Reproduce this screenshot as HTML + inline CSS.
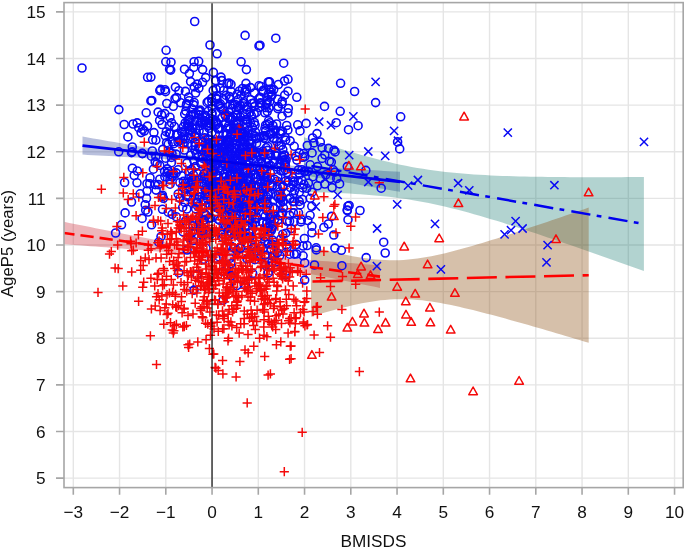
<!DOCTYPE html>
<html><head><meta charset="utf-8"><style>
html,body{margin:0;padding:0;background:#fff;width:685px;height:548px;overflow:hidden}
svg{display:block;will-change:transform;font-family:"Liberation Sans",sans-serif;font-size:17.2px;fill:#111}
</style></head><body>
<svg width="685" height="548" viewBox="0 0 685 548">
<defs><clipPath id="c"><rect x="64" y="2.6" width="619.2" height="485.0"/></clipPath></defs>
<g clip-path="url(#c)">
<path d="M73.30 2.6V487.6M119.55 2.6V487.6M165.80 2.6V487.6M212.05 2.6V487.6M258.30 2.6V487.6M304.55 2.6V487.6M350.80 2.6V487.6M397.05 2.6V487.6M443.30 2.6V487.6M489.55 2.6V487.6M535.80 2.6V487.6M582.05 2.6V487.6M628.30 2.6V487.6M674.55 2.6V487.6M64 478.10H683.2M64 431.48H683.2M64 384.86H683.2M64 338.24H683.2M64 291.62H683.2M64 245.00H683.2M64 198.38H683.2M64 151.76H683.2M64 105.14H683.2M64 58.52H683.2M64 11.90H683.2" stroke="#e5e5e5" stroke-width="1.4" fill="none"/>
<path d="M82.50 136.61 L87.79 137.52 L93.08 138.44 L98.38 139.35 L103.67 140.26 L108.96 141.17 L114.25 142.08 L119.54 142.99 L124.83 143.90 L130.12 144.81 L135.42 145.72 L140.71 146.63 L146.00 147.53 L151.29 148.44 L156.58 149.34 L161.88 150.24 L167.17 151.14 L172.46 152.04 L177.75 152.93 L183.04 153.82 L188.33 154.70 L193.62 155.57 L198.92 156.44 L204.21 157.29 L209.50 158.12 L214.79 158.93 L220.08 159.70 L225.38 160.42 L230.67 161.08 L235.96 161.67 L241.25 162.19 L246.54 162.66 L251.83 163.08 L257.12 163.47 L262.42 163.84 L267.71 164.19 L273.00 164.53 L278.29 164.86 L283.58 165.18 L288.88 165.50 L294.17 165.81 L299.46 166.12 L304.75 166.43 L310.04 166.73 L315.33 167.04 L320.62 167.34 L325.92 167.64 L331.21 167.94 L336.50 168.24 L341.79 168.53 L347.08 168.83 L352.38 169.13 L357.67 169.42 L362.96 169.72 L368.25 170.01 L373.54 170.31 L378.83 170.60 L384.12 170.90 L389.42 171.19 L394.71 171.48 L400.00 171.78 L400.00 191.82 L394.71 190.91 L389.42 190.00 L384.12 189.08 L378.83 188.17 L373.54 187.26 L368.25 186.35 L362.96 185.44 L357.67 184.52 L352.38 183.61 L347.08 182.70 L341.79 181.79 L336.50 180.88 L331.21 179.98 L325.92 179.07 L320.62 178.16 L315.33 177.26 L310.04 176.35 L304.75 175.45 L299.46 174.55 L294.17 173.65 L288.88 172.76 L283.58 171.87 L278.29 170.99 L273.00 170.11 L267.71 169.24 L262.42 168.38 L257.12 167.55 L251.83 166.73 L246.54 165.95 L241.25 165.21 L235.96 164.53 L230.67 163.91 L225.38 163.36 L220.08 162.88 L214.79 162.44 L209.50 162.04 L204.21 161.66 L198.92 161.31 L193.62 160.97 L188.33 160.63 L183.04 160.31 L177.75 159.99 L172.46 159.68 L167.17 159.37 L161.88 159.06 L156.58 158.75 L151.29 158.45 L146.00 158.15 L140.71 157.85 L135.42 157.55 L130.12 157.25 L124.83 156.95 L119.54 156.65 L114.25 156.36 L108.96 156.06 L103.67 155.77 L98.38 155.47 L93.08 155.18 L87.79 154.88 L82.50 154.59Z" fill="rgba(60,80,160,0.36)"/><path d="M64.00 221.81 L69.27 222.88 L74.53 223.94 L79.80 225.00 L85.07 226.06 L90.33 227.11 L95.60 228.17 L100.87 229.22 L106.13 230.27 L111.40 231.32 L116.67 232.37 L121.93 233.41 L127.20 234.45 L132.47 235.48 L137.73 236.51 L143.00 237.54 L148.27 238.56 L153.53 239.57 L158.80 240.57 L164.07 241.56 L169.33 242.54 L174.60 243.51 L179.87 244.47 L185.13 245.41 L190.40 246.32 L195.67 247.22 L200.93 248.09 L206.20 248.93 L211.47 249.74 L216.73 250.51 L222.00 251.25 L227.27 251.95 L232.53 252.62 L237.80 253.26 L243.07 253.87 L248.33 254.44 L253.60 255.00 L258.87 255.53 L264.13 256.04 L269.40 256.53 L274.67 257.01 L279.93 257.48 L285.20 257.94 L290.47 258.38 L295.73 258.83 L301.00 259.26 L306.27 259.69 L311.53 260.11 L316.80 260.53 L322.07 260.94 L327.33 261.35 L332.60 261.76 L337.87 262.16 L343.13 262.56 L348.40 262.96 L353.67 263.36 L358.93 263.76 L364.20 264.15 L369.47 264.54 L374.73 264.93 L380.00 265.32 L380.00 287.88 L374.73 286.81 L369.47 285.75 L364.20 284.69 L358.93 283.63 L353.67 282.57 L348.40 281.52 L343.13 280.46 L337.87 279.41 L332.60 278.36 L327.33 277.32 L322.07 276.27 L316.80 275.23 L311.53 274.20 L306.27 273.17 L301.00 272.14 L295.73 271.12 L290.47 270.11 L285.20 269.10 L279.93 268.11 L274.67 267.12 L269.40 266.15 L264.13 265.19 L258.87 264.25 L253.60 263.32 L248.33 262.42 L243.07 261.55 L237.80 260.70 L232.53 259.88 L227.27 259.10 L222.00 258.35 L216.73 257.64 L211.47 256.96 L206.20 256.31 L200.93 255.70 L195.67 255.11 L190.40 254.56 L185.13 254.02 L179.87 253.50 L174.60 253.01 L169.33 252.52 L164.07 252.05 L158.80 251.59 L153.53 251.14 L148.27 250.70 L143.00 250.26 L137.73 249.83 L132.47 249.41 L127.20 248.99 L121.93 248.58 L116.67 248.17 L111.40 247.76 L106.13 247.35 L100.87 246.95 L95.60 246.55 L90.33 246.15 L85.07 245.76 L79.80 245.36 L74.53 244.97 L69.27 244.58 L64.00 244.19Z" fill="rgba(200,30,45,0.33)"/><path d="M304.00 137.19 L309.67 139.05 L315.33 140.89 L321.00 142.71 L326.66 144.51 L332.32 146.29 L337.99 148.04 L343.65 149.76 L349.32 151.45 L354.99 153.11 L360.65 154.72 L366.31 156.30 L371.98 157.83 L377.64 159.30 L383.31 160.73 L388.98 162.09 L394.64 163.39 L400.31 164.63 L405.97 165.79 L411.63 166.89 L417.30 167.91 L422.96 168.86 L428.63 169.73 L434.29 170.54 L439.96 171.27 L445.62 171.95 L451.29 172.55 L456.95 173.10 L462.62 173.60 L468.28 174.05 L473.95 174.45 L479.62 174.80 L485.28 175.12 L490.94 175.41 L496.61 175.66 L502.27 175.89 L507.94 176.09 L513.61 176.27 L519.27 176.42 L524.93 176.56 L530.60 176.68 L536.26 176.78 L541.93 176.87 L547.60 176.94 L553.26 177.01 L558.92 177.06 L564.59 177.10 L570.25 177.14 L575.92 177.16 L581.59 177.18 L587.25 177.19 L592.91 177.20 L598.58 177.19 L604.24 177.19 L609.91 177.17 L615.58 177.16 L621.24 177.13 L626.90 177.11 L632.57 177.08 L638.23 177.05 L643.90 177.01 L643.90 270.99 L638.23 268.97 L632.57 266.96 L626.90 264.95 L621.24 262.95 L615.58 260.94 L609.91 258.95 L604.24 256.95 L598.58 254.97 L592.91 252.98 L587.25 251.01 L581.59 249.04 L575.92 247.08 L570.25 245.12 L564.59 243.18 L558.92 241.24 L553.26 239.31 L547.60 237.40 L541.93 235.49 L536.26 233.60 L530.60 231.72 L524.93 229.86 L519.27 228.02 L513.61 226.19 L507.94 224.39 L502.27 222.61 L496.61 220.86 L490.94 219.13 L485.28 217.44 L479.62 215.78 L473.95 214.15 L468.28 212.57 L462.62 211.04 L456.95 209.56 L451.29 208.13 L445.62 206.75 L439.96 205.45 L434.29 204.20 L428.63 203.03 L422.96 201.92 L417.30 200.89 L411.63 199.93 L405.97 199.05 L400.31 198.23 L394.64 197.49 L388.98 196.81 L383.31 196.19 L377.64 195.64 L371.98 195.13 L366.31 194.68 L360.65 194.28 L354.99 193.91 L349.32 193.59 L343.65 193.30 L337.99 193.04 L332.32 192.81 L326.66 192.61 L321.00 192.43 L315.33 192.27 L309.67 192.13 L304.00 192.01Z" fill="rgba(0,110,100,0.3)"/><path d="M311.00 246.71 L315.63 247.88 L320.26 249.04 L324.88 250.17 L329.51 251.26 L334.14 252.32 L338.77 253.35 L343.40 254.33 L348.03 255.26 L352.65 256.13 L357.28 256.94 L361.91 257.69 L366.54 258.35 L371.17 258.93 L375.80 259.41 L380.43 259.79 L385.05 260.06 L389.68 260.21 L394.31 260.23 L398.94 260.14 L403.57 259.92 L408.19 259.57 L412.82 259.11 L417.45 258.53 L422.08 257.85 L426.71 257.08 L431.34 256.21 L435.97 255.26 L440.59 254.25 L445.22 253.17 L449.85 252.03 L454.48 250.84 L459.11 249.61 L463.74 248.34 L468.36 247.03 L472.99 245.69 L477.62 244.33 L482.25 242.94 L486.88 241.52 L491.50 240.09 L496.13 238.64 L500.76 237.17 L505.39 235.69 L510.02 234.20 L514.65 232.69 L519.28 231.17 L523.90 229.65 L528.53 228.11 L533.16 226.57 L537.79 225.02 L542.42 223.46 L547.05 221.89 L551.67 220.32 L556.30 218.75 L560.93 217.17 L565.56 215.58 L570.19 213.99 L574.82 212.40 L579.44 210.80 L584.07 209.20 L588.70 207.60 L588.70 342.80 L584.07 341.41 L579.44 340.03 L574.82 338.65 L570.19 337.27 L565.56 335.90 L560.93 334.53 L556.30 333.17 L551.67 331.81 L547.05 330.46 L542.42 329.11 L537.79 327.77 L533.16 326.43 L528.53 325.11 L523.90 323.79 L519.28 322.48 L514.65 321.18 L510.02 319.89 L505.39 318.61 L500.76 317.34 L496.13 316.09 L491.50 314.86 L486.88 313.64 L482.25 312.45 L477.62 311.27 L472.99 310.12 L468.36 309.00 L463.74 307.91 L459.11 306.86 L454.48 305.84 L449.85 304.87 L445.22 303.95 L440.59 303.09 L435.97 302.29 L431.34 301.56 L426.71 300.91 L422.08 300.35 L417.45 299.88 L412.82 299.53 L408.19 299.28 L403.57 299.15 L398.94 299.15 L394.31 299.27 L389.68 299.51 L385.05 299.88 L380.43 300.36 L375.80 300.96 L371.17 301.66 L366.54 302.45 L361.91 303.33 L357.28 304.29 L352.65 305.32 L348.03 306.41 L343.40 307.56 L338.77 308.75 L334.14 309.99 L329.51 311.27 L324.88 312.58 L320.26 313.93 L315.63 315.30 L311.00 316.69Z" fill="rgba(140,80,20,0.36)"/>
<g fill="none" stroke="#0a0af5" stroke-width="1.6"><circle cx="300.9" cy="221.9" r="4"/><circle cx="229.7" cy="148.1" r="4"/><circle cx="213.3" cy="161.6" r="4"/><circle cx="245.5" cy="172.6" r="4"/><circle cx="175.0" cy="98.6" r="4"/><circle cx="233.7" cy="128.1" r="4"/><circle cx="200.5" cy="163.0" r="4"/><circle cx="244.2" cy="205.6" r="4"/><circle cx="265.8" cy="162.1" r="4"/><circle cx="213.9" cy="206.1" r="4"/><circle cx="228.5" cy="155.1" r="4"/><circle cx="197.4" cy="203.3" r="4"/><circle cx="198.8" cy="217.8" r="4"/><circle cx="286.9" cy="271.0" r="4"/><circle cx="208.4" cy="123.0" r="4"/><circle cx="245.9" cy="186.2" r="4"/><circle cx="281.2" cy="145.4" r="4"/><circle cx="199.2" cy="114.8" r="4"/><circle cx="239.9" cy="166.4" r="4"/><circle cx="82.0" cy="68.0" r="4"/><circle cx="304.5" cy="171.9" r="4"/><circle cx="228.4" cy="235.7" r="4"/><circle cx="229.7" cy="258.4" r="4"/><circle cx="254.4" cy="247.1" r="4"/><circle cx="235.2" cy="168.2" r="4"/><circle cx="297.7" cy="124.8" r="4"/><circle cx="246.6" cy="109.5" r="4"/><circle cx="267.7" cy="150.4" r="4"/><circle cx="212.2" cy="149.9" r="4"/><circle cx="211.9" cy="132.5" r="4"/><circle cx="239.7" cy="170.2" r="4"/><circle cx="245.1" cy="35.4" r="4"/><circle cx="209.4" cy="140.0" r="4"/><circle cx="226.1" cy="95.4" r="4"/><circle cx="187.9" cy="143.5" r="4"/><circle cx="124.2" cy="124.5" r="4"/><circle cx="254.2" cy="210.4" r="4"/><circle cx="234.4" cy="166.8" r="4"/><circle cx="164.8" cy="113.6" r="4"/><circle cx="228.5" cy="189.8" r="4"/><circle cx="229.9" cy="137.3" r="4"/><circle cx="213.0" cy="143.1" r="4"/><circle cx="261.5" cy="246.3" r="4"/><circle cx="400.7" cy="116.8" r="4"/><circle cx="397.6" cy="141.9" r="4"/><circle cx="243.1" cy="199.7" r="4"/><circle cx="268.1" cy="195.3" r="4"/><circle cx="255.5" cy="132.2" r="4"/><circle cx="161.0" cy="236.6" r="4"/><circle cx="265.4" cy="265.2" r="4"/><circle cx="131.5" cy="202.0" r="4"/><circle cx="276.0" cy="261.9" r="4"/><circle cx="221.3" cy="140.7" r="4"/><circle cx="229.4" cy="155.8" r="4"/><circle cx="216.7" cy="175.1" r="4"/><circle cx="251.3" cy="202.7" r="4"/><circle cx="269.3" cy="232.2" r="4"/><circle cx="213.3" cy="162.4" r="4"/><circle cx="268.3" cy="180.9" r="4"/><circle cx="259.0" cy="85.8" r="4"/><circle cx="159.8" cy="179.2" r="4"/><circle cx="198.5" cy="110.7" r="4"/><circle cx="212.1" cy="113.4" r="4"/><circle cx="153.4" cy="169.2" r="4"/><circle cx="155.9" cy="140.1" r="4"/><circle cx="210.8" cy="218.0" r="4"/><circle cx="227.0" cy="134.4" r="4"/><circle cx="259.5" cy="137.7" r="4"/><circle cx="172.0" cy="153.5" r="4"/><circle cx="250.2" cy="149.7" r="4"/><circle cx="238.5" cy="123.4" r="4"/><circle cx="245.4" cy="119.7" r="4"/><circle cx="204.6" cy="120.9" r="4"/><circle cx="214.0" cy="153.1" r="4"/><circle cx="187.9" cy="120.6" r="4"/><circle cx="244.2" cy="173.3" r="4"/><circle cx="215.4" cy="185.4" r="4"/><circle cx="233.0" cy="104.5" r="4"/><circle cx="275.0" cy="255.0" r="4"/><circle cx="206.0" cy="248.2" r="4"/><circle cx="292.7" cy="180.7" r="4"/><circle cx="248.1" cy="186.3" r="4"/><circle cx="286.7" cy="125.5" r="4"/><circle cx="216.1" cy="202.1" r="4"/><circle cx="320.3" cy="142.0" r="4"/><circle cx="316.2" cy="247.8" r="4"/><circle cx="204.2" cy="213.2" r="4"/><circle cx="221.8" cy="80.6" r="4"/><circle cx="230.3" cy="179.6" r="4"/><circle cx="252.7" cy="239.8" r="4"/><circle cx="179.6" cy="140.7" r="4"/><circle cx="239.3" cy="206.0" r="4"/><circle cx="150.9" cy="100.9" r="4"/><circle cx="225.1" cy="189.6" r="4"/><circle cx="150.0" cy="177.7" r="4"/><circle cx="269.7" cy="122.8" r="4"/><circle cx="202.9" cy="236.0" r="4"/><circle cx="271.7" cy="216.6" r="4"/><circle cx="243.5" cy="136.9" r="4"/><circle cx="289.7" cy="198.4" r="4"/><circle cx="294.2" cy="146.3" r="4"/><circle cx="284.1" cy="155.4" r="4"/><circle cx="256.0" cy="138.6" r="4"/><circle cx="282.1" cy="156.7" r="4"/><circle cx="328.5" cy="148.4" r="4"/><circle cx="262.8" cy="151.2" r="4"/><circle cx="274.6" cy="179.3" r="4"/><circle cx="229.4" cy="162.8" r="4"/><circle cx="225.8" cy="122.6" r="4"/><circle cx="236.3" cy="169.5" r="4"/><circle cx="212.9" cy="192.2" r="4"/><circle cx="162.2" cy="196.7" r="4"/><circle cx="229.8" cy="224.7" r="4"/><circle cx="246.4" cy="124.1" r="4"/><circle cx="285.4" cy="169.9" r="4"/><circle cx="347.3" cy="210.0" r="4"/><circle cx="137.3" cy="171.0" r="4"/><circle cx="224.5" cy="198.1" r="4"/><circle cx="223.9" cy="225.4" r="4"/><circle cx="213.0" cy="119.5" r="4"/><circle cx="208.3" cy="111.2" r="4"/><circle cx="199.1" cy="130.7" r="4"/><circle cx="293.1" cy="184.7" r="4"/><circle cx="260.8" cy="103.5" r="4"/><circle cx="247.7" cy="193.1" r="4"/><circle cx="252.5" cy="193.3" r="4"/><circle cx="220.4" cy="165.3" r="4"/><circle cx="285.5" cy="275.0" r="4"/><circle cx="241.7" cy="209.1" r="4"/><circle cx="261.1" cy="136.5" r="4"/><circle cx="285.4" cy="165.2" r="4"/><circle cx="276.7" cy="141.5" r="4"/><circle cx="241.8" cy="193.0" r="4"/><circle cx="259.8" cy="170.5" r="4"/><circle cx="218.6" cy="105.2" r="4"/><circle cx="150.9" cy="77.1" r="4"/><circle cx="225.4" cy="164.3" r="4"/><circle cx="271.9" cy="244.0" r="4"/><circle cx="216.9" cy="99.1" r="4"/><circle cx="224.4" cy="151.2" r="4"/><circle cx="208.8" cy="142.6" r="4"/><circle cx="210.4" cy="173.4" r="4"/><circle cx="205.7" cy="116.9" r="4"/><circle cx="320.3" cy="178.5" r="4"/><circle cx="115.6" cy="233.0" r="4"/><circle cx="298.4" cy="169.9" r="4"/><circle cx="221.1" cy="144.4" r="4"/><circle cx="253.9" cy="212.4" r="4"/><circle cx="206.1" cy="124.4" r="4"/><circle cx="227.2" cy="186.9" r="4"/><circle cx="243.1" cy="103.5" r="4"/><circle cx="231.7" cy="186.2" r="4"/><circle cx="205.1" cy="115.3" r="4"/><circle cx="237.0" cy="124.4" r="4"/><circle cx="188.6" cy="97.1" r="4"/><circle cx="187.7" cy="196.9" r="4"/><circle cx="329.4" cy="161.2" r="4"/><circle cx="226.7" cy="196.8" r="4"/><circle cx="170.0" cy="174.5" r="4"/><circle cx="162.0" cy="124.5" r="4"/><circle cx="158.1" cy="112.1" r="4"/><circle cx="158.7" cy="242.2" r="4"/><circle cx="188.8" cy="171.6" r="4"/><circle cx="219.9" cy="170.8" r="4"/><circle cx="304.4" cy="238.5" r="4"/><circle cx="234.4" cy="229.5" r="4"/><circle cx="299.3" cy="192.2" r="4"/><circle cx="224.0" cy="174.3" r="4"/><circle cx="255.7" cy="251.1" r="4"/><circle cx="312.1" cy="192.2" r="4"/><circle cx="273.0" cy="256.1" r="4"/><circle cx="283.6" cy="170.8" r="4"/><circle cx="216.1" cy="112.4" r="4"/><circle cx="133.1" cy="124.0" r="4"/><circle cx="269.3" cy="266.1" r="4"/><circle cx="229.0" cy="112.1" r="4"/><circle cx="273.1" cy="138.2" r="4"/><circle cx="217.9" cy="219.2" r="4"/><circle cx="254.4" cy="93.0" r="4"/><circle cx="244.2" cy="139.5" r="4"/><circle cx="232.6" cy="190.0" r="4"/><circle cx="203.0" cy="208.1" r="4"/><circle cx="233.5" cy="182.3" r="4"/><circle cx="244.0" cy="178.1" r="4"/><circle cx="245.6" cy="285.7" r="4"/><circle cx="155.8" cy="156.4" r="4"/><circle cx="232.0" cy="133.5" r="4"/><circle cx="270.5" cy="155.5" r="4"/><circle cx="275.2" cy="130.1" r="4"/><circle cx="247.7" cy="106.6" r="4"/><circle cx="173.6" cy="173.5" r="4"/><circle cx="142.2" cy="153.4" r="4"/><circle cx="218.1" cy="128.3" r="4"/><circle cx="252.0" cy="204.5" r="4"/><circle cx="251.5" cy="153.3" r="4"/><circle cx="248.8" cy="152.1" r="4"/><circle cx="203.7" cy="132.4" r="4"/><circle cx="233.1" cy="116.9" r="4"/><circle cx="227.1" cy="141.2" r="4"/><circle cx="301.4" cy="219.8" r="4"/><circle cx="172.1" cy="176.8" r="4"/><circle cx="210.8" cy="123.8" r="4"/><circle cx="280.3" cy="203.0" r="4"/><circle cx="127.9" cy="136.9" r="4"/><circle cx="229.4" cy="143.0" r="4"/><circle cx="207.6" cy="189.5" r="4"/><circle cx="245.9" cy="208.0" r="4"/><circle cx="197.6" cy="206.1" r="4"/><circle cx="215.3" cy="231.8" r="4"/><circle cx="281.0" cy="170.9" r="4"/><circle cx="298.2" cy="180.9" r="4"/><circle cx="256.9" cy="251.3" r="4"/><circle cx="257.5" cy="152.7" r="4"/><circle cx="265.7" cy="130.9" r="4"/><circle cx="231.0" cy="91.4" r="4"/><circle cx="220.8" cy="155.2" r="4"/><circle cx="258.9" cy="196.3" r="4"/><circle cx="212.7" cy="206.3" r="4"/><circle cx="235.2" cy="136.0" r="4"/><circle cx="208.7" cy="204.1" r="4"/><circle cx="347.3" cy="210.5" r="4"/><circle cx="205.7" cy="159.8" r="4"/><circle cx="302.0" cy="180.3" r="4"/><circle cx="291.1" cy="228.6" r="4"/><circle cx="173.3" cy="106.3" r="4"/><circle cx="176.6" cy="135.1" r="4"/><circle cx="218.8" cy="256.7" r="4"/><circle cx="252.8" cy="190.2" r="4"/><circle cx="260.6" cy="181.9" r="4"/><circle cx="239.4" cy="135.1" r="4"/><circle cx="263.5" cy="154.9" r="4"/><circle cx="217.7" cy="183.0" r="4"/><circle cx="238.5" cy="183.2" r="4"/><circle cx="151.4" cy="156.2" r="4"/><circle cx="261.1" cy="158.6" r="4"/><circle cx="197.0" cy="172.9" r="4"/><circle cx="294.5" cy="190.6" r="4"/><circle cx="183.1" cy="143.2" r="4"/><circle cx="142.4" cy="153.6" r="4"/><circle cx="166.8" cy="103.5" r="4"/><circle cx="224.9" cy="114.6" r="4"/><circle cx="255.1" cy="125.1" r="4"/><circle cx="168.3" cy="212.2" r="4"/><circle cx="258.7" cy="152.5" r="4"/><circle cx="223.1" cy="110.5" r="4"/><circle cx="294.0" cy="181.9" r="4"/><circle cx="216.2" cy="207.7" r="4"/><circle cx="250.2" cy="162.2" r="4"/><circle cx="172.4" cy="141.9" r="4"/><circle cx="248.0" cy="237.1" r="4"/><circle cx="242.7" cy="183.8" r="4"/><circle cx="234.7" cy="223.7" r="4"/><circle cx="365.8" cy="170.4" r="4"/><circle cx="216.2" cy="154.2" r="4"/><circle cx="220.5" cy="194.9" r="4"/><circle cx="348.5" cy="129.7" r="4"/><circle cx="260.4" cy="102.9" r="4"/><circle cx="251.2" cy="197.0" r="4"/><circle cx="236.4" cy="141.1" r="4"/><circle cx="227.9" cy="118.1" r="4"/><circle cx="165.2" cy="135.8" r="4"/><circle cx="336.7" cy="178.5" r="4"/><circle cx="146.5" cy="198.3" r="4"/><circle cx="268.3" cy="193.8" r="4"/><circle cx="235.9" cy="218.4" r="4"/><circle cx="247.6" cy="180.4" r="4"/><circle cx="296.3" cy="244.6" r="4"/><circle cx="167.3" cy="168.9" r="4"/><circle cx="266.8" cy="210.5" r="4"/><circle cx="209.1" cy="125.8" r="4"/><circle cx="303.6" cy="153.5" r="4"/><circle cx="170.2" cy="133.6" r="4"/><circle cx="311.9" cy="232.8" r="4"/><circle cx="184.4" cy="150.0" r="4"/><circle cx="226.8" cy="205.0" r="4"/><circle cx="280.3" cy="133.6" r="4"/><circle cx="229.2" cy="235.7" r="4"/><circle cx="219.8" cy="207.9" r="4"/><circle cx="220.5" cy="154.1" r="4"/><circle cx="254.2" cy="106.7" r="4"/><circle cx="239.2" cy="232.1" r="4"/><circle cx="190.6" cy="183.5" r="4"/><circle cx="248.4" cy="161.3" r="4"/><circle cx="261.1" cy="163.6" r="4"/><circle cx="270.0" cy="153.8" r="4"/><circle cx="165.7" cy="158.2" r="4"/><circle cx="203.8" cy="201.4" r="4"/><circle cx="223.1" cy="300.2" r="4"/><circle cx="137.0" cy="182.8" r="4"/><circle cx="300.1" cy="204.9" r="4"/><circle cx="259.4" cy="107.5" r="4"/><circle cx="220.2" cy="106.6" r="4"/><circle cx="230.5" cy="214.1" r="4"/><circle cx="230.2" cy="185.7" r="4"/><circle cx="184.8" cy="132.3" r="4"/><circle cx="206.8" cy="152.2" r="4"/><circle cx="226.5" cy="247.3" r="4"/><circle cx="270.9" cy="194.2" r="4"/><circle cx="285.1" cy="137.2" r="4"/><circle cx="242.6" cy="183.5" r="4"/><circle cx="231.1" cy="135.2" r="4"/><circle cx="171.4" cy="157.4" r="4"/><circle cx="212.2" cy="108.4" r="4"/><circle cx="266.9" cy="222.5" r="4"/><circle cx="273.2" cy="214.3" r="4"/><circle cx="231.8" cy="108.5" r="4"/><circle cx="220.5" cy="194.1" r="4"/><circle cx="225.5" cy="176.7" r="4"/><circle cx="228.5" cy="151.6" r="4"/><circle cx="272.6" cy="226.6" r="4"/><circle cx="288.0" cy="91.2" r="4"/><circle cx="252.8" cy="191.6" r="4"/><circle cx="145.7" cy="210.2" r="4"/><circle cx="265.2" cy="216.1" r="4"/><circle cx="240.0" cy="133.7" r="4"/><circle cx="259.8" cy="199.5" r="4"/><circle cx="248.5" cy="225.7" r="4"/><circle cx="261.0" cy="86.5" r="4"/><circle cx="287.9" cy="130.0" r="4"/><circle cx="228.1" cy="182.4" r="4"/><circle cx="212.0" cy="175.4" r="4"/><circle cx="251.8" cy="144.3" r="4"/><circle cx="204.3" cy="120.5" r="4"/><circle cx="230.6" cy="117.4" r="4"/><circle cx="271.2" cy="96.4" r="4"/><circle cx="277.3" cy="181.2" r="4"/><circle cx="269.9" cy="214.4" r="4"/><circle cx="205.7" cy="143.0" r="4"/><circle cx="280.9" cy="131.6" r="4"/><circle cx="225.3" cy="227.5" r="4"/><circle cx="252.4" cy="155.5" r="4"/><circle cx="284.5" cy="81.0" r="4"/><circle cx="266.9" cy="166.7" r="4"/><circle cx="267.7" cy="159.8" r="4"/><circle cx="263.4" cy="155.8" r="4"/><circle cx="239.2" cy="107.9" r="4"/><circle cx="339.6" cy="183.9" r="4"/><circle cx="183.0" cy="231.8" r="4"/><circle cx="195.2" cy="146.0" r="4"/><circle cx="262.9" cy="153.2" r="4"/><circle cx="289.8" cy="254.2" r="4"/><circle cx="267.0" cy="103.1" r="4"/><circle cx="192.2" cy="180.5" r="4"/><circle cx="292.9" cy="177.8" r="4"/><circle cx="226.7" cy="140.0" r="4"/><circle cx="282.5" cy="212.9" r="4"/><circle cx="226.6" cy="151.2" r="4"/></g>
<path fill="none" stroke="#f50a0a" stroke-width="1.5" d="M218.2 219.9h9.2M222.8 215.3v9.2M245.8 255.0h9.2M250.4 250.4v9.2M252.5 288.7h9.2M257.1 284.1v9.2"/>
<g fill="none" stroke="#0a0af5" stroke-width="1.6"><circle cx="358.1" cy="125.7" r="4"/></g>
<path fill="none" stroke="#f50a0a" stroke-width="1.5" d="M248.6 182.9h9.2M253.2 178.3v9.2M190.6 303.2h9.2M195.2 298.6v9.2M220.2 229.9h9.2M224.8 225.3v9.2"/>
<g fill="none" stroke="#0a0af5" stroke-width="1.6"><circle cx="287.2" cy="247.1" r="4"/></g>
<path fill="none" stroke="#f50a0a" stroke-width="1.5" d="M293.0 270.8h9.2M297.6 266.2v9.2"/>
<g fill="none" stroke="#0a0af5" stroke-width="1.6"><circle cx="210.0" cy="45.0" r="4"/></g>
<path fill="none" stroke="#f50a0a" stroke-width="1.5" d="M199.6 139.0h9.2M204.2 134.4v9.2M236.8 265.6h9.2M241.4 261.0v9.2"/>
<g fill="none" stroke="#0a0af5" stroke-width="1.6"><circle cx="200.2" cy="110.1" r="4"/></g>
<path fill="none" stroke="#f50a0a" stroke-width="1.5" d="M257.2 233.8h9.2M261.8 229.2v9.2"/>
<g fill="none" stroke="#0a0af5" stroke-width="1.6"><circle cx="250.5" cy="236.6" r="4"/></g>
<path fill="none" stroke="#f50a0a" stroke-width="1.5" d="M297.6 432.3h9.2M302.2 427.7v9.2M254.6 234.5h9.2M259.2 229.9v9.2M249.0 325.4h9.2M253.6 320.8v9.2"/>
<g fill="none" stroke="#0a0af5" stroke-width="1.6"><circle cx="175.4" cy="87.1" r="4"/></g>
<path fill="none" stroke="#f50a0a" stroke-width="1.5" d="M227.1 228.6h9.2M231.7 224.0v9.2"/>
<g fill="none" stroke="#0a0af5" stroke-width="1.6"><circle cx="198.1" cy="156.7" r="4"/><circle cx="239.8" cy="177.0" r="4"/><circle cx="205.9" cy="187.8" r="4"/><circle cx="304.8" cy="156.6" r="4"/></g>
<path fill="none" stroke="#f50a0a" stroke-width="1.5" d="M287.3 172.7h9.2M291.9 168.1v9.2M113.1 245.1h9.2M117.7 240.5v9.2M257.8 296.3h9.2M262.4 291.7v9.2M218.1 261.8h9.2M222.7 257.2v9.2"/>
<g fill="none" stroke="#0a0af5" stroke-width="1.6"><circle cx="249.4" cy="203.1" r="4"/></g>
<path fill="none" stroke="#f50a0a" stroke-width="1.5" d="M318.2 217.5h9.2M322.8 212.9v9.2"/>
<g fill="none" stroke="#0a0af5" stroke-width="1.6"><circle cx="242.2" cy="166.1" r="4"/></g>
<path fill="none" stroke="#f50a0a" stroke-width="1.5" d="M166.3 231.4h9.2M170.9 226.8v9.2"/>
<g fill="none" stroke="#0a0af5" stroke-width="1.6"><circle cx="248.3" cy="130.3" r="4"/></g>
<path fill="none" stroke="#f50a0a" stroke-width="1.5" d="M218.6 296.1h9.2M223.2 291.5v9.2"/>
<g fill="none" stroke="#0a0af5" stroke-width="1.6"><circle cx="228.9" cy="187.1" r="4"/></g>
<path fill="none" stroke="#f50a0a" stroke-width="1.5" d="M104.9 254.1h9.2M109.5 249.5v9.2M188.4 218.9h9.2M193.0 214.3v9.2"/>
<g fill="none" stroke="#0a0af5" stroke-width="1.6"><circle cx="262.5" cy="193.7" r="4"/><circle cx="270.3" cy="172.7" r="4"/></g>
<path fill="none" stroke="#f50a0a" stroke-width="1.5" d="M288.8 245.2h9.2M293.4 240.6v9.2"/>
<g fill="none" stroke="#0a0af5" stroke-width="1.6"><circle cx="178.9" cy="90.7" r="4"/><circle cx="244.7" cy="157.9" r="4"/></g>
<path fill="none" stroke="#f50a0a" stroke-width="1.5" d="M180.3 261.8h9.2M184.9 257.2v9.2M234.6 333.1h9.2M239.2 328.5v9.2M232.8 305.5h9.2M237.4 300.9v9.2"/>
<g fill="none" stroke="#0a0af5" stroke-width="1.6"><circle cx="221.0" cy="108.4" r="4"/><circle cx="240.0" cy="136.5" r="4"/><circle cx="277.8" cy="108.6" r="4"/><circle cx="231.8" cy="164.2" r="4"/></g>
<path fill="none" stroke="#f50a0a" stroke-width="1.5" d="M226.2 231.0h9.2M230.8 226.4v9.2M159.6 270.6h9.2M164.2 266.0v9.2"/>
<g fill="none" stroke="#0a0af5" stroke-width="1.6"><circle cx="216.6" cy="95.8" r="4"/><circle cx="147.5" cy="126.1" r="4"/></g>
<path fill="none" stroke="#f50a0a" stroke-width="1.5" d="M197.2 176.4h9.2M201.8 171.8v9.2"/>
<g fill="none" stroke="#0a0af5" stroke-width="1.6"><circle cx="125.1" cy="212.9" r="4"/></g>
<path fill="none" stroke="#f50a0a" stroke-width="1.5" d="M166.9 238.7h9.2M171.5 234.1v9.2M275.5 301.7h9.2M280.1 297.1v9.2M192.2 206.3h9.2M196.8 201.7v9.2M231.1 295.7h9.2M235.7 291.1v9.2M285.0 277.1h9.2M289.6 272.5v9.2M208.2 174.8h9.2M212.8 170.2v9.2M250.7 329.4h9.2M255.3 324.8v9.2"/>
<g fill="none" stroke="#0a0af5" stroke-width="1.6"><circle cx="275.8" cy="38.2" r="4"/><circle cx="252.4" cy="225.0" r="4"/></g>
<path fill="none" stroke="#f50a0a" stroke-width="1.5" d="M247.7 314.1h9.2M252.3 309.5v9.2M216.1 212.4h9.2M220.7 207.8v9.2M153.4 293.5h9.2M158.0 288.9v9.2M300.3 325.8h9.2M304.9 321.2v9.2"/>
<g fill="none" stroke="#0a0af5" stroke-width="1.6"><circle cx="162.4" cy="195.2" r="4"/></g>
<path fill="none" stroke="#f50a0a" stroke-width="1.5" d="M138.2 172.8h9.2M142.8 168.2v9.2"/>
<g fill="none" stroke="#0a0af5" stroke-width="1.6"><circle cx="283.7" cy="63.2" r="4"/></g>
<path fill="none" stroke="#f50a0a" stroke-width="1.5" d="M196.2 232.9h9.2M200.8 228.3v9.2"/>
<g fill="none" stroke="#0a0af5" stroke-width="1.6"><circle cx="231.7" cy="164.9" r="4"/><circle cx="137.1" cy="122.9" r="4"/><circle cx="221.5" cy="160.7" r="4"/><circle cx="203.7" cy="259.3" r="4"/></g>
<path fill="none" stroke="#f50a0a" stroke-width="1.5" d="M123.6 199.6h9.2M128.2 195.0v9.2M212.5 322.2h9.2M217.1 317.6v9.2M272.1 291.1h9.2M276.7 286.5v9.2"/>
<g fill="none" stroke="#0a0af5" stroke-width="1.6"><circle cx="227.1" cy="214.5" r="4"/></g>
<path fill="none" stroke="#f50a0a" stroke-width="1.5" d="M228.3 192.2h9.2M232.9 187.6v9.2"/>
<g fill="none" stroke="#0a0af5" stroke-width="1.6"><circle cx="200.0" cy="149.5" r="4"/></g>
<path fill="none" stroke="#f50a0a" stroke-width="1.5" d="M203.2 324.2h9.2M207.8 319.6v9.2M203.2 221.3h9.2M207.8 216.7v9.2M176.4 282.5h9.2M181.0 277.9v9.2"/>
<g fill="none" stroke="#0a0af5" stroke-width="1.6"><circle cx="208.1" cy="139.1" r="4"/><circle cx="242.6" cy="179.3" r="4"/></g>
<path fill="none" stroke="#f50a0a" stroke-width="1.5" d="M216.8 199.6h9.2M221.4 195.0v9.2M226.7 222.5h9.2M231.3 217.9v9.2"/>
<g fill="none" stroke="#0a0af5" stroke-width="1.6"><circle cx="161.6" cy="114.9" r="4"/></g>
<path fill="none" stroke="#f50a0a" stroke-width="1.5" d="M286.5 154.8h9.2M291.1 150.2v9.2"/>
<g fill="none" stroke="#0a0af5" stroke-width="1.6"><circle cx="229.5" cy="183.7" r="4"/></g>
<path fill="none" stroke="#f50a0a" stroke-width="1.5" d="M187.8 203.6h9.2M192.4 199.0v9.2"/>
<g fill="none" stroke="#0a0af5" stroke-width="1.6"><circle cx="263.1" cy="90.4" r="4"/><circle cx="250.6" cy="205.6" r="4"/><circle cx="263.4" cy="214.3" r="4"/><circle cx="215.4" cy="148.9" r="4"/></g>
<path fill="none" stroke="#f50a0a" stroke-width="1.5" d="M146.5 248.7h9.2M151.1 244.1v9.2"/>
<g fill="none" stroke="#0a0af5" stroke-width="1.6"><circle cx="283.4" cy="201.3" r="4"/></g>
<path fill="none" stroke="#f50a0a" stroke-width="1.5" d="M197.0 218.4h9.2M201.6 213.8v9.2M291.3 301.0h9.2M295.9 296.4v9.2M186.5 218.0h9.2M191.1 213.4v9.2M128.8 250.2h9.2M133.4 245.6v9.2M149.0 222.3h9.2M153.6 217.7v9.2M183.4 315.5h9.2M188.0 310.9v9.2"/>
<g fill="none" stroke="#0a0af5" stroke-width="1.6"><circle cx="244.7" cy="185.5" r="4"/><circle cx="232.7" cy="142.8" r="4"/></g>
<path fill="none" stroke="#f50a0a" stroke-width="1.5" d="M281.7 299.2h9.2M286.3 294.6v9.2"/>
<g fill="none" stroke="#0a0af5" stroke-width="1.6"><circle cx="220.1" cy="88.0" r="4"/><circle cx="278.6" cy="198.1" r="4"/><circle cx="223.0" cy="271.8" r="4"/><circle cx="220.1" cy="209.7" r="4"/><circle cx="195.6" cy="136.3" r="4"/><circle cx="247.4" cy="193.1" r="4"/><circle cx="202.6" cy="183.9" r="4"/><circle cx="242.2" cy="133.4" r="4"/><circle cx="278.4" cy="84.5" r="4"/></g>
<path fill="none" stroke="#f50a0a" stroke-width="1.5" d="M187.8 230.6h9.2M192.4 226.0v9.2M244.8 250.0h9.2M249.4 245.4v9.2M188.7 287.4h9.2M193.3 282.8v9.2M277.9 210.5h9.2M282.5 205.9v9.2"/>
<g fill="none" stroke="#0a0af5" stroke-width="1.6"><circle cx="310.2" cy="164.8" r="4"/><circle cx="213.5" cy="200.9" r="4"/><circle cx="270.6" cy="133.7" r="4"/></g>
<path fill="none" stroke="#f50a0a" stroke-width="1.5" d="M211.3 368.1h9.2M215.9 363.5v9.2M205.1 186.4h9.2M209.7 181.8v9.2"/>
<g fill="none" stroke="#0a0af5" stroke-width="1.6"><circle cx="142.7" cy="129.3" r="4"/></g>
<path fill="none" stroke="#f50a0a" stroke-width="1.5" d="M302.5 325.0h9.2M307.1 320.4v9.2"/>
<g fill="none" stroke="#0a0af5" stroke-width="1.6"><circle cx="349.1" cy="205.5" r="4"/></g>
<path fill="none" stroke="#f50a0a" stroke-width="1.5" d="M256.6 228.5h9.2M261.2 223.9v9.2M262.2 265.7h9.2M266.8 261.1v9.2M225.3 264.4h9.2M229.9 259.8v9.2"/>
<g fill="none" stroke="#0a0af5" stroke-width="1.6"><circle cx="207.7" cy="180.5" r="4"/></g>
<path fill="none" stroke="#f50a0a" stroke-width="1.5" d="M193.2 341.9h9.2M197.8 337.3v9.2"/>
<g fill="none" stroke="#0a0af5" stroke-width="1.6"><circle cx="324.8" cy="154.8" r="4"/></g>
<path fill="none" stroke="#f50a0a" stroke-width="1.5" d="M268.5 278.2h9.2M273.1 273.6v9.2"/>
<g fill="none" stroke="#0a0af5" stroke-width="1.6"><circle cx="220.3" cy="103.8" r="4"/><circle cx="160.5" cy="89.3" r="4"/><circle cx="204.6" cy="137.9" r="4"/><circle cx="211.9" cy="101.9" r="4"/><circle cx="252.5" cy="159.0" r="4"/><circle cx="182.7" cy="186.6" r="4"/><circle cx="267.1" cy="176.5" r="4"/></g>
<path fill="none" stroke="#f50a0a" stroke-width="1.5" d="M168.8 284.9h9.2M173.4 280.3v9.2M301.6 274.2h9.2M306.2 269.6v9.2M237.2 269.6h9.2M241.8 265.0v9.2"/>
<g fill="none" stroke="#0a0af5" stroke-width="1.6"><circle cx="153.9" cy="132.6" r="4"/><circle cx="310.1" cy="215.3" r="4"/><circle cx="189.9" cy="187.0" r="4"/><circle cx="246.4" cy="69.6" r="4"/></g>
<path fill="none" stroke="#f50a0a" stroke-width="1.5" d="M226.8 284.2h9.2M231.4 279.6v9.2M192.2 267.3h9.2M196.8 262.7v9.2M205.2 241.3h9.2M209.8 236.7v9.2"/>
<g fill="none" stroke="#0a0af5" stroke-width="1.6"><circle cx="243.6" cy="147.0" r="4"/><circle cx="257.2" cy="166.6" r="4"/><circle cx="230.7" cy="154.0" r="4"/><circle cx="209.9" cy="118.3" r="4"/></g>
<path fill="none" stroke="#f50a0a" stroke-width="1.5" d="M290.1 331.6h9.2M294.7 327.0v9.2"/>
<g fill="none" stroke="#0a0af5" stroke-width="1.6"><circle cx="206.2" cy="230.6" r="4"/></g>
<path fill="none" stroke="#f50a0a" stroke-width="1.5" d="M243.2 290.1h9.2M247.8 285.5v9.2"/>
<g fill="none" stroke="#0a0af5" stroke-width="1.6"><circle cx="245.9" cy="238.0" r="4"/><circle cx="280.0" cy="191.8" r="4"/></g>
<path fill="none" stroke="#f50a0a" stroke-width="1.5" d="M242.2 277.2h9.2M246.8 272.6v9.2"/>
<g fill="none" stroke="#0a0af5" stroke-width="1.6"><circle cx="216.1" cy="175.1" r="4"/></g>
<path fill="none" stroke="#f50a0a" stroke-width="1.5" d="M220.1 252.2h9.2M224.7 247.6v9.2M209.0 277.3h9.2M213.6 272.7v9.2"/>
<g fill="none" stroke="#0a0af5" stroke-width="1.6"><circle cx="252.7" cy="152.1" r="4"/><circle cx="176.1" cy="172.9" r="4"/><circle cx="263.0" cy="222.8" r="4"/></g>
<path fill="none" stroke="#f50a0a" stroke-width="1.5" d="M138.1 287.3h9.2M142.7 282.7v9.2M144.2 207.5h9.2M148.8 202.9v9.2"/>
<g fill="none" stroke="#0a0af5" stroke-width="1.6"><circle cx="234.8" cy="104.2" r="4"/><circle cx="169.6" cy="69.2" r="4"/><circle cx="149.7" cy="183.7" r="4"/></g>
<path fill="none" stroke="#f50a0a" stroke-width="1.5" d="M195.0 259.4h9.2M199.6 254.8v9.2"/>
<g fill="none" stroke="#0a0af5" stroke-width="1.6"><circle cx="252.4" cy="133.8" r="4"/><circle cx="166.1" cy="50.3" r="4"/><circle cx="221.5" cy="157.5" r="4"/><circle cx="313.9" cy="142.9" r="4"/></g>
<path fill="none" stroke="#f50a0a" stroke-width="1.5" d="M131.5 243.0h9.2M136.1 238.4v9.2M168.7 333.1h9.2M173.3 328.5v9.2"/>
<g fill="none" stroke="#0a0af5" stroke-width="1.6"><circle cx="276.8" cy="153.3" r="4"/><circle cx="273.7" cy="89.6" r="4"/></g>
<path fill="none" stroke="#f50a0a" stroke-width="1.5" d="M223.4 293.9h9.2M228.0 289.3v9.2"/>
<g fill="none" stroke="#0a0af5" stroke-width="1.6"><circle cx="141.1" cy="132.6" r="4"/><circle cx="219.1" cy="127.7" r="4"/></g>
<path fill="none" stroke="#f50a0a" stroke-width="1.5" d="M227.8 216.3h9.2M232.4 211.7v9.2M260.1 303.7h9.2M264.7 299.1v9.2M207.3 208.2h9.2M211.9 203.6v9.2M231.2 254.2h9.2M235.8 249.6v9.2"/>
<g fill="none" stroke="#0a0af5" stroke-width="1.6"><circle cx="276.4" cy="195.8" r="4"/><circle cx="290.5" cy="187.5" r="4"/><circle cx="240.5" cy="117.1" r="4"/><circle cx="270.8" cy="92.1" r="4"/></g>
<path fill="none" stroke="#f50a0a" stroke-width="1.5" d="M210.5 195.3h9.2M215.1 190.7v9.2"/>
<g fill="none" stroke="#0a0af5" stroke-width="1.6"><circle cx="284.4" cy="163.5" r="4"/><circle cx="241.4" cy="202.2" r="4"/><circle cx="186.7" cy="103.7" r="4"/><circle cx="324.5" cy="106.4" r="4"/><circle cx="304.0" cy="184.3" r="4"/></g>
<path fill="none" stroke="#f50a0a" stroke-width="1.5" d="M249.6 181.6h9.2M254.2 177.0v9.2M257.8 296.2h9.2M262.4 291.6v9.2"/>
<g fill="none" stroke="#0a0af5" stroke-width="1.6"><circle cx="172.1" cy="214.3" r="4"/><circle cx="251.4" cy="115.9" r="4"/></g>
<path fill="none" stroke="#f50a0a" stroke-width="1.5" d="M266.9 230.1h9.2M271.5 225.5v9.2"/>
<g fill="none" stroke="#0a0af5" stroke-width="1.6"><circle cx="294.2" cy="254.1" r="4"/><circle cx="282.5" cy="131.2" r="4"/><circle cx="276.6" cy="124.0" r="4"/></g>
<path fill="none" stroke="#f50a0a" stroke-width="1.5" d="M245.7 212.8h9.2M250.3 208.2v9.2"/>
<g fill="none" stroke="#0a0af5" stroke-width="1.6"><circle cx="271.2" cy="89.4" r="4"/></g>
<path fill="none" stroke="#f50a0a" stroke-width="1.5" d="M224.4 291.9h9.2M229.0 287.3v9.2M168.1 304.8h9.2M172.7 300.2v9.2"/>
<g fill="none" stroke="#0a0af5" stroke-width="1.6"><circle cx="317.5" cy="166.6" r="4"/></g>
<path fill="none" stroke="#f50a0a" stroke-width="1.5" d="M290.9 318.6h9.2M295.5 314.0v9.2"/>
<g fill="none" stroke="#0a0af5" stroke-width="1.6"><circle cx="246.2" cy="164.3" r="4"/><circle cx="190.6" cy="81.6" r="4"/></g>
<path fill="none" stroke="#f50a0a" stroke-width="1.5" d="M248.2 221.4h9.2M252.8 216.8v9.2M150.1 286.0h9.2M154.7 281.4v9.2M230.3 258.1h9.2M234.9 253.5v9.2"/>
<g fill="none" stroke="#0a0af5" stroke-width="1.6"><circle cx="214.3" cy="141.6" r="4"/><circle cx="231.3" cy="205.7" r="4"/><circle cx="195.8" cy="113.3" r="4"/><circle cx="247.3" cy="127.0" r="4"/></g>
<path fill="none" stroke="#f50a0a" stroke-width="1.5" d="M167.4 233.6h9.2M172.0 229.0v9.2"/>
<g fill="none" stroke="#0a0af5" stroke-width="1.6"><circle cx="265.6" cy="125.2" r="4"/></g>
<path fill="none" stroke="#f50a0a" stroke-width="1.5" d="M219.4 301.9h9.2M224.0 297.3v9.2"/>
<g fill="none" stroke="#0a0af5" stroke-width="1.6"><circle cx="216.6" cy="202.0" r="4"/></g>
<path fill="none" stroke="#f50a0a" stroke-width="1.5" d="M220.8 229.2h9.2M225.4 224.6v9.2"/>
<g fill="none" stroke="#0a0af5" stroke-width="1.6"><circle cx="243.8" cy="152.4" r="4"/><circle cx="131.5" cy="152.7" r="4"/></g>
<path fill="none" stroke="#f50a0a" stroke-width="1.5" d="M206.4 235.1h9.2M211.0 230.5v9.2"/>
<g fill="none" stroke="#0a0af5" stroke-width="1.6"><circle cx="296.6" cy="254.0" r="4"/><circle cx="230.0" cy="99.1" r="4"/></g>
<path fill="none" stroke="#f50a0a" stroke-width="1.5" d="M260.0 277.2h9.2M264.6 272.6v9.2M206.1 234.4h9.2M210.7 229.8v9.2"/>
<g fill="none" stroke="#0a0af5" stroke-width="1.6"><circle cx="204.5" cy="178.8" r="4"/><circle cx="255.5" cy="136.4" r="4"/><circle cx="238.7" cy="180.3" r="4"/><circle cx="196.4" cy="184.0" r="4"/><circle cx="240.7" cy="153.5" r="4"/><circle cx="142.1" cy="218.4" r="4"/><circle cx="164.8" cy="176.8" r="4"/><circle cx="334.9" cy="248.1" r="4"/></g>
<path fill="none" stroke="#f50a0a" stroke-width="1.5" d="M220.0 301.7h9.2M224.6 297.1v9.2"/>
<g fill="none" stroke="#0a0af5" stroke-width="1.6"><circle cx="399.7" cy="148.9" r="4"/><circle cx="234.3" cy="125.0" r="4"/><circle cx="248.0" cy="216.7" r="4"/></g>
<path fill="none" stroke="#f50a0a" stroke-width="1.5" d="M224.6 274.5h9.2M229.2 269.9v9.2"/>
<g fill="none" stroke="#0a0af5" stroke-width="1.6"><circle cx="250.5" cy="176.7" r="4"/><circle cx="250.3" cy="194.5" r="4"/><circle cx="201.5" cy="163.9" r="4"/><circle cx="253.3" cy="152.1" r="4"/></g>
<path fill="none" stroke="#f50a0a" stroke-width="1.5" d="M269.8 148.3h9.2M274.4 143.7v9.2"/>
<g fill="none" stroke="#0a0af5" stroke-width="1.6"><circle cx="221.5" cy="201.8" r="4"/><circle cx="186.4" cy="105.4" r="4"/><circle cx="256.5" cy="112.4" r="4"/></g>
<path fill="none" stroke="#f50a0a" stroke-width="1.5" d="M280.8 255.2h9.2M285.4 250.6v9.2M172.7 270.5h9.2M177.3 265.9v9.2M158.0 285.8h9.2M162.6 281.2v9.2M302.2 298.6h9.2M306.8 294.0v9.2M219.7 114.2h9.2M224.3 109.6v9.2M143.7 245.1h9.2M148.3 240.5v9.2"/>
<g fill="none" stroke="#0a0af5" stroke-width="1.6"><circle cx="168.1" cy="144.3" r="4"/><circle cx="183.4" cy="181.3" r="4"/><circle cx="269.1" cy="165.8" r="4"/></g>
<path fill="none" stroke="#f50a0a" stroke-width="1.5" d="M186.5 203.3h9.2M191.1 198.7v9.2"/>
<g fill="none" stroke="#0a0af5" stroke-width="1.6"><circle cx="308.4" cy="171.2" r="4"/><circle cx="225.0" cy="144.5" r="4"/><circle cx="231.4" cy="246.3" r="4"/><circle cx="233.8" cy="248.1" r="4"/></g>
<path fill="none" stroke="#f50a0a" stroke-width="1.5" d="M204.2 260.5h9.2M208.8 255.9v9.2"/>
<g fill="none" stroke="#0a0af5" stroke-width="1.6"><circle cx="192.9" cy="183.2" r="4"/><circle cx="230.1" cy="176.0" r="4"/><circle cx="205.8" cy="148.9" r="4"/><circle cx="207.5" cy="156.4" r="4"/><circle cx="246.9" cy="135.8" r="4"/><circle cx="264.4" cy="180.0" r="4"/><circle cx="169.2" cy="125.8" r="4"/></g>
<path fill="none" stroke="#f50a0a" stroke-width="1.5" d="M274.9 263.7h9.2M279.5 259.1v9.2M286.3 208.7h9.2M290.9 204.1v9.2"/>
<g fill="none" stroke="#0a0af5" stroke-width="1.6"><circle cx="224.2" cy="99.8" r="4"/></g>
<path fill="none" stroke="#f50a0a" stroke-width="1.5" d="M244.0 286.4h9.2M248.6 281.8v9.2"/>
<g fill="none" stroke="#0a0af5" stroke-width="1.6"><circle cx="217.1" cy="53.8" r="4"/></g>
<path fill="none" stroke="#f50a0a" stroke-width="1.5" d="M217.4 268.4h9.2M222.0 263.8v9.2M193.2 263.9h9.2M197.8 259.3v9.2M218.1 243.9h9.2M222.7 239.3v9.2"/>
<g fill="none" stroke="#0a0af5" stroke-width="1.6"><circle cx="183.0" cy="139.4" r="4"/><circle cx="300.0" cy="130.9" r="4"/></g>
<path fill="none" stroke="#f50a0a" stroke-width="1.5" d="M199.5 227.5h9.2M204.1 222.9v9.2"/>
<g fill="none" stroke="#0a0af5" stroke-width="1.6"><circle cx="236.9" cy="120.7" r="4"/></g>
<path fill="none" stroke="#f50a0a" stroke-width="1.5" d="M240.1 288.2h9.2M244.7 283.6v9.2"/>
<g fill="none" stroke="#0a0af5" stroke-width="1.6"><circle cx="267.3" cy="111.5" r="4"/><circle cx="236.8" cy="232.3" r="4"/><circle cx="220.4" cy="140.0" r="4"/></g>
<path fill="none" stroke="#f50a0a" stroke-width="1.5" d="M159.9 198.8h9.2M164.5 194.2v9.2M209.4 328.9h9.2M214.0 324.3v9.2"/>
<g fill="none" stroke="#0a0af5" stroke-width="1.6"><circle cx="267.7" cy="228.8" r="4"/><circle cx="239.6" cy="151.6" r="4"/></g>
<path fill="none" stroke="#f50a0a" stroke-width="1.5" d="M233.3 249.1h9.2M237.9 244.5v9.2"/>
<g fill="none" stroke="#0a0af5" stroke-width="1.6"><circle cx="210.7" cy="199.1" r="4"/></g>
<path fill="none" stroke="#f50a0a" stroke-width="1.5" d="M262.0 206.9h9.2M266.6 202.3v9.2M206.1 323.6h9.2M210.7 319.0v9.2M162.4 294.7h9.2M167.0 290.1v9.2M203.3 171.9h9.2M207.9 167.3v9.2M234.9 221.7h9.2M239.5 217.1v9.2"/>
<g fill="none" stroke="#0a0af5" stroke-width="1.6"><circle cx="158.3" cy="184.6" r="4"/><circle cx="213.2" cy="184.0" r="4"/><circle cx="205.7" cy="77.6" r="4"/><circle cx="228.9" cy="215.9" r="4"/><circle cx="333.2" cy="169.8" r="4"/></g>
<path fill="none" stroke="#f50a0a" stroke-width="1.5" d="M211.5 268.9h9.2M216.1 264.3v9.2M302.9 324.5h9.2M307.5 319.9v9.2M213.7 331.3h9.2M218.3 326.7v9.2"/>
<g fill="none" stroke="#0a0af5" stroke-width="1.6"><circle cx="266.2" cy="177.3" r="4"/><circle cx="265.6" cy="138.9" r="4"/><circle cx="235.5" cy="175.2" r="4"/></g>
<path fill="none" stroke="#f50a0a" stroke-width="1.5" d="M285.3 323.0h9.2M289.9 318.4v9.2M271.1 298.5h9.2M275.7 293.9v9.2"/>
<g fill="none" stroke="#0a0af5" stroke-width="1.6"><circle cx="273.9" cy="162.1" r="4"/></g>
<path fill="none" stroke="#f50a0a" stroke-width="1.5" d="M204.4 304.1h9.2M209.0 299.5v9.2"/>
<g fill="none" stroke="#0a0af5" stroke-width="1.6"><circle cx="242.4" cy="176.8" r="4"/></g>
<path fill="none" stroke="#f50a0a" stroke-width="1.5" d="M179.9 289.4h9.2M184.5 284.8v9.2"/>
<g fill="none" stroke="#0a0af5" stroke-width="1.6"><circle cx="250.1" cy="219.6" r="4"/></g>
<path fill="none" stroke="#f50a0a" stroke-width="1.5" d="M200.2 208.7h9.2M204.8 204.1v9.2"/>
<g fill="none" stroke="#0a0af5" stroke-width="1.6"><circle cx="242.5" cy="88.5" r="4"/></g>
<path fill="none" stroke="#f50a0a" stroke-width="1.5" d="M187.0 129.0h9.2M191.6 124.4v9.2"/>
<g fill="none" stroke="#0a0af5" stroke-width="1.6"><circle cx="312.6" cy="138.0" r="4"/><circle cx="252.1" cy="200.4" r="4"/></g>
<path fill="none" stroke="#f50a0a" stroke-width="1.5" d="M219.3 328.7h9.2M223.9 324.1v9.2"/>
<g fill="none" stroke="#0a0af5" stroke-width="1.6"><circle cx="304.7" cy="262.8" r="4"/><circle cx="264.9" cy="128.7" r="4"/><circle cx="194.1" cy="102.5" r="4"/></g>
<path fill="none" stroke="#f50a0a" stroke-width="1.5" d="M235.3 361.5h9.2M239.9 356.9v9.2"/>
<g fill="none" stroke="#0a0af5" stroke-width="1.6"><circle cx="173.7" cy="143.7" r="4"/><circle cx="287.9" cy="112.8" r="4"/></g>
<path fill="none" stroke="#f50a0a" stroke-width="1.5" d="M209.2 354.0h9.2M213.8 349.4v9.2"/>
<g fill="none" stroke="#0a0af5" stroke-width="1.6"><circle cx="254.5" cy="253.3" r="4"/><circle cx="238.6" cy="176.0" r="4"/><circle cx="239.8" cy="201.8" r="4"/><circle cx="236.0" cy="157.9" r="4"/></g>
<path fill="none" stroke="#f50a0a" stroke-width="1.5" d="M189.2 199.0h9.2M193.8 194.4v9.2M232.7 205.1h9.2M237.3 200.5v9.2M227.3 325.8h9.2M231.9 321.2v9.2"/>
<g fill="none" stroke="#0a0af5" stroke-width="1.6"><circle cx="178.7" cy="272.7" r="4"/></g>
<path fill="none" stroke="#f50a0a" stroke-width="1.5" d="M208.3 354.2h9.2M212.9 349.6v9.2"/>
<g fill="none" stroke="#0a0af5" stroke-width="1.6"><circle cx="322.1" cy="147.8" r="4"/></g>
<path fill="none" stroke="#f50a0a" stroke-width="1.5" d="M281.2 245.3h9.2M285.8 240.7v9.2M158.9 268.5h9.2M163.5 263.9v9.2"/>
<g fill="none" stroke="#0a0af5" stroke-width="1.6"><circle cx="264.4" cy="183.8" r="4"/><circle cx="275.4" cy="155.1" r="4"/><circle cx="185.9" cy="111.0" r="4"/><circle cx="331.6" cy="216.4" r="4"/><circle cx="301.9" cy="169.7" r="4"/></g>
<path fill="none" stroke="#f50a0a" stroke-width="1.5" d="M155.5 248.0h9.2M160.1 243.4v9.2"/>
<g fill="none" stroke="#0a0af5" stroke-width="1.6"><circle cx="238.0" cy="99.8" r="4"/></g>
<path fill="none" stroke="#f50a0a" stroke-width="1.5" d="M231.5 223.8h9.2M236.1 219.2v9.2"/>
<g fill="none" stroke="#0a0af5" stroke-width="1.6"><circle cx="240.2" cy="129.7" r="4"/></g>
<path fill="none" stroke="#f50a0a" stroke-width="1.5" d="M260.1 356.4h9.2M264.7 351.8v9.2"/>
<g fill="none" stroke="#0a0af5" stroke-width="1.6"><circle cx="245.5" cy="92.3" r="4"/><circle cx="229.4" cy="96.6" r="4"/><circle cx="261.1" cy="172.2" r="4"/><circle cx="223.7" cy="162.9" r="4"/></g>
<path fill="none" stroke="#f50a0a" stroke-width="1.5" d="M218.3 373.9h9.2M222.9 369.3v9.2M225.2 192.6h9.2M229.8 188.0v9.2"/>
<g fill="none" stroke="#0a0af5" stroke-width="1.6"><circle cx="237.0" cy="94.4" r="4"/><circle cx="250.1" cy="208.1" r="4"/></g>
<path fill="none" stroke="#f50a0a" stroke-width="1.5" d="M298.8 323.6h9.2M303.4 319.0v9.2"/>
<g fill="none" stroke="#0a0af5" stroke-width="1.6"><circle cx="248.7" cy="178.7" r="4"/></g>
<path fill="none" stroke="#f50a0a" stroke-width="1.5" d="M221.3 244.6h9.2M225.9 240.0v9.2M175.3 225.2h9.2M179.9 220.6v9.2"/>
<g fill="none" stroke="#0a0af5" stroke-width="1.6"><circle cx="277.7" cy="99.3" r="4"/><circle cx="334.0" cy="150.2" r="4"/></g>
<path fill="none" stroke="#f50a0a" stroke-width="1.5" d="M173.3 242.0h9.2M177.9 237.4v9.2M240.0 283.4h9.2M244.6 278.8v9.2M226.5 208.4h9.2M231.1 203.8v9.2"/>
<g fill="none" stroke="#0a0af5" stroke-width="1.6"><circle cx="262.0" cy="188.6" r="4"/></g>
<path fill="none" stroke="#f50a0a" stroke-width="1.5" d="M241.6 270.3h9.2M246.2 265.7v9.2M247.4 258.3h9.2M252.0 253.7v9.2"/>
<g fill="none" stroke="#0a0af5" stroke-width="1.6"><circle cx="159.6" cy="120.5" r="4"/><circle cx="272.1" cy="186.4" r="4"/><circle cx="236.4" cy="182.7" r="4"/></g>
<path fill="none" stroke="#f50a0a" stroke-width="1.5" d="M273.2 226.2h9.2M277.8 221.6v9.2"/>
<g fill="none" stroke="#0a0af5" stroke-width="1.6"><circle cx="216.9" cy="147.7" r="4"/><circle cx="164.6" cy="171.4" r="4"/></g>
<path fill="none" stroke="#f50a0a" stroke-width="1.5" d="M288.5 241.5h9.2M293.1 236.9v9.2"/>
<g fill="none" stroke="#0a0af5" stroke-width="1.6"><circle cx="236.7" cy="285.5" r="4"/><circle cx="220.2" cy="156.2" r="4"/><circle cx="204.6" cy="184.1" r="4"/><circle cx="236.3" cy="123.0" r="4"/></g>
<path fill="none" stroke="#f50a0a" stroke-width="1.5" d="M138.6 265.6h9.2M143.2 261.0v9.2M260.4 298.1h9.2M265.0 293.5v9.2M246.2 241.4h9.2M250.8 236.8v9.2M183.7 275.4h9.2M188.3 270.8v9.2"/>
<g fill="none" stroke="#0a0af5" stroke-width="1.6"><circle cx="216.9" cy="123.1" r="4"/><circle cx="228.6" cy="195.4" r="4"/></g>
<path fill="none" stroke="#f50a0a" stroke-width="1.5" d="M197.9 256.1h9.2M202.5 251.5v9.2M193.3 223.2h9.2M197.9 218.6v9.2M245.7 300.5h9.2M250.3 295.9v9.2"/>
<g fill="none" stroke="#0a0af5" stroke-width="1.6"><circle cx="173.0" cy="175.6" r="4"/></g>
<path fill="none" stroke="#f50a0a" stroke-width="1.5" d="M252.1 321.4h9.2M256.7 316.8v9.2M279.6 188.4h9.2M284.2 183.8v9.2M223.0 287.9h9.2M227.6 283.3v9.2"/>
<g fill="none" stroke="#0a0af5" stroke-width="1.6"><circle cx="279.4" cy="248.0" r="4"/><circle cx="241.0" cy="95.4" r="4"/></g>
<path fill="none" stroke="#f50a0a" stroke-width="1.5" d="M271.1 245.1h9.2M275.7 240.5v9.2"/>
<g fill="none" stroke="#0a0af5" stroke-width="1.6"><circle cx="269.9" cy="218.9" r="4"/><circle cx="236.4" cy="110.1" r="4"/><circle cx="209.7" cy="189.0" r="4"/><circle cx="194.0" cy="290.1" r="4"/><circle cx="383.7" cy="242.2" r="4"/></g>
<path fill="none" stroke="#f50a0a" stroke-width="1.5" d="M202.8 285.4h9.2M207.4 280.8v9.2"/>
<g fill="none" stroke="#0a0af5" stroke-width="1.6"><circle cx="214.0" cy="172.4" r="4"/></g>
<path fill="none" stroke="#f50a0a" stroke-width="1.5" d="M173.1 274.2h9.2M177.7 269.6v9.2"/>
<g fill="none" stroke="#0a0af5" stroke-width="1.6"><circle cx="262.1" cy="221.8" r="4"/></g>
<path fill="none" stroke="#f50a0a" stroke-width="1.5" d="M298.0 283.1h9.2M302.6 278.5v9.2"/>
<g fill="none" stroke="#0a0af5" stroke-width="1.6"><circle cx="187.7" cy="195.8" r="4"/><circle cx="266.2" cy="104.5" r="4"/><circle cx="186.1" cy="195.4" r="4"/><circle cx="279.7" cy="255.5" r="4"/></g>
<path fill="none" stroke="#f50a0a" stroke-width="1.5" d="M198.3 152.2h9.2M202.9 147.6v9.2M204.5 225.5h9.2M209.1 220.9v9.2"/>
<g fill="none" stroke="#0a0af5" stroke-width="1.6"><circle cx="202.5" cy="235.2" r="4"/><circle cx="211.5" cy="98.6" r="4"/><circle cx="243.4" cy="183.7" r="4"/><circle cx="215.2" cy="196.9" r="4"/><circle cx="259.8" cy="168.3" r="4"/><circle cx="207.9" cy="192.6" r="4"/><circle cx="298.5" cy="212.8" r="4"/></g>
<path fill="none" stroke="#f50a0a" stroke-width="1.5" d="M144.4 259.6h9.2M149.0 255.0v9.2M154.0 273.2h9.2M158.6 268.6v9.2"/>
<g fill="none" stroke="#0a0af5" stroke-width="1.6"><circle cx="204.8" cy="195.3" r="4"/></g>
<path fill="none" stroke="#f50a0a" stroke-width="1.5" d="M262.9 269.6h9.2M267.5 265.0v9.2M214.7 293.0h9.2M219.3 288.4v9.2"/>
<g fill="none" stroke="#0a0af5" stroke-width="1.6"><circle cx="209.6" cy="193.6" r="4"/><circle cx="307.1" cy="245.5" r="4"/><circle cx="260.0" cy="45.2" r="4"/></g>
<path fill="none" stroke="#f50a0a" stroke-width="1.5" d="M190.1 260.9h9.2M194.7 256.3v9.2"/>
<g fill="none" stroke="#0a0af5" stroke-width="1.6"><circle cx="193.6" cy="104.9" r="4"/><circle cx="244.8" cy="189.8" r="4"/><circle cx="269.6" cy="81.9" r="4"/><circle cx="254.8" cy="197.0" r="4"/><circle cx="233.6" cy="156.6" r="4"/></g>
<path fill="none" stroke="#f50a0a" stroke-width="1.5" d="M258.9 235.7h9.2M263.5 231.1v9.2"/>
<g fill="none" stroke="#0a0af5" stroke-width="1.6"><circle cx="236.9" cy="250.3" r="4"/><circle cx="219.3" cy="128.5" r="4"/></g>
<path fill="none" stroke="#f50a0a" stroke-width="1.5" d="M291.5 317.7h9.2M296.1 313.1v9.2M220.6 254.3h9.2M225.2 249.7v9.2"/>
<g fill="none" stroke="#0a0af5" stroke-width="1.6"><circle cx="222.4" cy="147.6" r="4"/></g>
<path fill="none" stroke="#f50a0a" stroke-width="1.5" d="M204.8 281.9h9.2M209.4 277.3v9.2"/>
<g fill="none" stroke="#0a0af5" stroke-width="1.6"><circle cx="222.9" cy="196.5" r="4"/></g>
<path fill="none" stroke="#f50a0a" stroke-width="1.5" d="M243.9 249.3h9.2M248.5 244.7v9.2"/>
<g fill="none" stroke="#0a0af5" stroke-width="1.6"><circle cx="249.1" cy="238.3" r="4"/><circle cx="171.0" cy="62.2" r="4"/></g>
<path fill="none" stroke="#f50a0a" stroke-width="1.5" d="M203.7 215.3h9.2M208.3 210.7v9.2M243.4 280.2h9.2M248.0 275.6v9.2M255.6 291.1h9.2M260.2 286.5v9.2"/>
<g fill="none" stroke="#0a0af5" stroke-width="1.6"><circle cx="282.1" cy="116.2" r="4"/><circle cx="261.4" cy="161.7" r="4"/><circle cx="145.2" cy="204.7" r="4"/></g>
<path fill="none" stroke="#f50a0a" stroke-width="1.5" d="M207.1 228.5h9.2M211.7 223.9v9.2M311.7 307.2h9.2M316.3 302.6v9.2M187.6 293.6h9.2M192.2 289.0v9.2M215.4 184.0h9.2M220.0 179.4v9.2"/>
<g fill="none" stroke="#0a0af5" stroke-width="1.6"><circle cx="253.9" cy="187.0" r="4"/></g>
<path fill="none" stroke="#f50a0a" stroke-width="1.5" d="M201.4 273.1h9.2M206.0 268.5v9.2"/>
<g fill="none" stroke="#0a0af5" stroke-width="1.6"><circle cx="248.3" cy="220.8" r="4"/><circle cx="311.8" cy="206.3" r="4"/><circle cx="266.7" cy="203.1" r="4"/></g>
<path fill="none" stroke="#f50a0a" stroke-width="1.5" d="M259.5 252.1h9.2M264.1 247.5v9.2"/>
<g fill="none" stroke="#0a0af5" stroke-width="1.6"><circle cx="341.9" cy="265.7" r="4"/></g>
<path fill="none" stroke="#f50a0a" stroke-width="1.5" d="M292.0 202.2h9.2M296.6 197.6v9.2M240.0 200.8h9.2M244.6 196.2v9.2"/>
<g fill="none" stroke="#0a0af5" stroke-width="1.6"><circle cx="225.3" cy="143.7" r="4"/></g>
<path fill="none" stroke="#f50a0a" stroke-width="1.5" d="M216.0 219.5h9.2M220.6 214.9v9.2M197.5 237.2h9.2M202.1 232.6v9.2"/>
<g fill="none" stroke="#0a0af5" stroke-width="1.6"><circle cx="231.0" cy="134.0" r="4"/></g>
<path fill="none" stroke="#f50a0a" stroke-width="1.5" d="M193.8 193.3h9.2M198.4 188.7v9.2"/>
<g fill="none" stroke="#0a0af5" stroke-width="1.6"><circle cx="225.5" cy="185.2" r="4"/><circle cx="236.6" cy="234.9" r="4"/></g>
<path fill="none" stroke="#f50a0a" stroke-width="1.5" d="M151.9 364.5h9.2M156.5 359.9v9.2M145.8 335.8h9.2M150.4 331.2v9.2"/>
<g fill="none" stroke="#0a0af5" stroke-width="1.6"><circle cx="198.7" cy="61.3" r="4"/><circle cx="226.7" cy="228.1" r="4"/><circle cx="252.6" cy="229.2" r="4"/></g>
<path fill="none" stroke="#f50a0a" stroke-width="1.5" d="M290.2 331.7h9.2M294.8 327.1v9.2M220.9 269.3h9.2M225.5 264.7v9.2"/>
<g fill="none" stroke="#0a0af5" stroke-width="1.6"><circle cx="228.5" cy="139.8" r="4"/><circle cx="221.1" cy="147.8" r="4"/><circle cx="196.3" cy="133.3" r="4"/><circle cx="229.7" cy="180.9" r="4"/><circle cx="294.1" cy="221.8" r="4"/></g>
<path fill="none" stroke="#f50a0a" stroke-width="1.5" d="M259.2 326.9h9.2M263.8 322.3v9.2"/>
<g fill="none" stroke="#0a0af5" stroke-width="1.6"><circle cx="335.1" cy="151.9" r="4"/></g>
<path fill="none" stroke="#f50a0a" stroke-width="1.5" d="M286.6 228.6h9.2M291.2 224.0v9.2"/>
<g fill="none" stroke="#0a0af5" stroke-width="1.6"><circle cx="192.6" cy="132.1" r="4"/></g>
<path fill="none" stroke="#f50a0a" stroke-width="1.5" d="M277.5 223.3h9.2M282.1 218.7v9.2M253.8 278.5h9.2M258.4 273.9v9.2"/>
<g fill="none" stroke="#0a0af5" stroke-width="1.6"><circle cx="218.6" cy="141.7" r="4"/><circle cx="209.1" cy="179.4" r="4"/><circle cx="164.9" cy="89.7" r="4"/><circle cx="245.1" cy="218.7" r="4"/><circle cx="152.6" cy="139.8" r="4"/></g>
<path fill="none" stroke="#f50a0a" stroke-width="1.5" d="M264.8 299.7h9.2M269.4 295.1v9.2M211.6 229.9h9.2M216.2 225.3v9.2"/>
<g fill="none" stroke="#0a0af5" stroke-width="1.6"><circle cx="246.4" cy="89.0" r="4"/></g>
<path fill="none" stroke="#f50a0a" stroke-width="1.5" d="M181.6 227.7h9.2M186.2 223.1v9.2"/>
<g fill="none" stroke="#0a0af5" stroke-width="1.6"><circle cx="206.3" cy="215.5" r="4"/></g>
<path fill="none" stroke="#f50a0a" stroke-width="1.5" d="M170.9 159.1h9.2M175.5 154.5v9.2"/>
<g fill="none" stroke="#0a0af5" stroke-width="1.6"><circle cx="247.3" cy="181.3" r="4"/><circle cx="222.3" cy="117.3" r="4"/><circle cx="375.6" cy="102.6" r="4"/></g>
<path fill="none" stroke="#f50a0a" stroke-width="1.5" d="M351.1 284.3h9.2M355.7 279.7v9.2"/>
<g fill="none" stroke="#0a0af5" stroke-width="1.6"><circle cx="256.6" cy="143.3" r="4"/></g>
<path fill="none" stroke="#f50a0a" stroke-width="1.5" d="M217.3 249.7h9.2M221.9 245.1v9.2M171.7 231.9h9.2M176.3 227.3v9.2M309.5 335.0h9.2M314.1 330.4v9.2"/>
<g fill="none" stroke="#0a0af5" stroke-width="1.6"><circle cx="229.7" cy="146.3" r="4"/></g>
<path fill="none" stroke="#f50a0a" stroke-width="1.5" d="M164.1 250.6h9.2M168.7 246.0v9.2M189.4 194.5h9.2M194.0 189.9v9.2M278.9 236.5h9.2M283.5 231.9v9.2M274.0 243.4h9.2M278.6 238.8v9.2"/>
<g fill="none" stroke="#0a0af5" stroke-width="1.6"><circle cx="193.4" cy="175.0" r="4"/><circle cx="202.8" cy="158.4" r="4"/><circle cx="200.3" cy="111.5" r="4"/><circle cx="218.7" cy="104.1" r="4"/><circle cx="236.4" cy="187.3" r="4"/></g>
<path fill="none" stroke="#f50a0a" stroke-width="1.5" d="M226.5 243.8h9.2M231.1 239.2v9.2"/>
<g fill="none" stroke="#0a0af5" stroke-width="1.6"><circle cx="185.2" cy="123.0" r="4"/></g>
<path fill="none" stroke="#f50a0a" stroke-width="1.5" d="M179.5 231.3h9.2M184.1 226.7v9.2"/>
<g fill="none" stroke="#0a0af5" stroke-width="1.6"><circle cx="169.7" cy="151.6" r="4"/></g>
<path fill="none" stroke="#f50a0a" stroke-width="1.5" d="M173.9 305.7h9.2M178.5 301.1v9.2"/>
<g fill="none" stroke="#0a0af5" stroke-width="1.6"><circle cx="176.1" cy="154.1" r="4"/><circle cx="253.5" cy="254.5" r="4"/><circle cx="354.6" cy="91.5" r="4"/></g>
<path fill="none" stroke="#f50a0a" stroke-width="1.5" d="M252.9 206.6h9.2M257.5 202.0v9.2M210.3 251.2h9.2M214.9 246.6v9.2"/>
<g fill="none" stroke="#0a0af5" stroke-width="1.6"><circle cx="290.0" cy="198.7" r="4"/></g>
<path fill="none" stroke="#f50a0a" stroke-width="1.5" d="M191.7 225.1h9.2M196.3 220.5v9.2M169.8 325.5h9.2M174.4 320.9v9.2"/>
<g fill="none" stroke="#0a0af5" stroke-width="1.6"><circle cx="293.5" cy="193.7" r="4"/><circle cx="234.8" cy="147.5" r="4"/><circle cx="247.3" cy="200.5" r="4"/><circle cx="268.2" cy="94.4" r="4"/><circle cx="213.2" cy="90.4" r="4"/><circle cx="265.2" cy="201.6" r="4"/><circle cx="366.2" cy="257.6" r="4"/></g>
<path fill="none" stroke="#f50a0a" stroke-width="1.5" d="M292.0 305.8h9.2M296.6 301.2v9.2M238.4 222.8h9.2M243.0 218.2v9.2M280.1 181.2h9.2M284.7 176.6v9.2"/>
<g fill="none" stroke="#0a0af5" stroke-width="1.6"><circle cx="221.1" cy="185.1" r="4"/></g>
<path fill="none" stroke="#f50a0a" stroke-width="1.5" d="M198.3 235.1h9.2M202.9 230.5v9.2"/>
<g fill="none" stroke="#0a0af5" stroke-width="1.6"><circle cx="231.7" cy="232.8" r="4"/><circle cx="232.1" cy="213.8" r="4"/></g>
<path fill="none" stroke="#f50a0a" stroke-width="1.5" d="M246.7 317.3h9.2M251.3 312.7v9.2"/>
<g fill="none" stroke="#0a0af5" stroke-width="1.6"><circle cx="227.1" cy="83.7" r="4"/><circle cx="262.7" cy="186.6" r="4"/></g>
<path fill="none" stroke="#f50a0a" stroke-width="1.5" d="M254.7 282.9h9.2M259.3 278.3v9.2M217.2 155.8h9.2M221.8 151.2v9.2"/>
<g fill="none" stroke="#0a0af5" stroke-width="1.6"><circle cx="182.0" cy="132.5" r="4"/></g>
<path fill="none" stroke="#f50a0a" stroke-width="1.5" d="M260.3 200.3h9.2M264.9 195.7v9.2M270.1 218.8h9.2M274.7 214.2v9.2M165.3 239.6h9.2M169.9 235.0v9.2"/>
<g fill="none" stroke="#0a0af5" stroke-width="1.6"><circle cx="219.2" cy="152.9" r="4"/><circle cx="216.2" cy="89.1" r="4"/><circle cx="385.2" cy="253.0" r="4"/><circle cx="210.5" cy="234.4" r="4"/></g>
<path fill="none" stroke="#f50a0a" stroke-width="1.5" d="M270.9 245.5h9.2M275.5 240.9v9.2"/>
<g fill="none" stroke="#0a0af5" stroke-width="1.6"><circle cx="157.1" cy="163.7" r="4"/></g>
<path fill="none" stroke="#f50a0a" stroke-width="1.5" d="M240.5 191.8h9.2M245.1 187.2v9.2M259.5 312.0h9.2M264.1 307.4v9.2"/>
<g fill="none" stroke="#0a0af5" stroke-width="1.6"><circle cx="328.3" cy="224.0" r="4"/><circle cx="213.8" cy="122.3" r="4"/><circle cx="267.2" cy="100.3" r="4"/><circle cx="169.2" cy="133.4" r="4"/><circle cx="199.5" cy="220.4" r="4"/><circle cx="272.9" cy="125.5" r="4"/><circle cx="240.0" cy="105.4" r="4"/></g>
<path fill="none" stroke="#f50a0a" stroke-width="1.5" d="M289.3 299.2h9.2M293.9 294.6v9.2M160.3 307.7h9.2M164.9 303.1v9.2"/>
<g fill="none" stroke="#0a0af5" stroke-width="1.6"><circle cx="236.3" cy="144.8" r="4"/><circle cx="274.6" cy="208.7" r="4"/><circle cx="213.4" cy="72.4" r="4"/></g>
<path fill="none" stroke="#f50a0a" stroke-width="1.5" d="M248.3 321.3h9.2M252.9 316.7v9.2"/>
<g fill="none" stroke="#0a0af5" stroke-width="1.6"><circle cx="247.6" cy="147.4" r="4"/><circle cx="228.8" cy="167.0" r="4"/><circle cx="267.9" cy="146.5" r="4"/></g>
<path fill="none" stroke="#f50a0a" stroke-width="1.5" d="M325.9 337.2h9.2M330.5 332.6v9.2"/>
<g fill="none" stroke="#0a0af5" stroke-width="1.6"><circle cx="195.3" cy="180.0" r="4"/></g>
<path fill="none" stroke="#f50a0a" stroke-width="1.5" d="M238.1 226.0h9.2M242.7 221.4v9.2"/>
<g fill="none" stroke="#0a0af5" stroke-width="1.6"><circle cx="223.0" cy="234.2" r="4"/></g>
<path fill="none" stroke="#f50a0a" stroke-width="1.5" d="M288.6 286.1h9.2M293.2 281.5v9.2"/>
<g fill="none" stroke="#0a0af5" stroke-width="1.6"><circle cx="202.4" cy="176.9" r="4"/></g>
<path fill="none" stroke="#f50a0a" stroke-width="1.5" d="M194.2 270.3h9.2M198.8 265.7v9.2M213.6 215.8h9.2M218.2 211.2v9.2M231.9 222.6h9.2M236.5 218.0v9.2M208.1 209.6h9.2M212.7 205.0v9.2"/>
<g fill="none" stroke="#0a0af5" stroke-width="1.6"><circle cx="199.0" cy="192.0" r="4"/></g>
<path fill="none" stroke="#f50a0a" stroke-width="1.5" d="M256.1 237.9h9.2M260.7 233.3v9.2M126.4 243.8h9.2M131.0 239.2v9.2"/>
<g fill="none" stroke="#0a0af5" stroke-width="1.6"><circle cx="282.8" cy="186.1" r="4"/><circle cx="237.3" cy="114.0" r="4"/><circle cx="151.6" cy="224.8" r="4"/></g>
<path fill="none" stroke="#f50a0a" stroke-width="1.5" d="M289.5 312.7h9.2M294.1 308.1v9.2"/>
<g fill="none" stroke="#0a0af5" stroke-width="1.6"><circle cx="239.3" cy="202.6" r="4"/></g>
<path fill="none" stroke="#f50a0a" stroke-width="1.5" d="M225.0 220.4h9.2M229.6 215.8v9.2"/>
<g fill="none" stroke="#0a0af5" stroke-width="1.6"><circle cx="295.9" cy="156.3" r="4"/><circle cx="256.3" cy="193.6" r="4"/></g>
<path fill="none" stroke="#f50a0a" stroke-width="1.5" d="M283.8 263.6h9.2M288.4 259.0v9.2M270.4 218.6h9.2M275.0 214.0v9.2"/>
<g fill="none" stroke="#0a0af5" stroke-width="1.6"><circle cx="264.9" cy="112.8" r="4"/><circle cx="237.9" cy="199.8" r="4"/><circle cx="210.3" cy="159.8" r="4"/><circle cx="189.7" cy="130.5" r="4"/><circle cx="312.1" cy="152.9" r="4"/></g>
<path fill="none" stroke="#f50a0a" stroke-width="1.5" d="M202.3 250.6h9.2M206.9 246.0v9.2"/>
<g fill="none" stroke="#0a0af5" stroke-width="1.6"><circle cx="212.2" cy="179.6" r="4"/></g>
<path fill="none" stroke="#f50a0a" stroke-width="1.5" d="M177.5 312.8h9.2M182.1 308.2v9.2M136.1 270.2h9.2M140.7 265.6v9.2"/>
<g fill="none" stroke="#0a0af5" stroke-width="1.6"><circle cx="193.7" cy="192.5" r="4"/></g>
<path fill="none" stroke="#f50a0a" stroke-width="1.5" d="M235.1 221.4h9.2M239.7 216.8v9.2M236.8 227.2h9.2M241.4 222.6v9.2"/>
<g fill="none" stroke="#0a0af5" stroke-width="1.6"><circle cx="168.4" cy="171.5" r="4"/></g>
<path fill="none" stroke="#f50a0a" stroke-width="1.5" d="M245.9 171.2h9.2M250.5 166.6v9.2M222.2 254.9h9.2M226.8 250.3v9.2M205.3 312.1h9.2M209.9 307.5v9.2"/>
<g fill="none" stroke="#0a0af5" stroke-width="1.6"><circle cx="243.3" cy="168.5" r="4"/></g>
<path fill="none" stroke="#f50a0a" stroke-width="1.5" d="M247.1 279.0h9.2M251.7 274.4v9.2"/>
<g fill="none" stroke="#0a0af5" stroke-width="1.6"><circle cx="266.7" cy="178.2" r="4"/><circle cx="253.1" cy="170.7" r="4"/><circle cx="259.8" cy="196.1" r="4"/><circle cx="268.8" cy="227.1" r="4"/></g>
<path fill="none" stroke="#f50a0a" stroke-width="1.5" d="M216.5 205.5h9.2M221.1 200.9v9.2"/>
<g fill="none" stroke="#0a0af5" stroke-width="1.6"><circle cx="183.1" cy="137.7" r="4"/></g>
<path fill="none" stroke="#f50a0a" stroke-width="1.5" d="M197.6 316.7h9.2M202.2 312.1v9.2M173.6 228.1h9.2M178.2 223.5v9.2"/>
<g fill="none" stroke="#0a0af5" stroke-width="1.6"><circle cx="188.6" cy="237.5" r="4"/></g>
<path fill="none" stroke="#f50a0a" stroke-width="1.5" d="M118.7 192.9h9.2M123.3 188.3v9.2"/>
<g fill="none" stroke="#0a0af5" stroke-width="1.6"><circle cx="304.7" cy="280.1" r="4"/><circle cx="196.8" cy="121.1" r="4"/><circle cx="219.7" cy="220.4" r="4"/></g>
<path fill="none" stroke="#f50a0a" stroke-width="1.5" d="M202.5 164.9h9.2M207.1 160.3v9.2"/>
<g fill="none" stroke="#0a0af5" stroke-width="1.6"><circle cx="252.8" cy="248.2" r="4"/></g>
<path fill="none" stroke="#f50a0a" stroke-width="1.5" d="M239.7 209.3h9.2M244.3 204.7v9.2"/>
<g fill="none" stroke="#0a0af5" stroke-width="1.6"><circle cx="216.0" cy="258.2" r="4"/></g>
<path fill="none" stroke="#f50a0a" stroke-width="1.5" d="M261.3 265.8h9.2M265.9 261.2v9.2"/>
<g fill="none" stroke="#0a0af5" stroke-width="1.6"><circle cx="244.2" cy="106.0" r="4"/></g>
<path fill="none" stroke="#f50a0a" stroke-width="1.5" d="M106.7 251.5h9.2M111.3 246.9v9.2"/>
<g fill="none" stroke="#0a0af5" stroke-width="1.6"><circle cx="262.8" cy="91.8" r="4"/><circle cx="202.6" cy="141.9" r="4"/></g>
<path fill="none" stroke="#f50a0a" stroke-width="1.5" d="M255.5 285.5h9.2M260.1 280.9v9.2"/>
<g fill="none" stroke="#0a0af5" stroke-width="1.6"><circle cx="207.1" cy="102.4" r="4"/><circle cx="132.3" cy="151.8" r="4"/><circle cx="233.4" cy="186.1" r="4"/><circle cx="316.3" cy="249.9" r="4"/></g>
<path fill="none" stroke="#f50a0a" stroke-width="1.5" d="M268.7 247.9h9.2M273.3 243.3v9.2"/>
<g fill="none" stroke="#0a0af5" stroke-width="1.6"><circle cx="218.1" cy="129.0" r="4"/><circle cx="290.1" cy="140.9" r="4"/><circle cx="347.9" cy="206.2" r="4"/><circle cx="254.2" cy="113.9" r="4"/></g>
<path fill="none" stroke="#f50a0a" stroke-width="1.5" d="M227.8 269.9h9.2M232.4 265.3v9.2M166.9 253.6h9.2M171.5 249.0v9.2M241.1 266.2h9.2M245.7 261.6v9.2M232.2 250.5h9.2M236.8 245.9v9.2"/>
<g fill="none" stroke="#0a0af5" stroke-width="1.6"><circle cx="118.7" cy="151.8" r="4"/><circle cx="184.9" cy="202.4" r="4"/><circle cx="292.9" cy="201.6" r="4"/><circle cx="296.8" cy="97.3" r="4"/></g>
<path fill="none" stroke="#f50a0a" stroke-width="1.5" d="M226.1 272.1h9.2M230.7 267.5v9.2M179.6 252.8h9.2M184.2 248.2v9.2M218.0 296.0h9.2M222.6 291.4v9.2"/>
<g fill="none" stroke="#0a0af5" stroke-width="1.6"><circle cx="220.3" cy="161.0" r="4"/><circle cx="271.1" cy="230.9" r="4"/><circle cx="189.1" cy="100.7" r="4"/><circle cx="282.6" cy="160.5" r="4"/></g>
<path fill="none" stroke="#f50a0a" stroke-width="1.5" d="M217.9 310.9h9.2M222.5 306.3v9.2"/>
<g fill="none" stroke="#0a0af5" stroke-width="1.6"><circle cx="277.9" cy="220.2" r="4"/></g>
<path fill="none" stroke="#f50a0a" stroke-width="1.5" d="M285.0 359.3h9.2M289.6 354.7v9.2"/>
<g fill="none" stroke="#0a0af5" stroke-width="1.6"><circle cx="255.9" cy="177.5" r="4"/><circle cx="228.6" cy="126.0" r="4"/></g>
<path fill="none" stroke="#f50a0a" stroke-width="1.5" d="M225.5 201.5h9.2M230.1 196.9v9.2M196.6 276.8h9.2M201.2 272.2v9.2"/>
<g fill="none" stroke="#0a0af5" stroke-width="1.6"><circle cx="253.3" cy="150.5" r="4"/></g>
<path fill="none" stroke="#f50a0a" stroke-width="1.5" d="M224.9 277.6h9.2M229.5 273.0v9.2M279.7 471.7h9.2M284.3 467.1v9.2"/>
<g fill="none" stroke="#0a0af5" stroke-width="1.6"><circle cx="152.3" cy="151.0" r="4"/></g>
<path fill="none" stroke="#f50a0a" stroke-width="1.5" d="M146.3 278.3h9.2M150.9 273.7v9.2M178.2 326.9h9.2M182.8 322.3v9.2M224.2 240.2h9.2M228.8 235.6v9.2M155.5 310.6h9.2M160.1 306.0v9.2M161.6 303.9h9.2M166.2 299.3v9.2"/>
<g fill="none" stroke="#0a0af5" stroke-width="1.6"><circle cx="180.9" cy="139.8" r="4"/><circle cx="254.7" cy="259.7" r="4"/></g>
<path fill="none" stroke="#f50a0a" stroke-width="1.5" d="M199.7 165.4h9.2M204.3 160.8v9.2"/>
<g fill="none" stroke="#0a0af5" stroke-width="1.6"><circle cx="299.7" cy="174.7" r="4"/><circle cx="224.2" cy="148.7" r="4"/><circle cx="189.7" cy="119.3" r="4"/></g>
<path fill="none" stroke="#f50a0a" stroke-width="1.5" d="M267.8 271.0h9.2M272.4 266.4v9.2M175.4 224.6h9.2M180.0 220.0v9.2M202.5 284.1h9.2M207.1 279.5v9.2"/>
<g fill="none" stroke="#0a0af5" stroke-width="1.6"><circle cx="197.1" cy="274.9" r="4"/><circle cx="231.0" cy="160.7" r="4"/></g>
<path fill="none" stroke="#f50a0a" stroke-width="1.5" d="M178.2 147.7h9.2M182.8 143.1v9.2"/>
<g fill="none" stroke="#0a0af5" stroke-width="1.6"><circle cx="247.5" cy="153.7" r="4"/><circle cx="190.8" cy="192.2" r="4"/><circle cx="239.5" cy="154.0" r="4"/><circle cx="268.6" cy="120.8" r="4"/></g>
<path fill="none" stroke="#f50a0a" stroke-width="1.5" d="M269.0 308.4h9.2M273.6 303.8v9.2"/>
<g fill="none" stroke="#0a0af5" stroke-width="1.6"><circle cx="288.1" cy="182.2" r="4"/><circle cx="234.9" cy="161.7" r="4"/><circle cx="237.8" cy="106.9" r="4"/><circle cx="348.0" cy="219.7" r="4"/></g>
<path fill="none" stroke="#f50a0a" stroke-width="1.5" d="M159.6 284.7h9.2M164.2 280.1v9.2"/>
<g fill="none" stroke="#0a0af5" stroke-width="1.6"><circle cx="187.0" cy="163.0" r="4"/></g>
<path fill="none" stroke="#f50a0a" stroke-width="1.5" d="M238.4 269.1h9.2M243.0 264.5v9.2M206.4 281.2h9.2M211.0 276.6v9.2"/>
<g fill="none" stroke="#0a0af5" stroke-width="1.6"><circle cx="322.1" cy="158.4" r="4"/><circle cx="162.5" cy="209.3" r="4"/><circle cx="244.1" cy="192.5" r="4"/><circle cx="282.7" cy="201.7" r="4"/><circle cx="248.4" cy="164.7" r="4"/><circle cx="230.7" cy="119.9" r="4"/></g>
<path fill="none" stroke="#f50a0a" stroke-width="1.5" d="M200.9 230.3h9.2M205.5 225.7v9.2M203.9 255.8h9.2M208.5 251.2v9.2M266.6 258.6h9.2M271.2 254.0v9.2M222.1 287.2h9.2M226.7 282.6v9.2M234.6 226.7h9.2M239.2 222.1v9.2"/>
<g fill="none" stroke="#0a0af5" stroke-width="1.6"><circle cx="162.8" cy="149.4" r="4"/><circle cx="217.2" cy="174.5" r="4"/></g>
<path fill="none" stroke="#f50a0a" stroke-width="1.5" d="M201.5 339.7h9.2M206.1 335.1v9.2M232.5 305.2h9.2M237.1 300.6v9.2"/>
<g fill="none" stroke="#0a0af5" stroke-width="1.6"><circle cx="268.3" cy="82.0" r="4"/></g>
<path fill="none" stroke="#f50a0a" stroke-width="1.5" d="M211.2 285.5h9.2M215.8 280.9v9.2"/>
<g fill="none" stroke="#0a0af5" stroke-width="1.6"><circle cx="170.7" cy="70.1" r="4"/></g>
<path fill="none" stroke="#f50a0a" stroke-width="1.5" d="M276.7 273.1h9.2M281.3 268.5v9.2M284.2 294.4h9.2M288.8 289.8v9.2M232.0 302.0h9.2M236.6 297.4v9.2"/>
<g fill="none" stroke="#0a0af5" stroke-width="1.6"><circle cx="159.8" cy="90.6" r="4"/><circle cx="254.3" cy="122.5" r="4"/><circle cx="311.9" cy="226.3" r="4"/><circle cx="269.0" cy="108.1" r="4"/></g>
<path fill="none" stroke="#f50a0a" stroke-width="1.5" d="M259.4 335.3h9.2M264.0 330.7v9.2"/>
<g fill="none" stroke="#0a0af5" stroke-width="1.6"><circle cx="294.4" cy="201.5" r="4"/></g>
<path fill="none" stroke="#f50a0a" stroke-width="1.5" d="M176.2 226.8h9.2M180.8 222.2v9.2M255.9 267.4h9.2M260.5 262.8v9.2M229.4 163.7h9.2M234.0 159.1v9.2"/>
<g fill="none" stroke="#0a0af5" stroke-width="1.6"><circle cx="293.4" cy="212.9" r="4"/></g>
<path fill="none" stroke="#f50a0a" stroke-width="1.5" d="M93.4 292.4h9.2M98.0 287.8v9.2M176.6 228.8h9.2M181.2 224.2v9.2"/>
<g fill="none" stroke="#0a0af5" stroke-width="1.6"><circle cx="190.6" cy="115.1" r="4"/></g>
<path fill="none" stroke="#f50a0a" stroke-width="1.5" d="M285.7 346.2h9.2M290.3 341.6v9.2M278.4 313.9h9.2M283.0 309.3v9.2"/>
<g fill="none" stroke="#0a0af5" stroke-width="1.6"><circle cx="224.4" cy="153.4" r="4"/><circle cx="242.6" cy="164.6" r="4"/><circle cx="287.3" cy="221.3" r="4"/></g>
<path fill="none" stroke="#f50a0a" stroke-width="1.5" d="M238.4 242.4h9.2M243.0 237.8v9.2"/>
<g fill="none" stroke="#0a0af5" stroke-width="1.6"><circle cx="264.6" cy="241.3" r="4"/></g>
<path fill="none" stroke="#f50a0a" stroke-width="1.5" d="M150.6 306.1h9.2M155.2 301.5v9.2"/>
<g fill="none" stroke="#0a0af5" stroke-width="1.6"><circle cx="249.2" cy="188.6" r="4"/></g>
<path fill="none" stroke="#f50a0a" stroke-width="1.5" d="M239.6 187.2h9.2M244.2 182.6v9.2"/>
<g fill="none" stroke="#0a0af5" stroke-width="1.6"><circle cx="215.5" cy="166.2" r="4"/></g>
<path fill="none" stroke="#f50a0a" stroke-width="1.5" d="M278.0 279.0h9.2M282.6 274.4v9.2"/>
<g fill="none" stroke="#0a0af5" stroke-width="1.6"><circle cx="260.6" cy="176.7" r="4"/><circle cx="261.9" cy="163.1" r="4"/></g>
<path fill="none" stroke="#f50a0a" stroke-width="1.5" d="M170.8 207.9h9.2M175.4 203.3v9.2"/>
<g fill="none" stroke="#0a0af5" stroke-width="1.6"><circle cx="282.8" cy="234.2" r="4"/><circle cx="282.7" cy="157.3" r="4"/></g>
<path fill="none" stroke="#f50a0a" stroke-width="1.5" d="M150.4 205.6h9.2M155.0 201.0v9.2"/>
<g fill="none" stroke="#0a0af5" stroke-width="1.6"><circle cx="170.1" cy="184.2" r="4"/><circle cx="187.9" cy="126.1" r="4"/><circle cx="205.6" cy="181.1" r="4"/></g>
<path fill="none" stroke="#f50a0a" stroke-width="1.5" d="M223.0 273.3h9.2M227.6 268.7v9.2"/>
<g fill="none" stroke="#0a0af5" stroke-width="1.6"><circle cx="198.8" cy="120.7" r="4"/><circle cx="274.5" cy="219.2" r="4"/><circle cx="240.2" cy="203.8" r="4"/><circle cx="192.3" cy="127.8" r="4"/><circle cx="231.5" cy="166.1" r="4"/></g>
<path fill="none" stroke="#f50a0a" stroke-width="1.5" d="M238.4 229.4h9.2M243.0 224.8v9.2"/>
<g fill="none" stroke="#0a0af5" stroke-width="1.6"><circle cx="229.7" cy="200.0" r="4"/></g>
<path fill="none" stroke="#f50a0a" stroke-width="1.5" d="M252.5 310.2h9.2M257.1 305.6v9.2"/>
<g fill="none" stroke="#0a0af5" stroke-width="1.6"><circle cx="252.7" cy="273.4" r="4"/><circle cx="219.1" cy="184.4" r="4"/><circle cx="218.5" cy="205.9" r="4"/><circle cx="271.8" cy="262.3" r="4"/></g>
<path fill="none" stroke="#f50a0a" stroke-width="1.5" d="M235.2 219.5h9.2M239.8 214.9v9.2M275.7 191.0h9.2M280.3 186.4v9.2M218.0 328.8h9.2M222.6 324.2v9.2M243.4 296.9h9.2M248.0 292.3v9.2M181.9 218.8h9.2M186.5 214.2v9.2"/>
<g fill="none" stroke="#0a0af5" stroke-width="1.6"><circle cx="265.3" cy="188.1" r="4"/><circle cx="248.1" cy="244.9" r="4"/></g>
<path fill="none" stroke="#f50a0a" stroke-width="1.5" d="M234.9 225.2h9.2M239.5 220.6v9.2M198.6 250.8h9.2M203.2 246.2v9.2"/>
<g fill="none" stroke="#0a0af5" stroke-width="1.6"><circle cx="231.2" cy="162.8" r="4"/></g>
<path fill="none" stroke="#f50a0a" stroke-width="1.5" d="M212.8 277.7h9.2M217.4 273.1v9.2"/>
<g fill="none" stroke="#0a0af5" stroke-width="1.6"><circle cx="299.3" cy="152.9" r="4"/></g>
<path fill="none" stroke="#f50a0a" stroke-width="1.5" d="M156.5 245.1h9.2M161.1 240.5v9.2"/>
<g fill="none" stroke="#0a0af5" stroke-width="1.6"><circle cx="256.1" cy="200.8" r="4"/><circle cx="190.7" cy="155.1" r="4"/><circle cx="226.4" cy="169.2" r="4"/><circle cx="242.4" cy="204.0" r="4"/></g>
<path fill="none" stroke="#f50a0a" stroke-width="1.5" d="M260.1 238.6h9.2M264.7 234.0v9.2"/>
<g fill="none" stroke="#0a0af5" stroke-width="1.6"><circle cx="250.7" cy="172.9" r="4"/></g>
<path fill="none" stroke="#f50a0a" stroke-width="1.5" d="M240.4 349.9h9.2M245.0 345.3v9.2M271.2 299.5h9.2M275.8 294.9v9.2"/>
<g fill="none" stroke="#0a0af5" stroke-width="1.6"><circle cx="211.0" cy="177.9" r="4"/></g>
<path fill="none" stroke="#f50a0a" stroke-width="1.5" d="M198.3 317.7h9.2M202.9 313.1v9.2"/>
<g fill="none" stroke="#0a0af5" stroke-width="1.6"><circle cx="202.6" cy="69.6" r="4"/></g>
<path fill="none" stroke="#f50a0a" stroke-width="1.5" d="M146.8 309.0h9.2M151.4 304.4v9.2M260.1 258.0h9.2M264.7 253.4v9.2M152.7 279.6h9.2M157.3 275.0v9.2M198.5 282.6h9.2M203.1 278.0v9.2M233.6 297.0h9.2M238.2 292.4v9.2"/>
<g fill="none" stroke="#0a0af5" stroke-width="1.6"><circle cx="241.3" cy="238.0" r="4"/><circle cx="193.4" cy="114.6" r="4"/></g>
<path fill="none" stroke="#f50a0a" stroke-width="1.5" d="M188.9 252.9h9.2M193.5 248.3v9.2"/>
<g fill="none" stroke="#0a0af5" stroke-width="1.6"><circle cx="215.3" cy="184.9" r="4"/><circle cx="234.2" cy="210.8" r="4"/></g>
<path fill="none" stroke="#f50a0a" stroke-width="1.5" d="M286.5 346.0h9.2M291.1 341.4v9.2M275.4 270.2h9.2M280.0 265.6v9.2M202.0 269.0h9.2M206.6 264.4v9.2"/>
<g fill="none" stroke="#0a0af5" stroke-width="1.6"><circle cx="191.6" cy="169.6" r="4"/></g>
<path fill="none" stroke="#f50a0a" stroke-width="1.5" d="M213.2 303.9h9.2M217.8 299.3v9.2"/>
<g fill="none" stroke="#0a0af5" stroke-width="1.6"><circle cx="237.5" cy="166.4" r="4"/><circle cx="331.3" cy="162.1" r="4"/></g>
<path fill="none" stroke="#f50a0a" stroke-width="1.5" d="M270.0 269.1h9.2M274.6 264.5v9.2M185.2 239.6h9.2M189.8 235.0v9.2M270.9 148.4h9.2M275.5 143.8v9.2M267.5 238.4h9.2M272.1 233.8v9.2M217.0 249.1h9.2M221.6 244.5v9.2M259.3 230.4h9.2M263.9 225.8v9.2"/>
<g fill="none" stroke="#0a0af5" stroke-width="1.6"><circle cx="207.9" cy="147.2" r="4"/></g>
<path fill="none" stroke="#f50a0a" stroke-width="1.5" d="M244.8 278.8h9.2M249.4 274.2v9.2"/>
<g fill="none" stroke="#0a0af5" stroke-width="1.6"><circle cx="273.0" cy="245.0" r="4"/><circle cx="229.9" cy="104.8" r="4"/></g>
<path fill="none" stroke="#f50a0a" stroke-width="1.5" d="M229.3 276.8h9.2M233.9 272.2v9.2"/>
<g fill="none" stroke="#0a0af5" stroke-width="1.6"><circle cx="239.2" cy="148.7" r="4"/><circle cx="252.5" cy="127.6" r="4"/><circle cx="171.4" cy="162.7" r="4"/><circle cx="235.0" cy="195.2" r="4"/></g>
<path fill="none" stroke="#f50a0a" stroke-width="1.5" d="M255.9 290.3h9.2M260.5 285.7v9.2M250.4 228.9h9.2M255.0 224.3v9.2M176.8 301.4h9.2M181.4 296.8v9.2"/>
<g fill="none" stroke="#0a0af5" stroke-width="1.6"><circle cx="242.1" cy="148.5" r="4"/><circle cx="302.5" cy="199.5" r="4"/></g>
<path fill="none" stroke="#f50a0a" stroke-width="1.5" d="M232.2 248.7h9.2M236.8 244.1v9.2"/>
<g fill="none" stroke="#0a0af5" stroke-width="1.6"><circle cx="253.4" cy="174.8" r="4"/><circle cx="234.0" cy="147.8" r="4"/></g>
<path fill="none" stroke="#f50a0a" stroke-width="1.5" d="M179.3 239.9h9.2M183.9 235.3v9.2"/>
<g fill="none" stroke="#0a0af5" stroke-width="1.6"><circle cx="138.7" cy="127.7" r="4"/><circle cx="266.5" cy="196.8" r="4"/><circle cx="238.3" cy="138.6" r="4"/><circle cx="240.0" cy="159.4" r="4"/></g>
<path fill="none" stroke="#f50a0a" stroke-width="1.5" d="M239.7 318.5h9.2M244.3 313.9v9.2M239.9 201.9h9.2M244.5 197.3v9.2M247.5 293.2h9.2M252.1 288.6v9.2M228.6 231.9h9.2M233.2 227.3v9.2M299.5 312.0h9.2M304.1 307.4v9.2M298.3 309.6h9.2M302.9 305.0v9.2"/>
<g fill="none" stroke="#0a0af5" stroke-width="1.6"><circle cx="200.9" cy="229.9" r="4"/><circle cx="184.5" cy="69.2" r="4"/></g>
<path fill="none" stroke="#f50a0a" stroke-width="1.5" d="M192.1 248.3h9.2M196.7 243.7v9.2M232.1 221.8h9.2M236.7 217.2v9.2"/>
<g fill="none" stroke="#0a0af5" stroke-width="1.6"><circle cx="254.9" cy="198.0" r="4"/></g>
<path fill="none" stroke="#f50a0a" stroke-width="1.5" d="M237.4 281.4h9.2M242.0 276.8v9.2"/>
<g fill="none" stroke="#0a0af5" stroke-width="1.6"><circle cx="239.6" cy="216.2" r="4"/><circle cx="147.9" cy="212.0" r="4"/><circle cx="228.3" cy="149.0" r="4"/><circle cx="177.5" cy="134.2" r="4"/></g>
<path fill="none" stroke="#f50a0a" stroke-width="1.5" d="M217.1 209.7h9.2M221.7 205.1v9.2"/>
<g fill="none" stroke="#0a0af5" stroke-width="1.6"><circle cx="278.2" cy="106.5" r="4"/></g>
<path fill="none" stroke="#f50a0a" stroke-width="1.5" d="M198.7 221.5h9.2M203.3 216.9v9.2M201.9 301.8h9.2M206.5 297.2v9.2M174.4 265.6h9.2M179.0 261.0v9.2"/>
<g fill="none" stroke="#0a0af5" stroke-width="1.6"><circle cx="209.0" cy="128.2" r="4"/></g>
<path fill="none" stroke="#f50a0a" stroke-width="1.5" d="M269.5 282.3h9.2M274.1 277.7v9.2"/>
<g fill="none" stroke="#0a0af5" stroke-width="1.6"><circle cx="167.1" cy="173.2" r="4"/></g>
<path fill="none" stroke="#f50a0a" stroke-width="1.5" d="M201.1 236.3h9.2M205.7 231.7v9.2"/>
<g fill="none" stroke="#0a0af5" stroke-width="1.6"><circle cx="194.7" cy="21.5" r="4"/></g>
<path fill="none" stroke="#f50a0a" stroke-width="1.5" d="M276.6 267.0h9.2M281.2 262.4v9.2"/>
<g fill="none" stroke="#0a0af5" stroke-width="1.6"><circle cx="198.9" cy="88.1" r="4"/><circle cx="232.9" cy="180.3" r="4"/></g>
<path fill="none" stroke="#f50a0a" stroke-width="1.5" d="M200.9 323.3h9.2M205.5 318.7v9.2"/>
<g fill="none" stroke="#0a0af5" stroke-width="1.6"><circle cx="195.0" cy="136.7" r="4"/><circle cx="243.9" cy="137.1" r="4"/></g>
<path fill="none" stroke="#f50a0a" stroke-width="1.5" d="M205.9 335.3h9.2M210.5 330.7v9.2"/>
<g fill="none" stroke="#0a0af5" stroke-width="1.6"><circle cx="176.6" cy="97.6" r="4"/></g>
<path fill="none" stroke="#f50a0a" stroke-width="1.5" d="M240.0 284.6h9.2M244.6 280.0v9.2"/>
<g fill="none" stroke="#0a0af5" stroke-width="1.6"><circle cx="255.1" cy="153.7" r="4"/></g>
<path fill="none" stroke="#f50a0a" stroke-width="1.5" d="M243.6 352.8h9.2M248.2 348.2v9.2"/>
<g fill="none" stroke="#0a0af5" stroke-width="1.6"><circle cx="215.2" cy="147.7" r="4"/></g>
<path fill="none" stroke="#f50a0a" stroke-width="1.5" d="M258.2 309.4h9.2M262.8 304.8v9.2"/>
<g fill="none" stroke="#0a0af5" stroke-width="1.6"><circle cx="146.2" cy="112.8" r="4"/></g>
<path fill="none" stroke="#f50a0a" stroke-width="1.5" d="M276.2 274.9h9.2M280.8 270.3v9.2M263.0 302.5h9.2M267.6 297.9v9.2M264.9 211.8h9.2M269.5 207.2v9.2M197.9 245.2h9.2M202.5 240.6v9.2"/>
<g fill="none" stroke="#0a0af5" stroke-width="1.6"><circle cx="228.0" cy="204.5" r="4"/></g>
<path fill="none" stroke="#f50a0a" stroke-width="1.5" d="M165.0 261.4h9.2M169.6 256.8v9.2"/>
<g fill="none" stroke="#0a0af5" stroke-width="1.6"><circle cx="281.4" cy="213.2" r="4"/><circle cx="236.5" cy="192.1" r="4"/><circle cx="250.6" cy="99.7" r="4"/><circle cx="250.8" cy="200.7" r="4"/></g>
<path fill="none" stroke="#f50a0a" stroke-width="1.5" d="M259.6 228.0h9.2M264.2 223.4v9.2"/>
<g fill="none" stroke="#0a0af5" stroke-width="1.6"><circle cx="250.3" cy="188.7" r="4"/></g>
<path fill="none" stroke="#f50a0a" stroke-width="1.5" d="M238.0 251.4h9.2M242.6 246.8v9.2"/>
<g fill="none" stroke="#0a0af5" stroke-width="1.6"><circle cx="269.5" cy="134.0" r="4"/><circle cx="121.5" cy="224.8" r="4"/><circle cx="207.8" cy="199.8" r="4"/></g>
<path fill="none" stroke="#f50a0a" stroke-width="1.5" d="M185.9 257.5h9.2M190.5 252.9v9.2M268.1 327.0h9.2M272.7 322.4v9.2M207.2 267.0h9.2M211.8 262.4v9.2"/>
<g fill="none" stroke="#0a0af5" stroke-width="1.6"><circle cx="282.8" cy="149.6" r="4"/></g>
<path fill="none" stroke="#f50a0a" stroke-width="1.5" d="M259.4 304.6h9.2M264.0 300.0v9.2M232.4 222.7h9.2M237.0 218.1v9.2"/>
<g fill="none" stroke="#0a0af5" stroke-width="1.6"><circle cx="273.8" cy="132.4" r="4"/><circle cx="266.8" cy="223.5" r="4"/></g>
<path fill="none" stroke="#f50a0a" stroke-width="1.5" d="M179.8 187.8h9.2M184.4 183.2v9.2M227.5 274.1h9.2M232.1 269.5v9.2"/>
<g fill="none" stroke="#0a0af5" stroke-width="1.6"><circle cx="196.4" cy="153.8" r="4"/></g>
<path fill="none" stroke="#f50a0a" stroke-width="1.5" d="M143.7 250.2h9.2M148.3 245.6v9.2"/>
<g fill="none" stroke="#0a0af5" stroke-width="1.6"><circle cx="243.6" cy="148.9" r="4"/><circle cx="245.2" cy="114.8" r="4"/><circle cx="184.7" cy="114.1" r="4"/><circle cx="304.5" cy="171.0" r="4"/></g>
<path fill="none" stroke="#f50a0a" stroke-width="1.5" d="M202.1 191.0h9.2M206.7 186.4v9.2"/>
<g fill="none" stroke="#0a0af5" stroke-width="1.6"><circle cx="195.6" cy="208.7" r="4"/></g>
<path fill="none" stroke="#f50a0a" stroke-width="1.5" d="M153.9 197.4h9.2M158.5 192.8v9.2"/>
<g fill="none" stroke="#0a0af5" stroke-width="1.6"><circle cx="264.6" cy="135.6" r="4"/></g>
<path fill="none" stroke="#f50a0a" stroke-width="1.5" d="M190.0 193.8h9.2M194.6 189.2v9.2"/>
<g fill="none" stroke="#0a0af5" stroke-width="1.6"><circle cx="228.3" cy="179.5" r="4"/><circle cx="249.0" cy="232.8" r="4"/><circle cx="260.1" cy="97.3" r="4"/></g>
<path fill="none" stroke="#f50a0a" stroke-width="1.5" d="M229.1 287.3h9.2M233.7 282.7v9.2M233.8 253.0h9.2M238.4 248.4v9.2M269.0 256.4h9.2M273.6 251.8v9.2M189.0 271.0h9.2M193.6 266.4v9.2"/>
<g fill="none" stroke="#0a0af5" stroke-width="1.6"><circle cx="286.1" cy="159.8" r="4"/></g>
<path fill="none" stroke="#f50a0a" stroke-width="1.5" d="M191.8 227.5h9.2M196.4 222.9v9.2"/>
<path fill="none" stroke="#0a0af5" stroke-width="1.5" d="M639.9 137.8l8.2 8.2M639.9 146.0l8.2 -8.2"/>
<g fill="none" stroke="#0a0af5" stroke-width="1.6"><circle cx="249.4" cy="155.8" r="4"/><circle cx="226.0" cy="134.2" r="4"/></g>
<path fill="none" stroke="#f50a0a" stroke-width="1.5" d="M220.7 270.5h9.2M225.3 265.9v9.2"/>
<g fill="none" stroke="#0a0af5" stroke-width="1.6"><circle cx="270.2" cy="185.3" r="4"/></g>
<path fill="none" stroke="#f50a0a" stroke-width="1.5" d="M127.1 250.7h9.2M131.7 246.1v9.2M166.7 233.2h9.2M171.3 228.6v9.2M197.4 240.0h9.2M202.0 235.4v9.2M184.8 185.2h9.2M189.4 180.6v9.2"/>
<g fill="none" stroke="#0a0af5" stroke-width="1.6"><circle cx="284.6" cy="155.0" r="4"/></g>
<path fill="none" stroke="#f50a0a" stroke-width="1.5" d="M216.0 210.4h9.2M220.6 205.8v9.2M325.9 286.5h9.2M330.5 281.9v9.2"/>
<g fill="none" stroke="#0a0af5" stroke-width="1.6"><circle cx="310.2" cy="198.3" r="4"/></g>
<path fill="none" stroke="#f50a0a" stroke-width="1.5" d="M243.7 169.3h9.2M248.3 164.7v9.2M230.3 233.0h9.2M234.9 228.4v9.2M261.5 289.0h9.2M266.1 284.4v9.2M195.0 244.3h9.2M199.6 239.7v9.2"/>
<g fill="none" stroke="#0a0af5" stroke-width="1.6"><circle cx="235.8" cy="223.2" r="4"/></g>
<path fill="none" stroke="#f50a0a" stroke-width="1.5" d="M172.2 307.3h9.2M176.8 302.7v9.2"/>
<g fill="none" stroke="#0a0af5" stroke-width="1.6"><circle cx="216.7" cy="192.3" r="4"/><circle cx="285.8" cy="180.9" r="4"/><circle cx="247.3" cy="226.4" r="4"/></g>
<path fill="none" stroke="#f50a0a" stroke-width="1.5" d="M196.3 310.5h9.2M200.9 305.9v9.2M210.5 271.9h9.2M215.1 267.3v9.2"/>
<g fill="none" stroke="#0a0af5" stroke-width="1.6"><circle cx="208.4" cy="150.4" r="4"/></g>
<path fill="none" stroke="#f50a0a" stroke-width="1.5" d="M200.1 289.6h9.2M204.7 285.0v9.2"/>
<g fill="none" stroke="#0a0af5" stroke-width="1.6"><circle cx="134.2" cy="175.5" r="4"/></g>
<path fill="none" stroke="#f50a0a" stroke-width="1.5" d="M189.6 137.7h9.2M194.2 133.1v9.2"/>
<g fill="none" stroke="#0a0af5" stroke-width="1.6"><circle cx="296.9" cy="160.1" r="4"/></g>
<path fill="none" stroke="#f50a0a" stroke-width="1.5" d="M223.4 340.8h9.2M228.0 336.2v9.2M242.9 251.7h9.2M247.5 247.1v9.2"/>
<g fill="none" stroke="#0a0af5" stroke-width="1.6"><circle cx="188.8" cy="126.6" r="4"/><circle cx="247.4" cy="121.2" r="4"/></g>
<path fill="none" stroke="#f50a0a" stroke-width="1.5" d="M259.3 275.1h9.2M263.9 270.5v9.2"/>
<g fill="none" stroke="#0a0af5" stroke-width="1.6"><circle cx="264.5" cy="177.1" r="4"/><circle cx="276.0" cy="155.9" r="4"/><circle cx="255.8" cy="138.2" r="4"/></g>
<path fill="none" stroke="#f50a0a" stroke-width="1.5" d="M207.6 265.8h9.2M212.2 261.2v9.2M219.4 316.1h9.2M224.0 311.5v9.2M182.1 291.1h9.2M186.7 286.5v9.2"/>
<g fill="none" stroke="#0a0af5" stroke-width="1.6"><circle cx="235.6" cy="133.2" r="4"/><circle cx="185.4" cy="91.4" r="4"/><circle cx="252.2" cy="205.5" r="4"/><circle cx="224.2" cy="164.7" r="4"/><circle cx="229.0" cy="191.5" r="4"/><circle cx="241.1" cy="61.8" r="4"/><circle cx="307.3" cy="145.5" r="4"/></g>
<path fill="none" stroke="#f50a0a" stroke-width="1.5" d="M158.1 234.1h9.2M162.7 229.5v9.2M285.6 267.7h9.2M290.2 263.1v9.2M252.0 240.4h9.2M256.6 235.8v9.2M230.3 212.1h9.2M234.9 207.5v9.2"/>
<g fill="none" stroke="#0a0af5" stroke-width="1.6"><circle cx="189.4" cy="73.6" r="4"/><circle cx="156.1" cy="190.1" r="4"/></g>
<path fill="none" stroke="#f50a0a" stroke-width="1.5" d="M351.0 217.1h9.2M355.6 212.5v9.2"/>
<g fill="none" stroke="#0a0af5" stroke-width="1.6"><circle cx="147.6" cy="77.3" r="4"/><circle cx="214.0" cy="189.9" r="4"/></g>
<path fill="none" stroke="#f50a0a" stroke-width="1.5" d="M237.7 270.9h9.2M242.3 266.3v9.2"/>
<g fill="none" stroke="#0a0af5" stroke-width="1.6"><circle cx="284.7" cy="95.1" r="4"/></g>
<path fill="none" stroke="#f50a0a" stroke-width="1.5" d="M300.6 109.1h9.2M305.2 104.5v9.2M218.3 316.1h9.2M222.9 311.5v9.2M223.2 264.3h9.2M227.8 259.7v9.2M197.4 274.4h9.2M202.0 269.8v9.2"/>
<g fill="none" stroke="#0a0af5" stroke-width="1.6"><circle cx="262.2" cy="202.1" r="4"/></g>
<path fill="none" stroke="#f50a0a" stroke-width="1.5" d="M243.1 287.1h9.2M247.7 282.5v9.2"/>
<g fill="none" stroke="#0a0af5" stroke-width="1.6"><circle cx="189.0" cy="181.9" r="4"/></g>
<path fill="none" stroke="#f50a0a" stroke-width="1.5" d="M170.0 268.5h9.2M174.6 263.9v9.2"/>
<g fill="none" stroke="#0a0af5" stroke-width="1.6"><circle cx="213.2" cy="188.9" r="4"/></g>
<path fill="none" stroke="#f50a0a" stroke-width="1.5" d="M192.3 292.9h9.2M196.9 288.3v9.2"/>
<path fill="none" stroke="#0a0af5" stroke-width="1.5" d="M503.7 128.5l8.2 8.2M503.7 136.7l8.2 -8.2"/>
<path fill="none" stroke="#f50a0a" stroke-width="1.5" d="M243.2 242.4h9.2M247.8 237.8v9.2M216.7 272.3h9.2M221.3 267.7v9.2"/>
<g fill="none" stroke="#0a0af5" stroke-width="1.6"><circle cx="255.0" cy="219.0" r="4"/><circle cx="272.6" cy="240.1" r="4"/></g>
<path fill="none" stroke="#f50a0a" stroke-width="1.5" d="M209.1 288.7h9.2M213.7 284.1v9.2M195.9 286.5h9.2M200.5 281.9v9.2"/>
<g fill="none" stroke="#0a0af5" stroke-width="1.6"><circle cx="186.8" cy="209.0" r="4"/></g>
<path fill="none" stroke="#f50a0a" stroke-width="1.5" d="M271.7 315.8h9.2M276.3 311.2v9.2"/>
<g fill="none" stroke="#0a0af5" stroke-width="1.6"><circle cx="270.1" cy="217.5" r="4"/><circle cx="230.9" cy="263.8" r="4"/></g>
<path fill="none" stroke="#f50a0a" stroke-width="1.5" d="M245.6 291.5h9.2M250.2 286.9v9.2"/>
<g fill="none" stroke="#0a0af5" stroke-width="1.6"><circle cx="228.0" cy="128.4" r="4"/></g>
<path fill="none" stroke="#f50a0a" stroke-width="1.5" d="M203.8 284.0h9.2M208.4 279.4v9.2M151.4 257.9h9.2M156.0 253.3v9.2"/>
<g fill="none" stroke="#0a0af5" stroke-width="1.6"><circle cx="208.5" cy="101.4" r="4"/></g>
<path fill="none" stroke="#0a0af5" stroke-width="1.5" d="M430.9 219.8l8.2 8.2M430.9 228.0l8.2 -8.2"/>
<path fill="none" stroke="#f50a0a" stroke-width="1.5" d="M270.6 224.5h9.2M275.2 219.9v9.2"/>
<g fill="none" stroke="#0a0af5" stroke-width="1.6"><circle cx="245.7" cy="216.9" r="4"/></g>
<path fill="none" stroke="#f50a0a" stroke-width="1.5" d="M259.5 289.1h9.2M264.1 284.5v9.2M210.5 367.4h9.2M215.1 362.8v9.2"/>
<g fill="none" stroke="#0a0af5" stroke-width="1.6"><circle cx="180.8" cy="102.8" r="4"/><circle cx="236.1" cy="155.7" r="4"/></g>
<path fill="none" stroke="#f50a0a" stroke-width="1.5" d="M222.7 251.1h9.2M227.3 246.5v9.2M274.7 263.6h9.2M279.3 259.0v9.2M236.6 202.7h9.2M241.2 198.1v9.2M194.7 256.7h9.2M199.3 252.1v9.2"/>
<g fill="none" stroke="#0a0af5" stroke-width="1.6"><circle cx="183.5" cy="126.6" r="4"/><circle cx="265.1" cy="237.0" r="4"/><circle cx="202.2" cy="122.3" r="4"/></g>
<path fill="none" stroke="#f50a0a" stroke-width="1.5" d="M162.1 245.2h9.2M166.7 240.6v9.2M184.0 347.4h9.2M188.6 342.8v9.2"/>
<g fill="none" stroke="#0a0af5" stroke-width="1.6"><circle cx="224.0" cy="198.6" r="4"/></g>
<path fill="none" stroke="#f50a0a" stroke-width="1.5" d="M189.0 198.9h9.2M193.6 194.3v9.2M209.6 167.6h9.2M214.2 163.0v9.2"/>
<g fill="none" stroke="#0a0af5" stroke-width="1.6"><circle cx="247.1" cy="258.9" r="4"/><circle cx="206.6" cy="151.7" r="4"/></g>
<path fill="none" stroke="#f50a0a" stroke-width="1.5" d="M212.0 270.0h9.2M216.6 265.4v9.2"/>
<g fill="none" stroke="#0a0af5" stroke-width="1.6"><circle cx="250.9" cy="211.9" r="4"/><circle cx="195.6" cy="128.9" r="4"/><circle cx="263.2" cy="248.2" r="4"/><circle cx="256.9" cy="217.6" r="4"/></g>
<path fill="none" stroke="#f50a0a" stroke-width="1.5" d="M216.5 248.5h9.2M221.1 243.9v9.2"/>
<g fill="none" stroke="#0a0af5" stroke-width="1.6"><circle cx="207.1" cy="172.5" r="4"/><circle cx="289.6" cy="221.3" r="4"/><circle cx="325.8" cy="174.8" r="4"/></g>
<path fill="none" stroke="#f50a0a" stroke-width="1.5" d="M177.7 188.6h9.2M182.3 184.0v9.2M225.6 289.7h9.2M230.2 285.1v9.2M192.5 242.1h9.2M197.1 237.5v9.2M330.3 204.4h9.2M334.9 199.8v9.2"/>
<g fill="none" stroke="#0a0af5" stroke-width="1.6"><circle cx="165.8" cy="61.8" r="4"/></g>
<path fill="none" stroke="#f50a0a" stroke-width="1.5" d="M220.7 184.4h9.2M225.3 179.8v9.2"/>
<g fill="none" stroke="#0a0af5" stroke-width="1.6"><circle cx="347.3" cy="166.6" r="4"/></g>
<path fill="none" stroke="#f50a0a" stroke-width="1.5" d="M271.8 344.7h9.2M276.4 340.1v9.2"/>
<g fill="none" stroke="#0a0af5" stroke-width="1.6"><circle cx="185.7" cy="220.7" r="4"/></g>
<path fill="none" stroke="#f50a0a" stroke-width="1.5" d="M180.3 195.4h9.2M184.9 190.8v9.2M265.9 254.1h9.2M270.5 249.5v9.2"/>
<g fill="none" stroke="#0a0af5" stroke-width="1.6"><circle cx="199.8" cy="125.7" r="4"/><circle cx="210.8" cy="160.6" r="4"/><circle cx="206.9" cy="192.3" r="4"/><circle cx="231.2" cy="155.5" r="4"/><circle cx="218.1" cy="181.7" r="4"/></g>
<path fill="none" stroke="#f50a0a" stroke-width="1.5" d="M238.5 241.1h9.2M243.1 236.5v9.2M228.1 223.5h9.2M232.7 218.9v9.2M256.9 266.2h9.2M261.5 261.6v9.2"/>
<g fill="none" stroke="#0a0af5" stroke-width="1.6"><circle cx="221.6" cy="197.3" r="4"/></g>
<path fill="none" stroke="#f50a0a" stroke-width="1.5" d="M175.6 141.3h9.2M180.2 136.7v9.2"/>
<g fill="none" stroke="#0a0af5" stroke-width="1.6"><circle cx="225.5" cy="116.1" r="4"/></g>
<path fill="none" stroke="#f50a0a" stroke-width="1.5" d="M179.5 270.7h9.2M184.1 266.1v9.2"/>
<g fill="none" stroke="#0a0af5" stroke-width="1.6"><circle cx="236.9" cy="232.9" r="4"/><circle cx="169.5" cy="152.6" r="4"/></g>
<path fill="none" stroke="#f50a0a" stroke-width="1.5" d="M244.4 202.8h9.2M249.0 198.2v9.2M269.6 306.1h9.2M274.2 301.5v9.2"/>
<g fill="none" stroke="#0a0af5" stroke-width="1.6"><circle cx="228.9" cy="83.1" r="4"/><circle cx="273.0" cy="207.4" r="4"/><circle cx="240.1" cy="155.1" r="4"/><circle cx="281.8" cy="196.6" r="4"/></g>
<path fill="none" stroke="#f50a0a" stroke-width="1.5" d="M170.0 244.9h9.2M174.6 240.3v9.2"/>
<g fill="none" stroke="#0a0af5" stroke-width="1.6"><circle cx="246.6" cy="179.5" r="4"/></g>
<path fill="none" stroke="#f50a0a" stroke-width="1.5" d="M157.8 279.6h9.2M162.4 275.0v9.2"/>
<g fill="none" stroke="#0a0af5" stroke-width="1.6"><circle cx="216.6" cy="124.5" r="4"/></g>
<path fill="none" stroke="#f50a0a" stroke-width="1.5" d="M289.5 234.6h9.2M294.1 230.0v9.2M206.9 322.8h9.2M211.5 318.2v9.2"/>
<g fill="none" stroke="#0a0af5" stroke-width="1.6"><circle cx="242.4" cy="232.5" r="4"/></g>
<path fill="none" stroke="#f50a0a" stroke-width="1.5" d="M157.3 296.1h9.2M161.9 291.5v9.2"/>
<g fill="none" stroke="#0a0af5" stroke-width="1.6"><circle cx="277.8" cy="176.8" r="4"/></g>
<path fill="none" stroke="#f50a0a" stroke-width="1.5" d="M251.0 216.5h9.2M255.6 211.9v9.2"/>
<g fill="none" stroke="#0a0af5" stroke-width="1.6"><circle cx="269.1" cy="89.4" r="4"/><circle cx="210.4" cy="199.5" r="4"/></g>
<path fill="none" stroke="#f50a0a" stroke-width="1.5" d="M214.8 229.2h9.2M219.4 224.6v9.2M262.9 279.5h9.2M267.5 274.9v9.2"/>
<g fill="none" stroke="#0a0af5" stroke-width="1.6"><circle cx="306.1" cy="123.4" r="4"/><circle cx="286.5" cy="244.8" r="4"/><circle cx="225.9" cy="181.3" r="4"/><circle cx="215.7" cy="80.6" r="4"/><circle cx="250.1" cy="193.9" r="4"/><circle cx="231.0" cy="275.9" r="4"/><circle cx="199.0" cy="148.1" r="4"/><circle cx="214.4" cy="193.7" r="4"/><circle cx="210.9" cy="163.2" r="4"/></g>
<path fill="none" stroke="#f50a0a" stroke-width="1.5" d="M234.4 127.3h9.2M239.0 122.7v9.2"/>
<g fill="none" stroke="#0a0af5" stroke-width="1.6"><circle cx="226.8" cy="209.8" r="4"/></g>
<path fill="none" stroke="#f50a0a" stroke-width="1.5" d="M162.8 234.2h9.2M167.4 229.6v9.2M329.2 206.2h9.2M333.8 201.6v9.2M242.7 314.3h9.2M247.3 309.7v9.2"/>
<g fill="none" stroke="#0a0af5" stroke-width="1.6"><circle cx="272.0" cy="94.9" r="4"/><circle cx="155.2" cy="184.7" r="4"/><circle cx="218.8" cy="203.9" r="4"/></g>
<path fill="none" stroke="#f50a0a" stroke-width="1.5" d="M247.6 269.1h9.2M252.2 264.5v9.2M203.4 277.6h9.2M208.0 273.0v9.2"/>
<g fill="none" stroke="#0a0af5" stroke-width="1.6"><circle cx="313.0" cy="176.7" r="4"/><circle cx="341.4" cy="250.3" r="4"/><circle cx="235.5" cy="221.0" r="4"/></g>
<path fill="none" stroke="#f50a0a" stroke-width="1.5" d="M273.1 258.7h9.2M277.7 254.1v9.2M232.9 272.3h9.2M237.5 267.7v9.2M161.9 276.2h9.2M166.5 271.6v9.2M218.3 250.2h9.2M222.9 245.6v9.2M218.2 192.9h9.2M222.8 188.3v9.2"/>
<g fill="none" stroke="#0a0af5" stroke-width="1.6"><circle cx="244.8" cy="186.2" r="4"/></g>
<path fill="none" stroke="#0a0af5" stroke-width="1.5" d="M381.1 151.8l8.2 8.2M381.1 160.0l8.2 -8.2"/>
<path fill="none" stroke="#f50a0a" stroke-width="1.5" d="M229.6 236.0h9.2M234.2 231.4v9.2"/>
<g fill="none" stroke="#0a0af5" stroke-width="1.6"><circle cx="185.5" cy="183.2" r="4"/></g>
<path fill="none" stroke="#f50a0a" stroke-width="1.5" d="M300.3 301.7h9.2M304.9 297.1v9.2M211.9 273.8h9.2M216.5 269.2v9.2"/>
<g fill="none" stroke="#0a0af5" stroke-width="1.6"><circle cx="221.0" cy="77.1" r="4"/><circle cx="207.6" cy="144.4" r="4"/><circle cx="215.3" cy="182.8" r="4"/></g>
<path fill="none" stroke="#f50a0a" stroke-width="1.5" d="M202.6 307.9h9.2M207.2 303.3v9.2"/>
<g fill="none" stroke="#0a0af5" stroke-width="1.6"><circle cx="250.5" cy="123.0" r="4"/><circle cx="288.3" cy="108.5" r="4"/></g>
<path fill="none" stroke="#f50a0a" stroke-width="1.5" d="M229.9 258.4h9.2M234.5 253.8v9.2M256.5 229.8h9.2M261.1 225.2v9.2"/>
<g fill="none" stroke="#0a0af5" stroke-width="1.6"><circle cx="203.7" cy="219.9" r="4"/><circle cx="166.3" cy="131.8" r="4"/><circle cx="232.8" cy="159.2" r="4"/><circle cx="169.9" cy="179.9" r="4"/></g>
<path fill="none" stroke="#f50a0a" stroke-width="1.5" d="M227.2 305.8h9.2M231.8 301.2v9.2"/>
<g fill="none" stroke="#0a0af5" stroke-width="1.6"><circle cx="256.4" cy="207.4" r="4"/></g>
<path fill="none" stroke="#f50a0a" stroke-width="1.5" d="M238.8 190.7h9.2M243.4 186.1v9.2"/>
<g fill="none" stroke="#0a0af5" stroke-width="1.6"><circle cx="259.1" cy="98.4" r="4"/><circle cx="268.2" cy="272.9" r="4"/></g>
<path fill="none" stroke="#f50a0a" stroke-width="1.5" d="M240.7 220.4h9.2M245.3 215.8v9.2"/>
<g fill="none" stroke="#0a0af5" stroke-width="1.6"><circle cx="240.7" cy="197.9" r="4"/></g>
<path fill="none" stroke="#f50a0a" stroke-width="1.5" d="M128.7 193.8h9.2M133.3 189.2v9.2"/>
<g fill="none" stroke="#0a0af5" stroke-width="1.6"><circle cx="242.9" cy="215.5" r="4"/></g>
<path fill="none" stroke="#f50a0a" stroke-width="1.5" d="M255.3 277.3h9.2M259.9 272.7v9.2"/>
<g fill="none" stroke="#0a0af5" stroke-width="1.6"><circle cx="224.6" cy="200.4" r="4"/><circle cx="181.5" cy="175.8" r="4"/><circle cx="270.7" cy="165.6" r="4"/><circle cx="234.1" cy="199.0" r="4"/><circle cx="194.9" cy="142.6" r="4"/></g>
<path fill="none" stroke="#f50a0a" stroke-width="1.5" d="M188.4 314.0h9.2M193.0 309.4v9.2M157.9 185.6h9.2M162.5 181.0v9.2M206.5 215.2h9.2M211.1 210.6v9.2"/>
<g fill="none" stroke="#0a0af5" stroke-width="1.6"><circle cx="195.4" cy="166.6" r="4"/><circle cx="223.6" cy="90.5" r="4"/><circle cx="243.7" cy="209.2" r="4"/><circle cx="178.2" cy="169.7" r="4"/><circle cx="199.6" cy="115.0" r="4"/></g>
<path fill="none" stroke="#f50a0a" stroke-width="1.5" d="M168.9 215.0h9.2M173.5 210.4v9.2"/>
<g fill="none" stroke="#0a0af5" stroke-width="1.6"><circle cx="241.8" cy="156.3" r="4"/></g>
<path fill="none" stroke="#f50a0a" stroke-width="1.5" d="M246.4 255.0h9.2M251.0 250.4v9.2"/>
<g fill="none" stroke="#0a0af5" stroke-width="1.6"><circle cx="277.4" cy="167.1" r="4"/><circle cx="191.6" cy="182.5" r="4"/><circle cx="268.0" cy="204.6" r="4"/><circle cx="144.3" cy="131.0" r="4"/></g>
<path fill="none" stroke="#f50a0a" stroke-width="1.5" d="M212.6 248.0h9.2M217.2 243.4v9.2"/>
<g fill="none" stroke="#0a0af5" stroke-width="1.6"><circle cx="193.1" cy="231.6" r="4"/></g>
<path fill="none" stroke="#f50a0a" stroke-width="1.5" d="M245.0 251.9h9.2M249.6 247.3v9.2"/>
<g fill="none" stroke="#0a0af5" stroke-width="1.6"><circle cx="223.0" cy="193.9" r="4"/><circle cx="180.0" cy="198.3" r="4"/></g>
<path fill="none" stroke="#0a0af5" stroke-width="1.5" d="M345.1 151.0l8.2 8.2M345.1 159.2l8.2 -8.2"/>
<path fill="none" stroke="#f50a0a" stroke-width="1.5" d="M236.8 220.8h9.2M241.4 216.2v9.2M326.6 171.2h9.2M331.2 166.6v9.2"/>
<g fill="none" stroke="#0a0af5" stroke-width="1.6"><circle cx="151.8" cy="100.5" r="4"/><circle cx="241.1" cy="149.7" r="4"/></g>
<path fill="none" stroke="#f50a0a" stroke-width="1.5" d="M151.9 296.7h9.2M156.5 292.1v9.2"/>
<g fill="none" stroke="#0a0af5" stroke-width="1.6"><circle cx="210.0" cy="147.2" r="4"/><circle cx="237.3" cy="172.6" r="4"/></g>
<path fill="none" stroke="#f50a0a" stroke-width="1.5" d="M374.7 182.8h9.2M379.3 178.2v9.2"/>
<g fill="none" stroke="#0a0af5" stroke-width="1.6"><circle cx="250.5" cy="87.6" r="4"/><circle cx="170.0" cy="117.3" r="4"/><circle cx="147.0" cy="191.0" r="4"/><circle cx="230.8" cy="180.6" r="4"/></g>
<path fill="none" stroke="#f50a0a" stroke-width="1.5" d="M312.8 306.6h9.2M317.4 302.0v9.2"/>
<g fill="none" stroke="#0a0af5" stroke-width="1.6"><circle cx="324.8" cy="184.0" r="4"/><circle cx="250.0" cy="112.3" r="4"/><circle cx="283.4" cy="207.8" r="4"/><circle cx="202.1" cy="155.0" r="4"/><circle cx="194.9" cy="150.3" r="4"/></g>
<path fill="none" stroke="#f50a0a" stroke-width="1.5" d="M241.7 257.6h9.2M246.3 253.0v9.2"/>
<g fill="none" stroke="#0a0af5" stroke-width="1.6"><circle cx="281.1" cy="197.8" r="4"/><circle cx="190.0" cy="129.5" r="4"/></g>
<path fill="none" stroke="#f50a0a" stroke-width="1.5" d="M201.0 264.1h9.2M205.6 259.5v9.2"/>
<g fill="none" stroke="#0a0af5" stroke-width="1.6"><circle cx="189.1" cy="126.5" r="4"/></g>
<path fill="none" stroke="#f50a0a" stroke-width="1.5" d="M337.3 309.4h9.2M341.9 304.8v9.2"/>
<g fill="none" stroke="#0a0af5" stroke-width="1.6"><circle cx="280.0" cy="163.1" r="4"/></g>
<path fill="none" stroke="#f50a0a" stroke-width="1.5" d="M260.6 231.1h9.2M265.2 226.5v9.2M186.7 228.4h9.2M191.3 223.8v9.2"/>
<g fill="none" stroke="#0a0af5" stroke-width="1.6"><circle cx="235.9" cy="185.8" r="4"/></g>
<path fill="none" stroke="#f50a0a" stroke-width="1.5" d="M196.7 260.1h9.2M201.3 255.5v9.2"/>
<g fill="none" stroke="#0a0af5" stroke-width="1.6"><circle cx="271.9" cy="228.9" r="4"/><circle cx="218.5" cy="175.5" r="4"/></g>
<path fill="none" stroke="#f50a0a" stroke-width="1.5" d="M249.2 346.2h9.2M253.8 341.6v9.2M213.3 304.4h9.2M217.9 299.8v9.2"/>
<g fill="none" stroke="#0a0af5" stroke-width="1.6"><circle cx="203.8" cy="200.0" r="4"/></g>
<path fill="none" stroke="#f50a0a" stroke-width="1.5" d="M96.8 189.2h9.2M101.4 184.6v9.2"/>
<g fill="none" stroke="#0a0af5" stroke-width="1.6"><circle cx="240.2" cy="233.4" r="4"/></g>
<path fill="none" stroke="#f50a0a" stroke-width="1.5" d="M313.9 233.9h9.2M318.5 229.3v9.2"/>
<g fill="none" stroke="#0a0af5" stroke-width="1.6"><circle cx="159.8" cy="165.4" r="4"/><circle cx="224.8" cy="177.1" r="4"/></g>
<path fill="none" stroke="#f50a0a" stroke-width="1.5" d="M262.1 265.3h9.2M266.7 260.7v9.2M206.5 266.2h9.2M211.1 261.6v9.2"/>
<g fill="none" stroke="#0a0af5" stroke-width="1.6"><circle cx="264.5" cy="169.5" r="4"/></g>
<path fill="none" stroke="#f50a0a" stroke-width="1.5" d="M255.0 338.2h9.2M259.6 333.6v9.2M223.0 193.3h9.2M227.6 188.7v9.2"/>
<g fill="none" stroke="#0a0af5" stroke-width="1.6"><circle cx="285.7" cy="233.2" r="4"/><circle cx="176.2" cy="216.7" r="4"/></g>
<path fill="none" stroke="#f50a0a" stroke-width="1.5" d="M257.1 170.7h9.2M261.7 166.1v9.2"/>
<g fill="none" stroke="#0a0af5" stroke-width="1.6"><circle cx="199.5" cy="196.8" r="4"/><circle cx="182.7" cy="207.3" r="4"/><circle cx="198.9" cy="146.7" r="4"/><circle cx="209.2" cy="217.9" r="4"/></g>
<path fill="none" stroke="#f50a0a" stroke-width="1.5" d="M265.8 303.7h9.2M270.4 299.1v9.2"/>
<g fill="none" stroke="#0a0af5" stroke-width="1.6"><circle cx="302.8" cy="157.3" r="4"/></g>
<path fill="none" stroke="#f50a0a" stroke-width="1.5" d="M112.3 226.6h9.2M116.9 222.0v9.2"/>
<g fill="none" stroke="#0a0af5" stroke-width="1.6"><circle cx="216.4" cy="163.5" r="4"/><circle cx="274.3" cy="138.6" r="4"/><circle cx="194.1" cy="61.7" r="4"/><circle cx="236.4" cy="215.1" r="4"/><circle cx="222.8" cy="141.6" r="4"/></g>
<path fill="none" stroke="#f50a0a" stroke-width="1.5" d="M344.5 248.1h9.2M349.1 243.5v9.2M286.5 318.6h9.2M291.1 314.0v9.2M210.9 232.2h9.2M215.5 227.6v9.2M219.0 209.7h9.2M223.6 205.1v9.2"/>
<g fill="none" stroke="#0a0af5" stroke-width="1.6"><circle cx="259.2" cy="206.4" r="4"/></g>
<path fill="none" stroke="#f50a0a" stroke-width="1.5" d="M209.5 231.5h9.2M214.1 226.9v9.2M230.0 233.5h9.2M234.6 228.9v9.2M295.7 272.4h9.2M300.3 267.8v9.2"/>
<g fill="none" stroke="#0a0af5" stroke-width="1.6"><circle cx="255.5" cy="222.4" r="4"/><circle cx="302.8" cy="187.9" r="4"/></g>
<path fill="none" stroke="#f50a0a" stroke-width="1.5" d="M192.4 247.2h9.2M197.0 242.6v9.2"/>
<g fill="none" stroke="#0a0af5" stroke-width="1.6"><circle cx="245.2" cy="132.7" r="4"/></g>
<path fill="none" stroke="#f50a0a" stroke-width="1.5" d="M271.5 320.2h9.2M276.1 315.6v9.2"/>
<g fill="none" stroke="#0a0af5" stroke-width="1.6"><circle cx="281.9" cy="104.0" r="4"/></g>
<path fill="none" stroke="#f50a0a" stroke-width="1.5" d="M194.0 281.2h9.2M198.6 276.6v9.2M221.9 211.7h9.2M226.5 207.1v9.2"/>
<g fill="none" stroke="#0a0af5" stroke-width="1.6"><circle cx="213.0" cy="185.9" r="4"/><circle cx="243.1" cy="153.4" r="4"/><circle cx="193.9" cy="160.6" r="4"/></g>
<path fill="none" stroke="#f50a0a" stroke-width="1.5" d="M245.9 237.5h9.2M250.5 232.9v9.2M253.7 190.7h9.2M258.3 186.1v9.2"/>
<g fill="none" stroke="#0a0af5" stroke-width="1.6"><circle cx="163.4" cy="198.3" r="4"/></g>
<path fill="none" stroke="#f50a0a" stroke-width="1.5" d="M264.5 321.5h9.2M269.1 316.9v9.2"/>
<g fill="none" stroke="#0a0af5" stroke-width="1.6"><circle cx="211.8" cy="113.8" r="4"/></g>
<path fill="none" stroke="#f50a0a" stroke-width="1.5" d="M250.2 283.1h9.2M254.8 278.5v9.2M262.3 336.7h9.2M266.9 332.1v9.2"/>
<g fill="none" stroke="#0a0af5" stroke-width="1.6"><circle cx="303.1" cy="246.0" r="4"/><circle cx="213.3" cy="171.0" r="4"/></g>
<path fill="none" stroke="#f50a0a" stroke-width="1.5" d="M190.9 280.3h9.2M195.5 275.7v9.2M220.4 260.2h9.2M225.0 255.6v9.2"/>
<g fill="none" stroke="#0a0af5" stroke-width="1.6"><circle cx="211.0" cy="166.3" r="4"/></g>
<path fill="none" stroke="#f50a0a" stroke-width="1.5" d="M171.8 263.0h9.2M176.4 258.4v9.2M188.1 216.3h9.2M192.7 211.7v9.2M255.4 260.0h9.2M260.0 255.4v9.2"/>
<g fill="none" stroke="#0a0af5" stroke-width="1.6"><circle cx="238.5" cy="127.5" r="4"/><circle cx="323.9" cy="227.4" r="4"/></g>
<path fill="none" stroke="#f50a0a" stroke-width="1.5" d="M200.3 190.2h9.2M204.9 185.6v9.2M228.0 311.9h9.2M232.6 307.3v9.2M193.9 216.5h9.2M198.5 211.9v9.2"/>
<g fill="none" stroke="#0a0af5" stroke-width="1.6"><circle cx="237.3" cy="114.7" r="4"/><circle cx="273.9" cy="162.1" r="4"/></g>
<path fill="none" stroke="#f50a0a" stroke-width="1.5" d="M220.7 298.1h9.2M225.3 293.5v9.2M295.9 312.5h9.2M300.5 307.9v9.2M179.5 309.0h9.2M184.1 304.4v9.2"/>
<g fill="none" stroke="#0a0af5" stroke-width="1.6"><circle cx="256.5" cy="193.5" r="4"/></g>
<path fill="none" stroke="#f50a0a" stroke-width="1.5" d="M271.6 258.5h9.2M276.2 253.9v9.2M186.3 219.5h9.2M190.9 214.9v9.2M219.0 260.8h9.2M223.6 256.2v9.2M164.6 151.8h9.2M169.2 147.2v9.2M269.0 268.6h9.2M273.6 264.0v9.2"/>
<g fill="none" stroke="#0a0af5" stroke-width="1.6"><circle cx="187.0" cy="250.0" r="4"/><circle cx="237.3" cy="193.3" r="4"/><circle cx="314.5" cy="265.0" r="4"/></g>
<path fill="none" stroke="#0a0af5" stroke-width="1.5" d="M393.9 136.6l8.2 8.2M393.9 144.8l8.2 -8.2"/>
<g fill="none" stroke="#0a0af5" stroke-width="1.6"><circle cx="251.4" cy="185.1" r="4"/></g>
<path fill="none" stroke="#f50a0a" stroke-width="1.5" d="M184.0 235.4h9.2M188.6 230.8v9.2"/>
<g fill="none" stroke="#0a0af5" stroke-width="1.6"><circle cx="229.7" cy="164.7" r="4"/></g>
<path fill="none" stroke="#f50a0a" stroke-width="1.5" d="M273.1 249.9h9.2M277.7 245.3v9.2"/>
<g fill="none" stroke="#0a0af5" stroke-width="1.6"><circle cx="208.4" cy="148.6" r="4"/><circle cx="202.2" cy="230.6" r="4"/></g>
<path fill="none" stroke="#f50a0a" stroke-width="1.5" d="M173.8 265.7h9.2M178.4 261.1v9.2M257.0 263.0h9.2M261.6 258.4v9.2"/>
<g fill="none" stroke="#0a0af5" stroke-width="1.6"><circle cx="200.7" cy="121.9" r="4"/><circle cx="243.5" cy="134.2" r="4"/><circle cx="216.3" cy="98.4" r="4"/><circle cx="234.6" cy="179.7" r="4"/><circle cx="221.5" cy="184.9" r="4"/><circle cx="265.0" cy="255.2" r="4"/><circle cx="285.5" cy="161.9" r="4"/><circle cx="252.0" cy="211.9" r="4"/><circle cx="220.3" cy="183.5" r="4"/></g>
<path fill="none" stroke="#f50a0a" stroke-width="1.5" d="M139.7 142.2h9.2M144.3 137.6v9.2M260.2 298.8h9.2M264.8 294.2v9.2M290.7 323.8h9.2M295.3 319.2v9.2M280.9 290.1h9.2M285.5 285.5v9.2M205.1 277.3h9.2M209.7 272.7v9.2"/>
<g fill="none" stroke="#0a0af5" stroke-width="1.6"><circle cx="330.3" cy="178.5" r="4"/></g>
<path fill="none" stroke="#f50a0a" stroke-width="1.5" d="M240.7 213.6h9.2M245.3 209.0v9.2M181.3 169.4h9.2M185.9 164.8v9.2"/>
<g fill="none" stroke="#0a0af5" stroke-width="1.6"><circle cx="246.8" cy="170.1" r="4"/><circle cx="259.0" cy="45.9" r="4"/><circle cx="183.9" cy="136.0" r="4"/><circle cx="233.6" cy="196.5" r="4"/></g>
<path fill="none" stroke="#f50a0a" stroke-width="1.5" d="M182.5 272.8h9.2M187.1 268.2v9.2"/>
<g fill="none" stroke="#0a0af5" stroke-width="1.6"><circle cx="265.8" cy="188.9" r="4"/><circle cx="289.6" cy="215.2" r="4"/><circle cx="258.0" cy="186.7" r="4"/></g>
<path fill="none" stroke="#f50a0a" stroke-width="1.5" d="M195.6 244.8h9.2M200.2 240.2v9.2"/>
<g fill="none" stroke="#0a0af5" stroke-width="1.6"><circle cx="195.6" cy="93.0" r="4"/></g>
<path fill="none" stroke="#f50a0a" stroke-width="1.5" d="M181.9 261.4h9.2M186.5 256.8v9.2M185.8 271.7h9.2M190.4 267.1v9.2"/>
<g fill="none" stroke="#0a0af5" stroke-width="1.6"><circle cx="239.4" cy="91.0" r="4"/><circle cx="334.9" cy="172.1" r="4"/><circle cx="228.0" cy="231.5" r="4"/><circle cx="280.8" cy="239.0" r="4"/></g>
<path fill="none" stroke="#f50a0a" stroke-width="1.5" d="M209.9 299.8h9.2M214.5 295.2v9.2"/>
<g fill="none" stroke="#0a0af5" stroke-width="1.6"><circle cx="255.7" cy="186.2" r="4"/><circle cx="263.8" cy="138.1" r="4"/><circle cx="192.9" cy="240.6" r="4"/><circle cx="269.7" cy="101.5" r="4"/><circle cx="191.8" cy="145.6" r="4"/></g>
<path fill="none" stroke="#f50a0a" stroke-width="1.5" d="M236.2 194.4h9.2M240.8 189.8v9.2M245.3 260.8h9.2M249.9 256.2v9.2M287.6 272.5h9.2M292.2 267.9v9.2"/>
<g fill="none" stroke="#0a0af5" stroke-width="1.6"><circle cx="215.4" cy="133.3" r="4"/><circle cx="241.2" cy="139.6" r="4"/></g>
<path fill="none" stroke="#f50a0a" stroke-width="1.5" d="M259.4 319.8h9.2M264.0 315.2v9.2"/>
<g fill="none" stroke="#0a0af5" stroke-width="1.6"><circle cx="317.0" cy="133.6" r="4"/><circle cx="233.7" cy="188.7" r="4"/></g>
<path fill="none" stroke="#f50a0a" stroke-width="1.5" d="M199.6 296.8h9.2M204.2 292.2v9.2"/>
<g fill="none" stroke="#0a0af5" stroke-width="1.6"><circle cx="229.3" cy="167.9" r="4"/></g>
<path fill="none" stroke="#f50a0a" stroke-width="1.5" d="M183.4 344.8h9.2M188.0 340.2v9.2"/>
<g fill="none" stroke="#0a0af5" stroke-width="1.6"><circle cx="242.5" cy="132.2" r="4"/><circle cx="250.0" cy="143.5" r="4"/><circle cx="212.1" cy="142.5" r="4"/></g>
<path fill="none" stroke="#f50a0a" stroke-width="1.5" d="M211.0 196.9h9.2M215.6 192.3v9.2M159.2 324.2h9.2M163.8 319.6v9.2M232.8 282.5h9.2M237.4 277.9v9.2"/>
<g fill="none" stroke="#0a0af5" stroke-width="1.6"><circle cx="181.8" cy="131.8" r="4"/></g>
<path fill="none" stroke="#f50a0a" stroke-width="1.5" d="M223.9 338.3h9.2M228.5 333.7v9.2"/>
<g fill="none" stroke="#0a0af5" stroke-width="1.6"><circle cx="266.2" cy="147.8" r="4"/><circle cx="205.2" cy="190.0" r="4"/></g>
<path fill="none" stroke="#f50a0a" stroke-width="1.5" d="M272.3 181.7h9.2M276.9 177.1v9.2"/>
<g fill="none" stroke="#0a0af5" stroke-width="1.6"><circle cx="197.4" cy="202.1" r="4"/></g>
<path fill="none" stroke="#f50a0a" stroke-width="1.5" d="M164.8 293.0h9.2M169.4 288.4v9.2"/>
<g fill="none" stroke="#0a0af5" stroke-width="1.6"><circle cx="185.3" cy="138.8" r="4"/><circle cx="333.8" cy="235.0" r="4"/></g>
<path fill="none" stroke="#f50a0a" stroke-width="1.5" d="M244.2 272.7h9.2M248.8 268.1v9.2M202.9 216.4h9.2M207.5 211.8v9.2"/>
<g fill="none" stroke="#0a0af5" stroke-width="1.6"><circle cx="229.5" cy="221.7" r="4"/><circle cx="179.9" cy="182.5" r="4"/><circle cx="230.0" cy="129.1" r="4"/><circle cx="237.6" cy="159.8" r="4"/></g>
<path fill="none" stroke="#f50a0a" stroke-width="1.5" d="M258.6 247.3h9.2M263.2 242.7v9.2M257.9 253.3h9.2M262.5 248.7v9.2"/>
<g fill="none" stroke="#0a0af5" stroke-width="1.6"><circle cx="197.3" cy="84.1" r="4"/></g>
<path fill="none" stroke="#f50a0a" stroke-width="1.5" d="M241.9 280.2h9.2M246.5 275.6v9.2M173.5 257.5h9.2M178.1 252.9v9.2"/>
<g fill="none" stroke="#0a0af5" stroke-width="1.6"><circle cx="132.4" cy="168.2" r="4"/><circle cx="236.0" cy="144.2" r="4"/><circle cx="277.3" cy="252.8" r="4"/></g>
<path fill="none" stroke="#f50a0a" stroke-width="1.5" d="M134.2 197.1h9.2M138.8 192.5v9.2"/>
<g fill="none" stroke="#0a0af5" stroke-width="1.6"><circle cx="360.0" cy="210.5" r="4"/><circle cx="272.6" cy="185.2" r="4"/><circle cx="187.7" cy="124.1" r="4"/><circle cx="147.0" cy="183.7" r="4"/><circle cx="216.1" cy="121.6" r="4"/><circle cx="306.8" cy="188.3" r="4"/><circle cx="174.3" cy="126.5" r="4"/></g>
<path fill="none" stroke="#f50a0a" stroke-width="1.5" d="M190.9 187.5h9.2M195.5 182.9v9.2"/>
<path fill="none" stroke="#f50a0a" stroke-width="1.5" stroke-linejoin="round" d="M404.2 242.2L408.5 249.9H399.9Z"/>
<path fill="none" stroke="#f50a0a" stroke-width="1.5" d="M217.3 236.1h9.2M221.9 231.5v9.2M223.3 292.7h9.2M227.9 288.1v9.2"/>
<g fill="none" stroke="#0a0af5" stroke-width="1.6"><circle cx="229.7" cy="174.7" r="4"/><circle cx="178.0" cy="142.0" r="4"/></g>
<path fill="none" stroke="#f50a0a" stroke-width="1.5" d="M278.6 244.7h9.2M283.2 240.1v9.2"/>
<g fill="none" stroke="#0a0af5" stroke-width="1.6"><circle cx="245.1" cy="90.4" r="4"/><circle cx="267.4" cy="124.2" r="4"/></g>
<path fill="none" stroke="#f50a0a" stroke-width="1.5" d="M198.4 170.3h9.2M203.0 165.7v9.2M214.3 280.8h9.2M218.9 276.2v9.2M219.8 278.7h9.2M224.4 274.1v9.2"/>
<g fill="none" stroke="#0a0af5" stroke-width="1.6"><circle cx="246.0" cy="83.4" r="4"/><circle cx="194.2" cy="86.9" r="4"/></g>
<path fill="none" stroke="#f50a0a" stroke-width="1.5" d="M221.1 290.1h9.2M225.7 285.5v9.2"/>
<g fill="none" stroke="#0a0af5" stroke-width="1.6"><circle cx="231.0" cy="84.4" r="4"/></g>
<path fill="none" stroke="#f50a0a" stroke-width="1.5" d="M191.6 253.1h9.2M196.2 248.5v9.2"/>
<g fill="none" stroke="#0a0af5" stroke-width="1.6"><circle cx="252.1" cy="103.5" r="4"/><circle cx="226.1" cy="158.9" r="4"/><circle cx="204.0" cy="173.8" r="4"/></g>
<path fill="none" stroke="#f50a0a" stroke-width="1.5" d="M192.6 181.6h9.2M197.2 177.0v9.2M246.0 208.3h9.2M250.6 203.7v9.2"/>
<path fill="none" stroke="#f50a0a" stroke-width="1.5" stroke-linejoin="round" d="M556.0 234.9L560.3 242.6H551.7Z"/>
<g fill="none" stroke="#0a0af5" stroke-width="1.6"><circle cx="245.8" cy="191.2" r="4"/><circle cx="242.8" cy="155.2" r="4"/></g>
<path fill="none" stroke="#f50a0a" stroke-width="1.5" d="M189.7 192.2h9.2M194.3 187.6v9.2M191.2 251.9h9.2M195.8 247.3v9.2"/>
<g fill="none" stroke="#0a0af5" stroke-width="1.6"><circle cx="268.2" cy="243.9" r="4"/><circle cx="217.7" cy="207.7" r="4"/><circle cx="240.7" cy="136.5" r="4"/><circle cx="381.2" cy="188.2" r="4"/><circle cx="236.5" cy="132.0" r="4"/></g>
<path fill="none" stroke="#f50a0a" stroke-width="1.5" d="M226.8 228.4h9.2M231.4 223.8v9.2"/>
<g fill="none" stroke="#0a0af5" stroke-width="1.6"><circle cx="224.6" cy="177.4" r="4"/><circle cx="279.2" cy="146.1" r="4"/><circle cx="254.0" cy="103.0" r="4"/></g>
<path fill="none" stroke="#f50a0a" stroke-width="1.5" d="M165.9 322.7h9.2M170.5 318.1v9.2"/>
<g fill="none" stroke="#0a0af5" stroke-width="1.6"><circle cx="271.2" cy="248.9" r="4"/></g>
<path fill="none" stroke="#f50a0a" stroke-width="1.5" d="M275.7 306.7h9.2M280.3 302.1v9.2M223.6 321.4h9.2M228.2 316.8v9.2"/>
<g fill="none" stroke="#0a0af5" stroke-width="1.6"><circle cx="280.7" cy="131.0" r="4"/></g>
<path fill="none" stroke="#f50a0a" stroke-width="1.5" d="M227.0 244.9h9.2M231.6 240.3v9.2M267.0 324.5h9.2M271.6 319.9v9.2"/>
<g fill="none" stroke="#0a0af5" stroke-width="1.6"><circle cx="124.6" cy="182.5" r="4"/><circle cx="246.3" cy="163.2" r="4"/><circle cx="308.4" cy="183.1" r="4"/></g>
<path fill="none" stroke="#f50a0a" stroke-width="1.5" d="M253.6 249.7h9.2M258.2 245.1v9.2"/>
<g fill="none" stroke="#0a0af5" stroke-width="1.6"><circle cx="171.6" cy="122.9" r="4"/><circle cx="225.0" cy="173.4" r="4"/></g>
<path fill="none" stroke="#f50a0a" stroke-width="1.5" d="M265.8 373.9h9.2M270.4 369.3v9.2M178.3 245.4h9.2M182.9 240.8v9.2M153.5 220.6h9.2M158.1 216.0v9.2"/>
<g fill="none" stroke="#0a0af5" stroke-width="1.6"><circle cx="202.6" cy="82.3" r="4"/></g>
<path fill="none" stroke="#f50a0a" stroke-width="1.5" d="M233.8 249.5h9.2M238.4 244.9v9.2M167.5 183.1h9.2M172.1 178.5v9.2M299.6 302.2h9.2M304.2 297.6v9.2M293.2 271.5h9.2M297.8 266.9v9.2"/>
<g fill="none" stroke="#0a0af5" stroke-width="1.6"><circle cx="280.3" cy="199.1" r="4"/></g>
<path fill="none" stroke="#f50a0a" stroke-width="1.5" d="M178.4 184.7h9.2M183.0 180.1v9.2M264.2 235.1h9.2M268.8 230.5v9.2"/>
<g fill="none" stroke="#0a0af5" stroke-width="1.6"><circle cx="250.2" cy="148.2" r="4"/></g>
<path fill="none" stroke="#f50a0a" stroke-width="1.5" d="M205.7 235.8h9.2M210.3 231.2v9.2"/>
<g fill="none" stroke="#0a0af5" stroke-width="1.6"><circle cx="288.0" cy="79.3" r="4"/></g>
<path fill="none" stroke="#f50a0a" stroke-width="1.5" d="M213.8 273.0h9.2M218.4 268.4v9.2"/>
<g fill="none" stroke="#0a0af5" stroke-width="1.6"><circle cx="140.2" cy="193.8" r="4"/></g>
<path fill="none" stroke="#f50a0a" stroke-width="1.5" d="M267.8 244.5h9.2M272.4 239.9v9.2M133.8 234.8h9.2M138.4 230.2v9.2M201.3 166.7h9.2M205.9 162.1v9.2"/>
<g fill="none" stroke="#0a0af5" stroke-width="1.6"><circle cx="340.6" cy="83.3" r="4"/><circle cx="222.8" cy="237.6" r="4"/><circle cx="246.7" cy="119.6" r="4"/><circle cx="332.1" cy="187.6" r="4"/><circle cx="237.4" cy="207.8" r="4"/></g>
<path fill="none" stroke="#f50a0a" stroke-width="1.5" d="M156.1 221.1h9.2M160.7 216.5v9.2M235.7 263.0h9.2M240.3 258.4v9.2M179.5 308.3h9.2M184.1 303.7v9.2M226.4 282.4h9.2M231.0 277.8v9.2"/>
<g fill="none" stroke="#0a0af5" stroke-width="1.6"><circle cx="229.4" cy="209.1" r="4"/><circle cx="215.3" cy="150.1" r="4"/><circle cx="178.2" cy="194.0" r="4"/><circle cx="249.9" cy="141.3" r="4"/><circle cx="232.1" cy="168.5" r="4"/><circle cx="165.6" cy="91.6" r="4"/><circle cx="213.6" cy="187.6" r="4"/></g>
<path fill="none" stroke="#f50a0a" stroke-width="1.5" d="M197.0 285.7h9.2M201.6 281.1v9.2"/>
<g fill="none" stroke="#0a0af5" stroke-width="1.6"><circle cx="285.7" cy="140.1" r="4"/><circle cx="255.2" cy="174.4" r="4"/><circle cx="243.1" cy="207.6" r="4"/><circle cx="221.2" cy="189.7" r="4"/><circle cx="234.3" cy="147.4" r="4"/><circle cx="299.2" cy="201.4" r="4"/></g>
<path fill="none" stroke="#f50a0a" stroke-width="1.5" d="M222.2 242.6h9.2M226.8 238.0v9.2"/>
<g fill="none" stroke="#0a0af5" stroke-width="1.6"><circle cx="193.0" cy="225.8" r="4"/></g>
<path fill="none" stroke="#f50a0a" stroke-width="1.5" d="M168.7 264.4h9.2M173.3 259.8v9.2M140.7 257.9h9.2M145.3 253.3v9.2"/>
<g fill="none" stroke="#0a0af5" stroke-width="1.6"><circle cx="226.0" cy="215.4" r="4"/></g>
<path fill="none" stroke="#f50a0a" stroke-width="1.5" d="M219.1 199.5h9.2M223.7 194.9v9.2M276.1 268.6h9.2M280.7 264.0v9.2M194.9 219.5h9.2M199.5 214.9v9.2M234.8 238.9h9.2M239.4 234.3v9.2"/>
<g fill="none" stroke="#0a0af5" stroke-width="1.6"><circle cx="239.5" cy="155.3" r="4"/><circle cx="208.6" cy="159.4" r="4"/></g>
<path fill="none" stroke="#f50a0a" stroke-width="1.5" d="M209.8 262.1h9.2M214.4 257.5v9.2M175.1 201.1h9.2M179.7 196.5v9.2M218.0 216.6h9.2M222.6 212.0v9.2M276.9 276.2h9.2M281.5 271.6v9.2"/>
<g fill="none" stroke="#0a0af5" stroke-width="1.6"><circle cx="233.9" cy="130.3" r="4"/><circle cx="132.3" cy="147.0" r="4"/></g>
<path fill="none" stroke="#f50a0a" stroke-width="1.5" d="M234.1 297.4h9.2M238.7 292.8v9.2M251.1 244.5h9.2M255.7 239.9v9.2"/>
<g fill="none" stroke="#0a0af5" stroke-width="1.6"><circle cx="243.8" cy="199.0" r="4"/></g>
<path fill="none" stroke="#f50a0a" stroke-width="1.5" d="M230.4 281.0h9.2M235.0 276.4v9.2M299.0 321.9h9.2M303.6 317.3v9.2"/>
<g fill="none" stroke="#0a0af5" stroke-width="1.6"><circle cx="250.8" cy="148.5" r="4"/></g>
<path fill="none" stroke="#f50a0a" stroke-width="1.5" d="M233.6 277.6h9.2M238.2 273.0v9.2"/>
<g fill="none" stroke="#0a0af5" stroke-width="1.6"><circle cx="336.2" cy="122.7" r="4"/><circle cx="265.8" cy="182.4" r="4"/></g>
<path fill="none" stroke="#f50a0a" stroke-width="1.5" d="M191.6 186.7h9.2M196.2 182.1v9.2M247.2 152.9h9.2M251.8 148.3v9.2M269.7 321.9h9.2M274.3 317.3v9.2"/>
<g fill="none" stroke="#0a0af5" stroke-width="1.6"><circle cx="287.0" cy="172.6" r="4"/></g>
<path fill="none" stroke="#f50a0a" stroke-width="1.5" d="M199.3 243.9h9.2M203.9 239.3v9.2M236.2 233.3h9.2M240.8 228.7v9.2"/>
<g fill="none" stroke="#0a0af5" stroke-width="1.6"><circle cx="214.7" cy="159.9" r="4"/><circle cx="234.4" cy="175.2" r="4"/><circle cx="155.2" cy="161.9" r="4"/><circle cx="190.9" cy="177.4" r="4"/><circle cx="214.3" cy="165.9" r="4"/><circle cx="241.6" cy="140.0" r="4"/><circle cx="303.1" cy="255.8" r="4"/><circle cx="251.8" cy="139.4" r="4"/></g>
<path fill="none" stroke="#f50a0a" stroke-width="1.5" d="M195.8 308.6h9.2M200.4 304.0v9.2M244.4 201.3h9.2M249.0 196.7v9.2"/>
<g fill="none" stroke="#0a0af5" stroke-width="1.6"><circle cx="340.2" cy="111.3" r="4"/><circle cx="193.8" cy="67.4" r="4"/><circle cx="282.9" cy="186.9" r="4"/><circle cx="204.0" cy="220.2" r="4"/></g>
<path fill="none" stroke="#f50a0a" stroke-width="1.5" d="M139.1 282.2h9.2M143.7 277.6v9.2M260.7 229.0h9.2M265.3 224.4v9.2M203.0 277.4h9.2M207.6 272.8v9.2M281.3 277.4h9.2M285.9 272.8v9.2M278.6 239.9h9.2M283.2 235.3v9.2M273.0 286.4h9.2M277.6 281.8v9.2"/>
<g fill="none" stroke="#0a0af5" stroke-width="1.6"><circle cx="280.1" cy="215.8" r="4"/></g>
<path fill="none" stroke="#f50a0a" stroke-width="1.5" d="M119.2 177.4h9.2M123.8 172.8v9.2M209.4 278.2h9.2M214.0 273.6v9.2"/>
<g fill="none" stroke="#0a0af5" stroke-width="1.6"><circle cx="284.2" cy="159.8" r="4"/></g>
<path fill="none" stroke="#f50a0a" stroke-width="1.5" d="M228.7 204.1h9.2M233.3 199.5v9.2"/>
<g fill="none" stroke="#0a0af5" stroke-width="1.6"><circle cx="235.5" cy="115.1" r="4"/></g>
<path fill="none" stroke="#f50a0a" stroke-width="1.5" d="M259.8 309.7h9.2M264.4 305.1v9.2"/>
<g fill="none" stroke="#0a0af5" stroke-width="1.6"><circle cx="191.9" cy="108.8" r="4"/><circle cx="266.9" cy="199.0" r="4"/></g>
<path fill="none" stroke="#f50a0a" stroke-width="1.5" d="M238.9 240.9h9.2M243.5 236.3v9.2"/>
<g fill="none" stroke="#0a0af5" stroke-width="1.6"><circle cx="215.8" cy="185.3" r="4"/><circle cx="282.2" cy="101.4" r="4"/><circle cx="307.8" cy="220.5" r="4"/><circle cx="244.0" cy="101.8" r="4"/></g>
<path fill="none" stroke="#f50a0a" stroke-width="1.5" d="M221.1 235.5h9.2M225.7 230.9v9.2M225.8 180.3h9.2M230.4 175.7v9.2M253.7 248.4h9.2M258.3 243.8v9.2M264.5 281.9h9.2M269.1 277.3v9.2"/>
<g fill="none" stroke="#0a0af5" stroke-width="1.6"><circle cx="317.5" cy="185.8" r="4"/></g>
<path fill="none" stroke="#f50a0a" stroke-width="1.5" d="M206.6 176.5h9.2M211.2 171.9v9.2M192.1 218.7h9.2M196.7 214.1v9.2"/>
<g fill="none" stroke="#0a0af5" stroke-width="1.6"><circle cx="265.6" cy="107.5" r="4"/></g>
<path fill="none" stroke="#f50a0a" stroke-width="1.5" d="M260.3 203.4h9.2M264.9 198.8v9.2"/>
<g fill="none" stroke="#0a0af5" stroke-width="1.6"><circle cx="201.4" cy="122.8" r="4"/></g>
<path fill="none" stroke="#f50a0a" stroke-width="1.5" d="M237.3 295.4h9.2M241.9 290.8v9.2"/>
<g fill="none" stroke="#0a0af5" stroke-width="1.6"><circle cx="239.3" cy="207.2" r="4"/></g>
<path fill="none" stroke="#f50a0a" stroke-width="1.5" d="M162.2 254.3h9.2M166.8 249.7v9.2"/>
<g fill="none" stroke="#0a0af5" stroke-width="1.6"><circle cx="205.0" cy="121.8" r="4"/></g>
<path fill="none" stroke="#f50a0a" stroke-width="1.5" d="M245.2 194.4h9.2M249.8 189.8v9.2M239.5 323.7h9.2M244.1 319.1v9.2M222.6 287.1h9.2M227.2 282.5v9.2M231.1 268.3h9.2M235.7 263.7v9.2M197.4 306.8h9.2M202.0 302.2v9.2M167.1 199.5h9.2M171.7 194.9v9.2"/>
<g fill="none" stroke="#0a0af5" stroke-width="1.6"><circle cx="271.5" cy="134.0" r="4"/></g>
<path fill="none" stroke="#f50a0a" stroke-width="1.5" d="M278.0 234.6h9.2M282.6 230.0v9.2"/>
<path fill="none" stroke="#0a0af5" stroke-width="1.5" d="M506.9 226.1l8.2 8.2M506.9 234.3l8.2 -8.2"/>
<path fill="none" stroke="#f50a0a" stroke-width="1.5" d="M295.2 215.3h9.2M299.8 210.7v9.2M239.3 239.2h9.2M243.9 234.6v9.2"/>
<g fill="none" stroke="#0a0af5" stroke-width="1.6"><circle cx="260.6" cy="191.7" r="4"/></g>
<path fill="none" stroke="#f50a0a" stroke-width="1.5" d="M221.3 187.3h9.2M225.9 182.7v9.2"/>
<g fill="none" stroke="#0a0af5" stroke-width="1.6"><circle cx="240.3" cy="248.3" r="4"/><circle cx="118.9" cy="109.6" r="4"/><circle cx="166.6" cy="142.7" r="4"/><circle cx="188.7" cy="119.2" r="4"/><circle cx="277.1" cy="186.8" r="4"/></g>
<path fill="none" stroke="#f50a0a" stroke-width="1.5" d="M222.1 275.0h9.2M226.7 270.4v9.2M235.2 232.6h9.2M239.8 228.0v9.2M204.4 273.7h9.2M209.0 269.1v9.2M240.3 232.3h9.2M244.9 227.7v9.2M179.6 326.6h9.2M184.2 322.0v9.2M181.9 222.1h9.2M186.5 217.5v9.2M197.0 257.6h9.2M201.6 253.0v9.2M262.8 295.5h9.2M267.4 290.9v9.2M197.6 226.6h9.2M202.2 222.0v9.2M226.7 277.4h9.2M231.3 272.8v9.2M274.4 245.4h9.2M279.0 240.8v9.2M230.5 196.9h9.2M235.1 192.3v9.2M223.2 264.1h9.2M227.8 259.5v9.2M181.8 325.5h9.2M186.4 320.9v9.2M239.5 278.7h9.2M244.1 274.1v9.2M188.8 169.1h9.2M193.4 164.5v9.2M262.1 274.5h9.2M266.7 269.9v9.2M239.7 311.1h9.2M244.3 306.5v9.2M113.6 268.6h9.2M118.2 264.0v9.2M229.7 190.9h9.2M234.3 186.3v9.2M230.4 273.1h9.2M235.0 268.5v9.2M254.1 284.6h9.2M258.7 280.0v9.2M220.2 265.8h9.2M224.8 261.2v9.2M171.6 238.7h9.2M176.2 234.1v9.2M213.8 189.4h9.2M218.4 184.8v9.2M259.5 235.6h9.2M264.1 231.0v9.2M279.8 308.6h9.2M284.4 304.0v9.2M176.9 296.7h9.2M181.5 292.1v9.2M210.8 200.0h9.2M215.4 195.4v9.2M250.2 195.8h9.2M254.8 191.2v9.2M192.6 278.2h9.2M197.2 273.6v9.2M183.4 247.4h9.2M188.0 242.8v9.2M170.6 296.2h9.2M175.2 291.6v9.2M277.0 310.0h9.2M281.6 305.4v9.2M253.6 193.7h9.2M258.2 189.1v9.2M261.5 286.4h9.2M266.1 281.8v9.2M246.1 297.1h9.2M250.7 292.5v9.2M221.7 240.1h9.2M226.3 235.5v9.2M157.7 227.9h9.2M162.3 223.3v9.2M183.3 218.6h9.2M187.9 214.0v9.2M281.9 270.0h9.2M286.5 265.4v9.2M198.3 229.2h9.2M202.9 224.6v9.2M206.1 256.1h9.2M210.7 251.5v9.2M254.1 244.8h9.2M258.7 240.2v9.2M213.6 370.4h9.2M218.2 365.8v9.2"/>
<path fill="none" stroke="#0a0af5" stroke-width="1.5" d="M436.8 265.3l8.2 8.2M436.8 273.5l8.2 -8.2"/>
<path fill="none" stroke="#f50a0a" stroke-width="1.5" d="M193.7 256.3h9.2M198.3 251.7v9.2M159.1 185.6h9.2M163.7 181.0v9.2M279.3 267.7h9.2M283.9 263.1v9.2M232.3 178.1h9.2M236.9 173.5v9.2M136.1 260.4h9.2M140.7 255.8v9.2"/>
<path fill="none" stroke="#0a0af5" stroke-width="1.5" d="M372.8 262.0l8.2 8.2M372.8 270.2l8.2 -8.2"/>
<path fill="none" stroke="#f50a0a" stroke-width="1.5" d="M232.9 301.0h9.2M237.5 296.4v9.2M203.7 289.0h9.2M208.3 284.4v9.2M236.9 243.8h9.2M241.5 239.2v9.2M211.2 239.2h9.2M215.8 234.6v9.2M156.5 257.9h9.2M161.1 253.3v9.2M323.0 325.8h9.2M327.6 321.2v9.2M201.1 289.7h9.2M205.7 285.1v9.2M250.3 229.8h9.2M254.9 225.2v9.2M228.3 291.1h9.2M232.9 286.5v9.2M314.9 352.5h9.2M319.5 347.9v9.2M244.8 256.7h9.2M249.4 252.1v9.2M276.9 323.6h9.2M281.5 319.0v9.2M241.8 291.0h9.2M246.4 286.4v9.2M183.4 245.1h9.2M188.0 240.5v9.2M211.5 254.1h9.2M216.1 249.5v9.2M185.4 246.7h9.2M190.0 242.1v9.2M215.1 263.4h9.2M219.7 258.8v9.2M232.0 291.6h9.2M236.6 287.0v9.2M250.2 316.6h9.2M254.8 312.0v9.2M224.5 309.5h9.2M229.1 304.9v9.2M222.0 237.7h9.2M226.6 233.1v9.2M161.6 208.4h9.2M166.2 203.8v9.2M185.1 344.1h9.2M189.7 339.5v9.2M240.1 240.6h9.2M244.7 236.0v9.2M230.5 236.8h9.2M235.1 232.2v9.2M374.7 312.1h9.2M379.3 307.5v9.2M186.8 238.2h9.2M191.4 233.6v9.2M252.4 207.7h9.2M257.0 203.1v9.2M152.4 166.4h9.2M157.0 161.8v9.2M217.9 241.6h9.2M222.5 237.0v9.2M234.2 269.9h9.2M238.8 265.3v9.2M250.7 259.0h9.2M255.3 254.4v9.2M224.5 324.9h9.2M229.1 320.3v9.2"/>
<path fill="none" stroke="#f50a0a" stroke-width="1.5" stroke-linejoin="round" d="M348.9 161.4L353.2 169.1H344.6Z"/>
<path fill="none" stroke="#f50a0a" stroke-width="1.5" d="M206.9 190.7h9.2M211.5 186.1v9.2M290.7 229.0h9.2M295.3 224.4v9.2M208.4 257.3h9.2M213.0 252.7v9.2M319.3 251.4h9.2M323.9 246.8v9.2M260.0 152.9h9.2M264.6 148.3v9.2M223.4 314.2h9.2M228.0 309.6v9.2M131.5 215.7h9.2M136.1 211.1v9.2M337.9 276.6h9.2M342.5 272.0v9.2M316.0 277.7h9.2M320.6 273.1v9.2M183.0 282.6h9.2M187.6 278.0v9.2M245.3 236.8h9.2M249.9 232.2v9.2M276.3 262.8h9.2M280.9 258.2v9.2"/>
<path fill="none" stroke="#f50a0a" stroke-width="1.5" stroke-linejoin="round" d="M360.9 162.0L365.2 169.7H356.6Z"/>
<path fill="none" stroke="#f50a0a" stroke-width="1.5" d="M262.4 285.5h9.2M267.0 280.9v9.2M319.3 196.8h9.2M323.9 192.2v9.2M127.1 271.9h9.2M131.7 267.3v9.2"/>
<path fill="none" stroke="#0a0af5" stroke-width="1.5" d="M511.5 217.0l8.2 8.2M511.5 225.2l8.2 -8.2"/>
<path fill="none" stroke="#f50a0a" stroke-width="1.5" d="M179.6 326.0h9.2M184.2 321.4v9.2M185.3 234.1h9.2M189.9 229.5v9.2M172.2 245.0h9.2M176.8 240.4v9.2M169.3 330.7h9.2M173.9 326.1v9.2M169.1 260.8h9.2M173.7 256.2v9.2M302.2 290.9h9.2M306.8 286.3v9.2M274.2 314.3h9.2M278.8 309.7v9.2"/>
<path fill="none" stroke="#0a0af5" stroke-width="1.5" d="M311.7 202.5l8.2 8.2M311.7 210.7l8.2 -8.2"/>
<path fill="none" stroke="#f50a0a" stroke-width="1.5" d="M168.8 171.5h9.2M173.4 166.9v9.2M243.4 254.7h9.2M248.0 250.1v9.2M205.9 279.6h9.2M210.5 275.0v9.2M154.5 240.8h9.2M159.1 236.2v9.2M282.8 251.5h9.2M287.4 246.9v9.2M211.9 139.4h9.2M216.5 134.8v9.2M290.7 244.3h9.2M295.3 239.7v9.2M219.1 274.4h9.2M223.7 269.8v9.2M219.6 188.9h9.2M224.2 184.3v9.2M243.7 246.7h9.2M248.3 242.1v9.2"/>
<path fill="none" stroke="#0a0af5" stroke-width="1.5" d="M371.5 77.8l8.2 8.2M371.5 86.0l8.2 -8.2"/>
<path fill="none" stroke="#f50a0a" stroke-width="1.5" stroke-linejoin="round" d="M588.6 188.1L592.9 195.8H584.3Z"/>
<path fill="none" stroke="#f50a0a" stroke-width="1.5" d="M278.5 217.5h9.2M283.1 212.9v9.2"/>
<path fill="none" stroke="#0a0af5" stroke-width="1.5" d="M465.2 186.2l8.2 8.2M465.2 194.4l8.2 -8.2"/>
<path fill="none" stroke="#f50a0a" stroke-width="1.5" d="M235.7 281.3h9.2M240.3 276.7v9.2M204.8 348.5h9.2M209.4 343.9v9.2M236.1 323.7h9.2M240.7 319.1v9.2M242.6 402.9h9.2M247.2 398.3v9.2"/>
<path fill="none" stroke="#f50a0a" stroke-width="1.5" stroke-linejoin="round" d="M314.8 191.2L319.1 198.9H310.5Z"/>
<path fill="none" stroke="#f50a0a" stroke-width="1.5" d="M246.5 310.3h9.2M251.1 305.7v9.2M227.7 216.7h9.2M232.3 212.1v9.2M219.0 186.5h9.2M223.6 181.9v9.2M277.5 273.6h9.2M282.1 269.0v9.2M256.8 233.4h9.2M261.4 228.8v9.2M228.6 229.6h9.2M233.2 225.0v9.2M211.9 274.1h9.2M216.5 269.5v9.2M197.1 224.0h9.2M201.7 219.4v9.2M224.3 202.8h9.2M228.9 198.2v9.2M223.1 191.9h9.2M227.7 187.3v9.2M233.2 256.1h9.2M237.8 251.5v9.2M192.0 243.0h9.2M196.6 238.4v9.2M168.0 292.4h9.2M172.6 287.8v9.2M221.5 223.1h9.2M226.1 218.5v9.2M247.9 257.0h9.2M252.5 252.4v9.2M202.9 149.3h9.2M207.5 144.7v9.2M171.2 306.9h9.2M175.8 302.3v9.2M206.6 207.8h9.2M211.2 203.2v9.2M197.5 249.0h9.2M202.1 244.4v9.2M110.5 268.1h9.2M115.1 263.5v9.2M210.6 284.5h9.2M215.2 279.9v9.2M165.4 244.1h9.2M170.0 239.5v9.2M194.6 210.3h9.2M199.2 205.7v9.2"/>
<path fill="none" stroke="#0a0af5" stroke-width="1.5" d="M326.9 121.1l8.2 8.2M326.9 129.3l8.2 -8.2"/>
<path fill="none" stroke="#f50a0a" stroke-width="1.5" d="M200.1 229.0h9.2M204.7 224.4v9.2M196.4 272.8h9.2M201.0 268.2v9.2M268.4 248.6h9.2M273.0 244.0v9.2M233.0 232.5h9.2M237.6 227.9v9.2M171.8 324.3h9.2M176.4 319.7v9.2"/>
<path fill="none" stroke="#0a0af5" stroke-width="1.5" d="M542.4 258.3l8.2 8.2M542.4 266.5l8.2 -8.2"/>
<path fill="none" stroke="#f50a0a" stroke-width="1.5" d="M249.6 249.0h9.2M254.2 244.4v9.2M229.3 309.3h9.2M233.9 304.7v9.2M266.7 322.8h9.2M271.3 318.2v9.2M239.3 224.8h9.2M243.9 220.2v9.2M179.0 214.9h9.2M183.6 210.3v9.2"/>
<path fill="none" stroke="#0a0af5" stroke-width="1.5" d="M518.5 224.4l8.2 8.2M518.5 232.6l8.2 -8.2"/>
<path fill="none" stroke="#f50a0a" stroke-width="1.5" d="M199.4 306.7h9.2M204.0 302.1v9.2M152.9 274.3h9.2M157.5 269.7v9.2M224.6 265.5h9.2M229.2 260.9v9.2M218.0 360.5h9.2M222.6 355.9v9.2M205.1 289.3h9.2M209.7 284.7v9.2M250.9 251.3h9.2M255.5 246.7v9.2"/>
<path fill="none" stroke="#0a0af5" stroke-width="1.5" d="M454.0 179.1l8.2 8.2M454.0 187.3l8.2 -8.2"/>
<path fill="none" stroke="#f50a0a" stroke-width="1.5" d="M243.1 266.2h9.2M247.7 261.6v9.2"/>
<path fill="none" stroke="#f50a0a" stroke-width="1.5" stroke-linejoin="round" d="M473.1 387.0L477.4 394.7H468.8Z"/>
<path fill="none" stroke="#f50a0a" stroke-width="1.5" d="M187.0 240.1h9.2M191.6 235.5v9.2M189.8 251.8h9.2M194.4 247.2v9.2M219.3 221.4h9.2M223.9 216.8v9.2"/>
<path fill="none" stroke="#0a0af5" stroke-width="1.5" d="M349.3 112.3l8.2 8.2M349.3 120.5l8.2 -8.2M404.0 181.5l8.2 8.2M404.0 189.7l8.2 -8.2"/>
<path fill="none" stroke="#f50a0a" stroke-width="1.5" d="M218.1 252.0h9.2M222.7 247.4v9.2M278.7 239.3h9.2M283.3 234.7v9.2M271.1 329.4h9.2M275.7 324.8v9.2M220.4 237.9h9.2M225.0 233.3v9.2M214.2 315.5h9.2M218.8 310.9v9.2M209.9 270.1h9.2M214.5 265.5v9.2M228.4 194.5h9.2M233.0 189.9v9.2M159.8 151.0h9.2M164.4 146.4v9.2M276.2 341.8h9.2M280.8 337.2v9.2M286.5 358.7h9.2M291.1 354.1v9.2M251.8 285.9h9.2M256.4 281.3v9.2M245.5 261.9h9.2M250.1 257.3v9.2M163.4 223.5h9.2M168.0 218.9v9.2M285.3 271.4h9.2M289.9 266.8v9.2M238.4 269.2h9.2M243.0 264.6v9.2M194.8 233.4h9.2M199.4 228.8v9.2M274.9 274.3h9.2M279.5 269.7v9.2M203.9 292.4h9.2M208.5 287.8v9.2M134.0 301.3h9.2M138.6 296.7v9.2M191.7 289.5h9.2M196.3 284.9v9.2M197.6 203.9h9.2M202.2 199.3v9.2M215.6 209.9h9.2M220.2 205.3v9.2M193.1 233.1h9.2M197.7 228.5v9.2M155.9 197.4h9.2M160.5 192.8v9.2M283.6 280.8h9.2M288.2 276.2v9.2M193.4 187.4h9.2M198.0 182.8v9.2M230.5 248.1h9.2M235.1 243.5v9.2M175.3 222.4h9.2M179.9 217.8v9.2M226.3 321.9h9.2M230.9 317.3v9.2M263.5 375.1h9.2M268.1 370.5v9.2M203.5 255.1h9.2M208.1 250.5v9.2M189.2 175.3h9.2M193.8 170.7v9.2M137.8 231.2h9.2M142.4 226.6v9.2M295.1 159.6h9.2M299.7 155.0v9.2M215.0 211.3h9.2M219.6 206.7v9.2"/>
<path fill="none" stroke="#0a0af5" stroke-width="1.5" d="M315.1 117.6l8.2 8.2M315.1 125.8l8.2 -8.2"/>
<path fill="none" stroke="#f50a0a" stroke-width="1.5" d="M251.8 291.2h9.2M256.4 286.6v9.2M232.1 302.2h9.2M236.7 297.6v9.2M263.1 186.9h9.2M267.7 182.3v9.2M154.6 299.8h9.2M159.2 295.2v9.2M223.0 220.2h9.2M227.6 215.6v9.2M157.0 230.8h9.2M161.6 226.2v9.2M282.1 305.7h9.2M286.7 301.1v9.2M186.8 276.9h9.2M191.4 272.3v9.2M167.6 329.9h9.2M172.2 325.3v9.2M312.8 314.2h9.2M317.4 309.6v9.2M205.5 196.2h9.2M210.1 191.6v9.2M256.9 298.9h9.2M261.5 294.3v9.2M287.9 244.5h9.2M292.5 239.9v9.2M197.4 251.1h9.2M202.0 246.5v9.2M346.2 226.3h9.2M350.8 221.7v9.2M126.0 241.2h9.2M130.6 236.6v9.2M213.1 234.4h9.2M217.7 229.8v9.2M246.2 236.8h9.2M250.8 232.2v9.2M285.0 318.5h9.2M289.6 313.9v9.2M193.8 213.5h9.2M198.4 208.9v9.2M272.7 242.8h9.2M277.3 238.2v9.2M260.1 208.2h9.2M264.7 203.6v9.2M194.1 272.3h9.2M198.7 267.7v9.2M212.7 203.4h9.2M217.3 198.8v9.2M211.9 314.9h9.2M216.5 310.3v9.2M259.7 299.4h9.2M264.3 294.8v9.2M267.2 265.7h9.2M271.8 261.1v9.2M153.2 242.7h9.2M157.8 238.1v9.2M190.0 228.8h9.2M194.6 224.2v9.2M354.8 371.6h9.2M359.4 367.0v9.2"/>
<path fill="none" stroke="#0a0af5" stroke-width="1.5" d="M543.5 241.0l8.2 8.2M543.5 249.2l8.2 -8.2"/>
<path fill="none" stroke="#f50a0a" stroke-width="1.5" d="M246.5 188.9h9.2M251.1 184.3v9.2M201.0 242.5h9.2M205.6 237.9v9.2M251.1 278.2h9.2M255.7 273.6v9.2M229.3 296.8h9.2M233.9 292.2v9.2M216.5 181.2h9.2M221.1 176.6v9.2"/>
<path fill="none" stroke="#f50a0a" stroke-width="1.5" stroke-linejoin="round" d="M331.6 292.4L335.9 300.1H327.3Z"/>
<path fill="none" stroke="#f50a0a" stroke-width="1.5" d="M194.6 143.5h9.2M199.2 138.9v9.2M187.3 271.8h9.2M191.9 267.2v9.2M204.7 176.7h9.2M209.3 172.1v9.2M280.6 267.4h9.2M285.2 262.8v9.2M250.0 301.2h9.2M254.6 296.6v9.2M195.1 208.2h9.2M199.7 203.6v9.2M174.0 193.4h9.2M178.6 188.8v9.2M163.4 313.3h9.2M168.0 308.7v9.2M281.0 167.5h9.2M285.6 162.9v9.2M217.3 261.2h9.2M221.9 256.6v9.2M181.6 236.4h9.2M186.2 231.8v9.2M185.7 233.8h9.2M190.3 229.2v9.2M180.2 220.8h9.2M184.8 216.2v9.2M205.9 200.4h9.2M210.5 195.8v9.2M243.4 334.5h9.2M248.0 329.9v9.2M263.8 316.3h9.2M268.4 311.7v9.2M231.7 308.2h9.2M236.3 303.6v9.2M203.4 235.4h9.2M208.0 230.8v9.2M284.0 320.7h9.2M288.6 316.1v9.2M196.5 211.0h9.2M201.1 206.4v9.2M214.5 206.2h9.2M219.1 201.6v9.2M184.4 233.9h9.2M189.0 229.3v9.2M218.7 262.8h9.2M223.3 258.2v9.2"/>
<path fill="none" stroke="#f50a0a" stroke-width="1.5" stroke-linejoin="round" d="M427.6 260.1L431.9 267.8H423.3Z"/>
<path fill="none" stroke="#f50a0a" stroke-width="1.5" d="M209.8 232.3h9.2M214.4 227.7v9.2M208.1 153.6h9.2M212.7 149.0v9.2M240.1 237.8h9.2M244.7 233.2v9.2M222.2 163.1h9.2M226.8 158.5v9.2M331.4 232.8h9.2M336.0 228.2v9.2M232.7 224.6h9.2M237.3 220.0v9.2M218.6 283.9h9.2M223.2 279.3v9.2M232.5 134.3h9.2M237.1 129.7v9.2M182.4 238.6h9.2M187.0 234.0v9.2M308.4 311.6h9.2M313.0 307.0v9.2M276.5 195.5h9.2M281.1 190.9v9.2M264.5 270.0h9.2M269.1 265.4v9.2M283.5 333.1h9.2M288.1 328.5v9.2M222.0 297.4h9.2M226.6 292.8v9.2M232.1 327.5h9.2M236.7 322.9v9.2M210.9 300.3h9.2M215.5 295.7v9.2M179.5 284.7h9.2M184.1 280.1v9.2M256.3 255.3h9.2M260.9 250.7v9.2M166.7 279.6h9.2M171.3 275.0v9.2M171.0 294.3h9.2M175.6 289.7v9.2M232.0 276.1h9.2M236.6 271.5v9.2M242.0 190.5h9.2M246.6 185.9v9.2M148.8 220.2h9.2M153.4 215.6v9.2M176.9 163.5h9.2M181.5 158.9v9.2M251.0 237.3h9.2M255.6 232.7v9.2M265.8 173.9h9.2M270.4 169.3v9.2M174.4 253.7h9.2M179.0 249.1v9.2M231.5 376.9h9.2M236.1 372.3v9.2M219.5 318.6h9.2M224.1 314.0v9.2M268.7 210.7h9.2M273.3 206.1v9.2M206.3 326.2h9.2M210.9 321.6v9.2M198.9 286.3h9.2M203.5 281.7v9.2M172.8 221.6h9.2M177.4 217.0v9.2M209.8 227.9h9.2M214.4 223.3v9.2M277.6 242.7h9.2M282.2 238.1v9.2M245.4 214.2h9.2M250.0 209.6v9.2M230.5 218.5h9.2M235.1 213.9v9.2M231.0 226.6h9.2M235.6 222.0v9.2M272.4 285.2h9.2M277.0 280.6v9.2M246.3 271.3h9.2M250.9 266.7v9.2M162.4 314.6h9.2M167.0 310.0v9.2M249.2 228.0h9.2M253.8 223.4v9.2"/>
<path fill="none" stroke="#0a0af5" stroke-width="1.5" d="M550.3 181.1l8.2 8.2M550.3 189.3l8.2 -8.2"/>
<path fill="none" stroke="#f50a0a" stroke-width="1.5" d="M240.9 155.5h9.2M245.5 150.9v9.2M203.4 279.2h9.2M208.0 274.6v9.2M184.1 224.4h9.2M188.7 219.8v9.2M202.7 300.7h9.2M207.3 296.1v9.2M256.9 289.9h9.2M261.5 285.3v9.2M244.9 318.3h9.2M249.5 313.7v9.2M118.2 286.0h9.2M122.8 281.4v9.2M271.5 251.9h9.2M276.1 247.3v9.2M198.7 300.2h9.2M203.3 295.6v9.2"/>
<path fill="none" stroke="#0a0af5" stroke-width="1.5" d="M390.0 126.8l8.2 8.2M390.0 135.0l8.2 -8.2M373.0 224.4l8.2 8.2M373.0 232.6l8.2 -8.2"/>
<path fill="none" stroke="#f50a0a" stroke-width="1.5" stroke-linejoin="round" d="M410.5 374.1L414.8 381.8H406.2Z"/>
<path fill="none" stroke="#0a0af5" stroke-width="1.5" d="M364.2 147.4l8.2 8.2M364.2 155.6l8.2 -8.2"/>
<path fill="none" stroke="#f50a0a" stroke-width="1.5" stroke-linejoin="round" d="M458.4 198.9L462.7 206.6H454.1Z"/>
<path fill="none" stroke="#0a0af5" stroke-width="1.5" d="M413.8 175.9l8.2 8.2M413.8 184.1l8.2 -8.2M333.5 190.8l8.2 8.2M333.5 199.0l8.2 -8.2"/>
<path fill="none" stroke="#f50a0a" stroke-width="1.5" stroke-linejoin="round" d="M378.0 324.9L382.3 332.6H373.7ZM364.0 309.2L368.3 316.9H359.7ZM347.3 323.4L351.6 331.1H343.0ZM430.4 318.1L434.7 325.8H426.1ZM311.9 350.6L316.2 358.3H307.6Z"/>
<path fill="none" stroke="#0a0af5" stroke-width="1.5" d="M364.2 177.9l8.2 8.2M364.2 186.1l8.2 -8.2M393.1 200.3l8.2 8.2M393.1 208.5l8.2 -8.2M500.5 230.3l8.2 8.2M500.5 238.5l8.2 -8.2"/>
<path fill="none" stroke="#f50a0a" stroke-width="1.5" stroke-linejoin="round" d="M397.2 282.5L401.5 290.2H392.9ZM464.1 112.2L468.4 119.9H459.8ZM385.6 318.4L389.9 326.1H381.3ZM364.4 318.4L368.7 326.1H360.1ZM454.9 288.6L459.2 296.3H450.6ZM429.9 303.4L434.2 311.1H425.6ZM519.1 376.5L523.4 384.2H514.8ZM415.2 289.4L419.5 297.1H410.9ZM352.4 317.3L356.7 325.0H348.1ZM357.8 269.8L362.1 277.5H353.5ZM333.8 211.9L338.1 219.6H329.5ZM450.7 325.3L455.0 333.0H446.4ZM405.8 297.1L410.1 304.8H401.5ZM361.1 262.2L365.4 269.9H356.8ZM411.2 317.6L415.5 325.3H406.9ZM370.5 270.9L374.8 278.6H366.2ZM406.0 310.3L410.3 318.0H401.7ZM439.2 234.0L443.5 241.7H434.9Z"/>
<line x1="82.5" y1="145.6" x2="400" y2="181.8" stroke="#0000ee" stroke-width="2.8"/><line x1="64" y1="233.0" x2="380" y2="276.6" stroke="#ff0000" stroke-width="2.6" stroke-dasharray="13.3 6" stroke-dashoffset="2.7"/><line x1="304" y1="164.6" x2="643.9" y2="224.0" stroke="#0000ee" stroke-width="2.5" stroke-dasharray="19.3 6.4 4.8 7.2" stroke-dashoffset="30.2"/><line x1="311" y1="281.6" x2="588.7" y2="275.2" stroke="#ff0000" stroke-width="2.6" stroke-dasharray="30 8.6" stroke-dashoffset="37.1"/>
<line x1="212.05" y1="2.6" x2="212.05" y2="487.6" stroke="#000" stroke-opacity="0.64" stroke-width="1.8"/>
</g>
<rect x="64" y="2.6" width="619.2" height="485.0" fill="none" stroke="#a6a6a6" stroke-width="1.6"/>
<path d="M73.30 487.6V494.8M119.55 487.6V494.8M165.80 487.6V494.8M212.05 487.6V494.8M258.30 487.6V494.8M304.55 487.6V494.8M350.80 487.6V494.8M397.05 487.6V494.8M443.30 487.6V494.8M489.55 487.6V494.8M535.80 487.6V494.8M582.05 487.6V494.8M628.30 487.6V494.8M674.55 487.6V494.8M56 478.10H64M56 431.48H64M56 384.86H64M56 338.24H64M56 291.62H64M56 245.00H64M56 198.38H64M56 151.76H64M56 105.14H64M56 58.52H64M56 11.90H64" stroke="#a6a6a6" stroke-width="1.6" fill="none"/>
<g><text x="73.30" y="517.5" text-anchor="middle">−3</text><text x="119.55" y="517.5" text-anchor="middle">−2</text><text x="165.80" y="517.5" text-anchor="middle">−1</text><text x="212.05" y="517.5" text-anchor="middle">0</text><text x="258.30" y="517.5" text-anchor="middle">1</text><text x="304.55" y="517.5" text-anchor="middle">2</text><text x="350.80" y="517.5" text-anchor="middle">3</text><text x="397.05" y="517.5" text-anchor="middle">4</text><text x="443.30" y="517.5" text-anchor="middle">5</text><text x="489.55" y="517.5" text-anchor="middle">6</text><text x="535.80" y="517.5" text-anchor="middle">7</text><text x="582.05" y="517.5" text-anchor="middle">8</text><text x="628.30" y="517.5" text-anchor="middle">9</text><text x="674.55" y="517.5" text-anchor="middle">10</text><text x="45.5" y="484.30" text-anchor="end">5</text><text x="45.5" y="437.68" text-anchor="end">6</text><text x="45.5" y="391.06" text-anchor="end">7</text><text x="45.5" y="344.44" text-anchor="end">8</text><text x="45.5" y="297.82" text-anchor="end">9</text><text x="45.5" y="251.20" text-anchor="end">10</text><text x="45.5" y="204.58" text-anchor="end">11</text><text x="45.5" y="157.96" text-anchor="end">12</text><text x="45.5" y="111.34" text-anchor="end">13</text><text x="45.5" y="64.72" text-anchor="end">14</text><text x="45.5" y="18.10" text-anchor="end">15</text><text x="373.5" y="547" text-anchor="middle">BMISDS</text><text transform="translate(13,243.5) rotate(-90)" text-anchor="middle" font-size="16.8">AgeP5 (years)</text></g>
</svg>
</body></html>
